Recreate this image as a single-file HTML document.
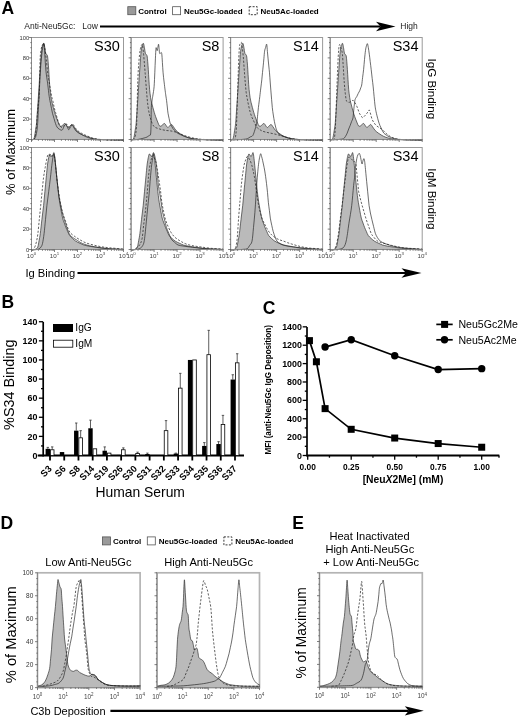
<!DOCTYPE html>
<html><head><meta charset="utf-8"><title>Figure</title>
<style>html,body{margin:0;padding:0;background:#fff;width:520px;height:718px;overflow:hidden;font-family:"Liberation Sans",sans-serif}svg{filter:grayscale(1)}</style>
</head><body>
<svg width="520" height="718" viewBox="0 0 520 718" style="display:block;font-family:'Liberation Sans', sans-serif">
<rect width="520" height="718" fill="#fff"/>
<text x="1.5" y="13.8" font-size="17.5" font-weight="bold" text-anchor="start" fill="#000" >A</text>
<rect x="127.8" y="6.7" width="8" height="8" fill="#9a9a9a" stroke="#555" stroke-width="0.8"/>
<text x="138.2" y="13.9" font-size="8" font-weight="bold" text-anchor="start" fill="#000" >Control</text>
<rect x="172.6" y="6.7" width="8" height="8" fill="#fff" stroke="#555" stroke-width="0.8"/>
<text x="184" y="13.9" font-size="8" font-weight="bold" text-anchor="start" fill="#000" >Neu5Gc-loaded</text>
<rect x="249.2" y="6.7" width="8" height="8" fill="#fff" stroke="#222" stroke-width="0.9" stroke-dasharray="2,1.4"/>
<text x="260.5" y="13.9" font-size="8" font-weight="bold" text-anchor="start" fill="#000" >Neu5Ac-loaded</text>
<text x="24.3" y="29.3" font-size="8.5" font-weight="normal" text-anchor="start" fill="#222" >Anti-Neu5Gc:</text>
<text x="82.2" y="29.3" font-size="8.5" font-weight="normal" text-anchor="start" fill="#222" >Low</text>
<line x1="100" y1="26.5" x2="380.5" y2="26.5" stroke="#000" stroke-width="2.1"/>
<path d="M395.5,26.5 L376,21.8 L380.5,26.5 L376,31.2 Z" fill="#000"/>
<text x="400.3" y="29.3" font-size="8.5" font-weight="normal" text-anchor="start" fill="#222" >High</text>
<rect x="31.5" y="37.5" width="92" height="102" fill="#fff" stroke="#9a9a9a" stroke-width="1"/>
<path d="M31.5,140 C31.75,139.95 32.58,139.95 33,139.7 C33.42,139.45 33.72,139.2 34,138.5 C34.28,137.8 34.45,136.83 34.7,135.5 C34.95,134.17 35.2,132.5 35.5,130.5 C35.8,128.5 36.17,127 36.5,123.5 C36.83,120 37.18,114 37.5,109.5 C37.82,105 38.13,100.5 38.4,96.5 C38.67,92.5 38.9,88.67 39.1,85.5 C39.3,82.33 39.4,80.5 39.6,77.5 C39.8,74.5 40.08,70.67 40.3,67.5 C40.52,64.33 40.7,61.17 40.9,58.5 C41.1,55.83 41.27,53.5 41.5,51.5 C41.73,49.5 42.03,47.67 42.3,46.5 C42.57,45.33 42.83,45.02 43.1,44.5 C43.37,43.98 43.62,42.9 43.9,43.4 C44.18,43.9 44.5,45.9 44.8,47.5 C45.1,49.1 45.42,51.87 45.7,53 C45.98,54.13 46.2,53.8 46.5,54.3 C46.8,54.8 47.23,54.8 47.5,56 C47.77,57.2 47.9,59.25 48.1,61.5 C48.3,63.75 48.5,66.5 48.7,69.5 C48.9,72.5 49.08,76.17 49.3,79.5 C49.52,82.83 49.72,86.5 50,89.5 C50.28,92.5 50.67,95.33 51,97.5 C51.33,99.67 51.62,100.83 52,102.5 C52.38,104.17 52.85,105.83 53.3,107.5 C53.75,109.17 54.25,111 54.7,112.5 C55.15,114 55.57,115.25 56,116.5 C56.43,117.75 56.88,118.92 57.3,120 C57.72,121.08 58.08,122.03 58.5,123 C58.92,123.97 59.3,125.28 59.8,125.8 C60.3,126.32 60.92,126.32 61.5,126.1 C62.08,125.88 62.72,124.93 63.3,124.5 C63.88,124.07 64.47,123.33 65,123.5 C65.53,123.67 65.97,124.83 66.5,125.5 C67.03,126.17 67.62,127.42 68.2,127.5 C68.78,127.58 69.37,126.5 70,126 C70.63,125.5 71.33,124.33 72,124.5 C72.67,124.67 73.25,126 74,127 C74.75,128 75.58,129.5 76.5,130.5 C77.42,131.5 78.42,132.2 79.5,133 C80.58,133.8 81.83,134.63 83,135.3 C84.17,135.97 85.08,136.47 86.5,137 C87.92,137.53 89.5,138.08 91.5,138.5 C93.5,138.92 95.17,139.28 98.5,139.5 C101.83,139.72 107.33,139.72 111.5,139.8 C115.67,139.88 121.5,139.97 123.5,140 L123.5,139.5 L31.5,139.5 Z" fill="#bababa" stroke="none"/>
<path d="M31.5,140 C31.75,139.95 32.58,139.95 33,139.7 C33.42,139.45 33.72,139.2 34,138.5 C34.28,137.8 34.45,136.83 34.7,135.5 C34.95,134.17 35.2,132.5 35.5,130.5 C35.8,128.5 36.17,127 36.5,123.5 C36.83,120 37.18,114 37.5,109.5 C37.82,105 38.13,100.5 38.4,96.5 C38.67,92.5 38.9,88.67 39.1,85.5 C39.3,82.33 39.4,80.5 39.6,77.5 C39.8,74.5 40.08,70.67 40.3,67.5 C40.52,64.33 40.7,61.17 40.9,58.5 C41.1,55.83 41.27,53.5 41.5,51.5 C41.73,49.5 42.03,47.67 42.3,46.5 C42.57,45.33 42.83,45.02 43.1,44.5 C43.37,43.98 43.62,42.9 43.9,43.4 C44.18,43.9 44.5,45.9 44.8,47.5 C45.1,49.1 45.42,51.87 45.7,53 C45.98,54.13 46.2,53.8 46.5,54.3 C46.8,54.8 47.23,54.8 47.5,56 C47.77,57.2 47.9,59.25 48.1,61.5 C48.3,63.75 48.5,66.5 48.7,69.5 C48.9,72.5 49.08,76.17 49.3,79.5 C49.52,82.83 49.72,86.5 50,89.5 C50.28,92.5 50.67,95.33 51,97.5 C51.33,99.67 51.62,100.83 52,102.5 C52.38,104.17 52.85,105.83 53.3,107.5 C53.75,109.17 54.25,111 54.7,112.5 C55.15,114 55.57,115.25 56,116.5 C56.43,117.75 56.88,118.92 57.3,120 C57.72,121.08 58.08,122.03 58.5,123 C58.92,123.97 59.3,125.28 59.8,125.8 C60.3,126.32 60.92,126.32 61.5,126.1 C62.08,125.88 62.72,124.93 63.3,124.5 C63.88,124.07 64.47,123.33 65,123.5 C65.53,123.67 65.97,124.83 66.5,125.5 C67.03,126.17 67.62,127.42 68.2,127.5 C68.78,127.58 69.37,126.5 70,126 C70.63,125.5 71.33,124.33 72,124.5 C72.67,124.67 73.25,126 74,127 C74.75,128 75.58,129.5 76.5,130.5 C77.42,131.5 78.42,132.2 79.5,133 C80.58,133.8 81.83,134.63 83,135.3 C84.17,135.97 85.08,136.47 86.5,137 C87.92,137.53 89.5,138.08 91.5,138.5 C93.5,138.92 95.17,139.28 98.5,139.5 C101.83,139.72 107.33,139.72 111.5,139.8 C115.67,139.88 121.5,139.97 123.5,140" fill="none" stroke="#262626" stroke-width="0.65"/>
<path d="M34,140 C34.17,139.58 34.65,139.25 35,137.5 C35.35,135.75 35.75,132.83 36.1,129.5 C36.45,126.17 36.77,121.5 37.1,117.5 C37.43,113.5 37.77,109 38.1,105.5 C38.43,102 38.83,101.17 39.1,96.5 C39.37,91.83 39.52,84 39.7,77.5 C39.88,71 39.92,62.42 40.2,57.5 C40.48,52.58 40.98,50.17 41.4,48 C41.82,45.83 42.32,45.25 42.7,44.5 C43.08,43.75 43.4,43.17 43.7,43.5 C44,43.83 44.23,45.17 44.5,46.5 C44.77,47.83 45,49.33 45.3,51.5 C45.6,53.67 45.93,56.17 46.3,59.5 C46.67,62.83 47.1,68.17 47.5,71.5 C47.9,74.83 48.27,76.83 48.7,79.5 C49.13,82.17 49.6,84.67 50.1,87.5 C50.6,90.33 51.22,94.17 51.7,96.5 C52.18,98.83 52.62,99.83 53,101.5 C53.38,103.17 53.67,105 54,106.5 C54.33,108 54.68,109.33 55,110.5 C55.32,111.67 55.52,112.17 55.9,113.5 C56.28,114.83 56.87,117 57.3,118.5 C57.73,120 58.05,121.25 58.5,122.5 C58.95,123.75 59.42,125.17 60,126 C60.58,126.83 61.33,127.58 62,127.5 C62.67,127.42 63.33,126.17 64,125.5 C64.67,124.83 65.37,123.42 66,123.5 C66.63,123.58 67.22,125.33 67.8,126 C68.38,126.67 68.97,127.58 69.5,127.5 C70.03,127.42 70.47,126.08 71,125.5 C71.53,124.92 72.12,123.83 72.7,124 C73.28,124.17 73.87,125.58 74.5,126.5 C75.13,127.42 75.67,128.58 76.5,129.5 C77.33,130.42 78.33,131.2 79.5,132 C80.67,132.8 82.17,133.63 83.5,134.3 C84.83,134.97 85.83,135.33 87.5,136 C89.17,136.67 90.83,137.68 93.5,138.3 C96.17,138.92 98.5,139.42 103.5,139.7 C108.5,139.98 120.17,139.95 123.5,140" fill="none" stroke="#1e1e1e" stroke-width="0.7" stroke-dasharray="2.2,1.6"/>
<path d="M31.5,140 C31.75,139.92 32.5,139.75 33,139.5 C33.5,139.25 34,139.17 34.5,138.5 C35,137.83 35.5,137.67 36,135.5 C36.5,133.33 37.05,130.83 37.5,125.5 C37.95,120.17 38.3,111.17 38.7,103.5 C39.1,95.83 39.5,86.5 39.9,79.5 C40.3,72.5 40.7,66.33 41.1,61.5 C41.5,56.67 41.93,53.25 42.3,50.5 C42.67,47.75 43.03,46.17 43.3,45 C43.57,43.83 43.73,43.08 43.9,43.5 C44.07,43.92 44.15,45.63 44.3,47.5 C44.45,49.37 44.52,50.72 44.8,54.7 C45.08,58.68 45.52,66.53 46,71.4 C46.48,76.27 47.17,79.72 47.7,83.9 C48.23,88.08 48.73,93.23 49.2,96.5 C49.67,99.77 50.12,101.5 50.5,103.5 C50.88,105.5 51.17,106.85 51.5,108.5 C51.83,110.15 52.08,111.73 52.5,113.4 C52.92,115.07 53.5,116.82 54,118.5 C54.5,120.18 55,122.08 55.5,123.5 C56,124.92 56.42,126.08 57,127 C57.58,127.92 58.15,128.48 59,129 C59.85,129.52 61.27,130.52 62.1,130.1 C62.93,129.68 63.37,127.47 64,126.5 C64.63,125.53 65.32,124.13 65.9,124.3 C66.48,124.47 67.02,126.6 67.5,127.5 C67.98,128.4 68.3,129.78 68.8,129.7 C69.3,129.62 69.93,127.77 70.5,127 C71.07,126.23 71.62,124.93 72.2,125.1 C72.78,125.27 73.37,127.02 74,128 C74.63,128.98 75.23,130.17 76,131 C76.77,131.83 77.68,132.42 78.6,133 C79.52,133.58 80.32,134 81.5,134.5 C82.68,135 83.72,135.28 85.7,136 C87.68,136.72 90.43,138.18 93.4,138.8 C96.37,139.42 98.48,139.5 103.5,139.7 C108.52,139.9 120.17,139.95 123.5,140" fill="none" stroke="#1e1e1e" stroke-width="0.65"/>
<line x1="31.5" y1="37.5" x2="31.5" y2="139.5" stroke="#8a8a8a" stroke-width="1"/>
<line x1="31.5" y1="139.5" x2="123.5" y2="139.5" stroke="#8a8a8a" stroke-width="1"/>
<line x1="29" y1="139.5" x2="31.5" y2="139.5" stroke="#4a4a4a" stroke-width="0.7"/>
<line x1="30.3" y1="134.4" x2="31.5" y2="134.4" stroke="#4a4a4a" stroke-width="0.7"/>
<line x1="30.3" y1="129.3" x2="31.5" y2="129.3" stroke="#4a4a4a" stroke-width="0.7"/>
<line x1="30.3" y1="124.2" x2="31.5" y2="124.2" stroke="#4a4a4a" stroke-width="0.7"/>
<line x1="29" y1="119.1" x2="31.5" y2="119.1" stroke="#4a4a4a" stroke-width="0.7"/>
<line x1="30.3" y1="114" x2="31.5" y2="114" stroke="#4a4a4a" stroke-width="0.7"/>
<line x1="30.3" y1="108.9" x2="31.5" y2="108.9" stroke="#4a4a4a" stroke-width="0.7"/>
<line x1="30.3" y1="103.8" x2="31.5" y2="103.8" stroke="#4a4a4a" stroke-width="0.7"/>
<line x1="29" y1="98.7" x2="31.5" y2="98.7" stroke="#4a4a4a" stroke-width="0.7"/>
<line x1="30.3" y1="93.6" x2="31.5" y2="93.6" stroke="#4a4a4a" stroke-width="0.7"/>
<line x1="30.3" y1="88.5" x2="31.5" y2="88.5" stroke="#4a4a4a" stroke-width="0.7"/>
<line x1="30.3" y1="83.4" x2="31.5" y2="83.4" stroke="#4a4a4a" stroke-width="0.7"/>
<line x1="29" y1="78.3" x2="31.5" y2="78.3" stroke="#4a4a4a" stroke-width="0.7"/>
<line x1="30.3" y1="73.2" x2="31.5" y2="73.2" stroke="#4a4a4a" stroke-width="0.7"/>
<line x1="30.3" y1="68.1" x2="31.5" y2="68.1" stroke="#4a4a4a" stroke-width="0.7"/>
<line x1="30.3" y1="63" x2="31.5" y2="63" stroke="#4a4a4a" stroke-width="0.7"/>
<line x1="29" y1="57.9" x2="31.5" y2="57.9" stroke="#4a4a4a" stroke-width="0.7"/>
<line x1="30.3" y1="52.8" x2="31.5" y2="52.8" stroke="#4a4a4a" stroke-width="0.7"/>
<line x1="30.3" y1="47.7" x2="31.5" y2="47.7" stroke="#4a4a4a" stroke-width="0.7"/>
<line x1="30.3" y1="42.6" x2="31.5" y2="42.6" stroke="#4a4a4a" stroke-width="0.7"/>
<line x1="29" y1="37.5" x2="31.5" y2="37.5" stroke="#4a4a4a" stroke-width="0.7"/>
<line x1="31.5" y1="139.5" x2="31.5" y2="142" stroke="#4a4a4a" stroke-width="0.7"/>
<line x1="38.42" y1="139.5" x2="38.42" y2="140.8" stroke="#4a4a4a" stroke-width="0.7"/>
<line x1="42.47" y1="139.5" x2="42.47" y2="140.8" stroke="#4a4a4a" stroke-width="0.7"/>
<line x1="45.35" y1="139.5" x2="45.35" y2="140.8" stroke="#4a4a4a" stroke-width="0.7"/>
<line x1="47.58" y1="139.5" x2="47.58" y2="140.8" stroke="#4a4a4a" stroke-width="0.7"/>
<line x1="49.4" y1="139.5" x2="49.4" y2="140.8" stroke="#4a4a4a" stroke-width="0.7"/>
<line x1="50.94" y1="139.5" x2="50.94" y2="140.8" stroke="#4a4a4a" stroke-width="0.7"/>
<line x1="52.27" y1="139.5" x2="52.27" y2="140.8" stroke="#4a4a4a" stroke-width="0.7"/>
<line x1="53.45" y1="139.5" x2="53.45" y2="140.8" stroke="#4a4a4a" stroke-width="0.7"/>
<line x1="54.5" y1="139.5" x2="54.5" y2="142" stroke="#4a4a4a" stroke-width="0.7"/>
<line x1="61.42" y1="139.5" x2="61.42" y2="140.8" stroke="#4a4a4a" stroke-width="0.7"/>
<line x1="65.47" y1="139.5" x2="65.47" y2="140.8" stroke="#4a4a4a" stroke-width="0.7"/>
<line x1="68.35" y1="139.5" x2="68.35" y2="140.8" stroke="#4a4a4a" stroke-width="0.7"/>
<line x1="70.58" y1="139.5" x2="70.58" y2="140.8" stroke="#4a4a4a" stroke-width="0.7"/>
<line x1="72.4" y1="139.5" x2="72.4" y2="140.8" stroke="#4a4a4a" stroke-width="0.7"/>
<line x1="73.94" y1="139.5" x2="73.94" y2="140.8" stroke="#4a4a4a" stroke-width="0.7"/>
<line x1="75.27" y1="139.5" x2="75.27" y2="140.8" stroke="#4a4a4a" stroke-width="0.7"/>
<line x1="76.45" y1="139.5" x2="76.45" y2="140.8" stroke="#4a4a4a" stroke-width="0.7"/>
<line x1="77.5" y1="139.5" x2="77.5" y2="142" stroke="#4a4a4a" stroke-width="0.7"/>
<line x1="84.42" y1="139.5" x2="84.42" y2="140.8" stroke="#4a4a4a" stroke-width="0.7"/>
<line x1="88.47" y1="139.5" x2="88.47" y2="140.8" stroke="#4a4a4a" stroke-width="0.7"/>
<line x1="91.35" y1="139.5" x2="91.35" y2="140.8" stroke="#4a4a4a" stroke-width="0.7"/>
<line x1="93.58" y1="139.5" x2="93.58" y2="140.8" stroke="#4a4a4a" stroke-width="0.7"/>
<line x1="95.4" y1="139.5" x2="95.4" y2="140.8" stroke="#4a4a4a" stroke-width="0.7"/>
<line x1="96.94" y1="139.5" x2="96.94" y2="140.8" stroke="#4a4a4a" stroke-width="0.7"/>
<line x1="98.27" y1="139.5" x2="98.27" y2="140.8" stroke="#4a4a4a" stroke-width="0.7"/>
<line x1="99.45" y1="139.5" x2="99.45" y2="140.8" stroke="#4a4a4a" stroke-width="0.7"/>
<line x1="100.5" y1="139.5" x2="100.5" y2="142" stroke="#4a4a4a" stroke-width="0.7"/>
<line x1="107.42" y1="139.5" x2="107.42" y2="140.8" stroke="#4a4a4a" stroke-width="0.7"/>
<line x1="111.47" y1="139.5" x2="111.47" y2="140.8" stroke="#4a4a4a" stroke-width="0.7"/>
<line x1="114.35" y1="139.5" x2="114.35" y2="140.8" stroke="#4a4a4a" stroke-width="0.7"/>
<line x1="116.58" y1="139.5" x2="116.58" y2="140.8" stroke="#4a4a4a" stroke-width="0.7"/>
<line x1="118.4" y1="139.5" x2="118.4" y2="140.8" stroke="#4a4a4a" stroke-width="0.7"/>
<line x1="119.94" y1="139.5" x2="119.94" y2="140.8" stroke="#4a4a4a" stroke-width="0.7"/>
<line x1="121.27" y1="139.5" x2="121.27" y2="140.8" stroke="#4a4a4a" stroke-width="0.7"/>
<line x1="122.45" y1="139.5" x2="122.45" y2="140.8" stroke="#4a4a4a" stroke-width="0.7"/>
<line x1="123.5" y1="139.5" x2="123.5" y2="142" stroke="#4a4a4a" stroke-width="0.7"/>
<text x="29.2" y="141.59" font-size="5.8" font-weight="normal" text-anchor="end" fill="#333" >0</text>
<text x="29.2" y="121.19" font-size="5.8" font-weight="normal" text-anchor="end" fill="#333" >20</text>
<text x="29.2" y="100.79" font-size="5.8" font-weight="normal" text-anchor="end" fill="#333" >40</text>
<text x="29.2" y="80.39" font-size="5.8" font-weight="normal" text-anchor="end" fill="#333" >60</text>
<text x="29.2" y="59.99" font-size="5.8" font-weight="normal" text-anchor="end" fill="#333" >80</text>
<text x="29.2" y="39.59" font-size="5.8" font-weight="normal" text-anchor="end" fill="#333" >100</text>
<text x="119.8" y="50.9" font-size="14.5" font-weight="normal" text-anchor="end" fill="#000" >S30</text>
<rect x="131.1" y="37.5" width="92" height="102" fill="#fff" stroke="#9a9a9a" stroke-width="1"/>
<path d="M131.1,140 C131.35,139.95 132.18,139.95 132.6,139.7 C133.02,139.45 133.32,139.2 133.6,138.5 C133.88,137.8 134.05,136.83 134.3,135.5 C134.55,134.17 134.8,132.5 135.1,130.5 C135.4,128.5 135.77,127 136.1,123.5 C136.43,120 136.78,114 137.1,109.5 C137.42,105 137.73,100.5 138,96.5 C138.27,92.5 138.5,88.67 138.7,85.5 C138.9,82.33 139,80.5 139.2,77.5 C139.4,74.5 139.68,70.67 139.9,67.5 C140.12,64.33 140.3,61.17 140.5,58.5 C140.7,55.83 140.87,53.5 141.1,51.5 C141.33,49.5 141.63,47.67 141.9,46.5 C142.17,45.33 142.43,45.02 142.7,44.5 C142.97,43.98 143.22,42.9 143.5,43.4 C143.78,43.9 144.1,45.9 144.4,47.5 C144.7,49.1 145.02,51.87 145.3,53 C145.58,54.13 145.8,53.8 146.1,54.3 C146.4,54.8 146.83,54.8 147.1,56 C147.37,57.2 147.5,59.25 147.7,61.5 C147.9,63.75 148.1,66.5 148.3,69.5 C148.5,72.5 148.68,76.17 148.9,79.5 C149.12,82.83 149.32,86.5 149.6,89.5 C149.88,92.5 150.27,95.33 150.6,97.5 C150.93,99.67 151.22,100.83 151.6,102.5 C151.98,104.17 152.45,105.83 152.9,107.5 C153.35,109.17 153.85,111 154.3,112.5 C154.75,114 155.17,115.25 155.6,116.5 C156.03,117.75 156.48,118.92 156.9,120 C157.32,121.08 157.68,122.03 158.1,123 C158.52,123.97 158.9,125.28 159.4,125.8 C159.9,126.32 160.52,126.32 161.1,126.1 C161.68,125.88 162.32,124.93 162.9,124.5 C163.48,124.07 164.07,123.33 164.6,123.5 C165.13,123.67 165.57,124.83 166.1,125.5 C166.63,126.17 167.22,127.42 167.8,127.5 C168.38,127.58 168.97,126.5 169.6,126 C170.23,125.5 170.93,124.33 171.6,124.5 C172.27,124.67 172.85,126 173.6,127 C174.35,128 175.18,129.5 176.1,130.5 C177.02,131.5 178.02,132.2 179.1,133 C180.18,133.8 181.43,134.63 182.6,135.3 C183.77,135.97 184.68,136.47 186.1,137 C187.52,137.53 189.1,138.08 191.1,138.5 C193.1,138.92 194.77,139.28 198.1,139.5 C201.43,139.72 206.93,139.72 211.1,139.8 C215.27,139.88 221.1,139.97 223.1,140 L223.1,139.5 L131.1,139.5 Z" fill="#bababa" stroke="none"/>
<path d="M131.1,140 C131.35,139.95 132.18,139.95 132.6,139.7 C133.02,139.45 133.32,139.2 133.6,138.5 C133.88,137.8 134.05,136.83 134.3,135.5 C134.55,134.17 134.8,132.5 135.1,130.5 C135.4,128.5 135.77,127 136.1,123.5 C136.43,120 136.78,114 137.1,109.5 C137.42,105 137.73,100.5 138,96.5 C138.27,92.5 138.5,88.67 138.7,85.5 C138.9,82.33 139,80.5 139.2,77.5 C139.4,74.5 139.68,70.67 139.9,67.5 C140.12,64.33 140.3,61.17 140.5,58.5 C140.7,55.83 140.87,53.5 141.1,51.5 C141.33,49.5 141.63,47.67 141.9,46.5 C142.17,45.33 142.43,45.02 142.7,44.5 C142.97,43.98 143.22,42.9 143.5,43.4 C143.78,43.9 144.1,45.9 144.4,47.5 C144.7,49.1 145.02,51.87 145.3,53 C145.58,54.13 145.8,53.8 146.1,54.3 C146.4,54.8 146.83,54.8 147.1,56 C147.37,57.2 147.5,59.25 147.7,61.5 C147.9,63.75 148.1,66.5 148.3,69.5 C148.5,72.5 148.68,76.17 148.9,79.5 C149.12,82.83 149.32,86.5 149.6,89.5 C149.88,92.5 150.27,95.33 150.6,97.5 C150.93,99.67 151.22,100.83 151.6,102.5 C151.98,104.17 152.45,105.83 152.9,107.5 C153.35,109.17 153.85,111 154.3,112.5 C154.75,114 155.17,115.25 155.6,116.5 C156.03,117.75 156.48,118.92 156.9,120 C157.32,121.08 157.68,122.03 158.1,123 C158.52,123.97 158.9,125.28 159.4,125.8 C159.9,126.32 160.52,126.32 161.1,126.1 C161.68,125.88 162.32,124.93 162.9,124.5 C163.48,124.07 164.07,123.33 164.6,123.5 C165.13,123.67 165.57,124.83 166.1,125.5 C166.63,126.17 167.22,127.42 167.8,127.5 C168.38,127.58 168.97,126.5 169.6,126 C170.23,125.5 170.93,124.33 171.6,124.5 C172.27,124.67 172.85,126 173.6,127 C174.35,128 175.18,129.5 176.1,130.5 C177.02,131.5 178.02,132.2 179.1,133 C180.18,133.8 181.43,134.63 182.6,135.3 C183.77,135.97 184.68,136.47 186.1,137 C187.52,137.53 189.1,138.08 191.1,138.5 C193.1,138.92 194.77,139.28 198.1,139.5 C201.43,139.72 206.93,139.72 211.1,139.8 C215.27,139.88 221.1,139.97 223.1,140" fill="none" stroke="#262626" stroke-width="0.65"/>
<path d="M133.1,140 C133.27,139.75 133.68,139.42 134.1,138.5 C134.52,137.58 135.17,137.05 135.6,134.5 C136.03,131.95 136.4,129.82 136.7,123.2 C137,116.58 137.17,103.08 137.4,94.8 C137.63,86.52 137.75,80.13 138.1,73.5 C138.45,66.87 139.03,59.5 139.5,55 C139.97,50.5 140.53,48.17 140.9,46.5 C141.27,44.83 141.45,45.35 141.7,45 C141.95,44.65 142.17,43.65 142.4,44.4 C142.63,45.15 142.87,47.48 143.1,49.5 C143.33,51.52 143.45,52.5 143.8,56.5 C144.15,60.5 144.73,67.58 145.2,73.5 C145.67,79.42 146.13,86.55 146.6,92 C147.07,97.45 147.4,101.95 148,106.2 C148.6,110.45 149.25,114.18 150.2,117.5 C151.15,120.82 152.17,124.2 153.7,126.1 C155.23,128 157.5,128.2 159.4,128.9 C161.3,129.6 163.15,129.95 165.1,130.3 C167.05,130.65 169.1,130.63 171.1,131 C173.1,131.37 175.1,131.83 177.1,132.5 C179.1,133.17 180.77,134.17 183.1,135 C185.43,135.83 188.1,136.78 191.1,137.5 C194.1,138.22 195.77,138.88 201.1,139.3 C206.43,139.72 219.43,139.88 223.1,140" fill="none" stroke="#1e1e1e" stroke-width="0.7" stroke-dasharray="2.2,1.6"/>
<path d="M131.1,140 C131.93,139.95 134.6,139.87 136.1,139.7 C137.6,139.53 138.77,139.28 140.1,139 C141.43,138.72 142.93,138.33 144.1,138 C145.27,137.67 146.27,137.42 147.1,137 C147.93,136.58 148.52,135.98 149.1,135.5 C149.68,135.02 150.27,136.27 150.6,134.1 C150.93,131.93 150.98,126.92 151.1,122.5 C151.22,118.08 151.13,111.27 151.3,107.6 C151.47,103.93 151.87,102.35 152.1,100.5 C152.33,98.65 152.47,98 152.7,96.5 C152.93,95 153.27,93.13 153.5,91.5 C153.73,89.87 153.93,88.7 154.1,86.7 C154.27,84.7 154.38,81.82 154.5,79.5 C154.62,77.18 154.7,75.13 154.8,72.8 C154.9,70.47 155,67.82 155.1,65.5 C155.2,63.18 155.3,61.07 155.4,58.9 C155.5,56.73 155.58,54.37 155.7,52.5 C155.82,50.63 155.93,48.2 156.1,47.7 C156.27,47.2 156.5,49.03 156.7,49.5 C156.9,49.97 157.08,51 157.3,50.5 C157.52,50 157.78,47.53 158,46.5 C158.22,45.47 158.42,43.97 158.6,44.3 C158.78,44.63 158.93,47 159.1,48.5 C159.27,50 159.35,52.55 159.6,53.3 C159.85,54.05 160.25,53 160.6,53 C160.95,53 161.4,51.72 161.7,53.3 C162,54.88 162.17,59.25 162.4,62.5 C162.63,65.75 162.82,69.55 163.1,72.8 C163.38,76.05 163.75,78.98 164.1,82 C164.45,85.02 164.9,88.57 165.2,90.9 C165.5,93.23 165.67,94.37 165.9,96 C166.13,97.63 166.37,98.87 166.6,100.7 C166.83,102.53 167.07,104.92 167.3,107 C167.53,109.08 167.7,111.28 168,113.2 C168.3,115.12 168.75,116.87 169.1,118.5 C169.45,120.13 169.7,121.75 170.1,123 C170.5,124.25 171.03,125.08 171.5,126 C171.97,126.92 172.33,127.72 172.9,128.5 C173.47,129.28 174.22,130 174.9,130.7 C175.58,131.4 176.13,132.07 177,132.7 C177.87,133.33 178.75,133.87 180.1,134.5 C181.45,135.13 182.93,135.8 185.1,136.5 C187.27,137.2 189.77,138.17 193.1,138.7 C196.43,139.23 200.1,139.48 205.1,139.7 C210.1,139.92 220.1,139.95 223.1,140" fill="none" stroke="#1e1e1e" stroke-width="0.65"/>
<line x1="131.1" y1="37.5" x2="131.1" y2="139.5" stroke="#8a8a8a" stroke-width="1"/>
<line x1="131.1" y1="139.5" x2="223.1" y2="139.5" stroke="#8a8a8a" stroke-width="1"/>
<line x1="128.6" y1="139.5" x2="131.1" y2="139.5" stroke="#4a4a4a" stroke-width="0.7"/>
<line x1="129.9" y1="134.4" x2="131.1" y2="134.4" stroke="#4a4a4a" stroke-width="0.7"/>
<line x1="129.9" y1="129.3" x2="131.1" y2="129.3" stroke="#4a4a4a" stroke-width="0.7"/>
<line x1="129.9" y1="124.2" x2="131.1" y2="124.2" stroke="#4a4a4a" stroke-width="0.7"/>
<line x1="128.6" y1="119.1" x2="131.1" y2="119.1" stroke="#4a4a4a" stroke-width="0.7"/>
<line x1="129.9" y1="114" x2="131.1" y2="114" stroke="#4a4a4a" stroke-width="0.7"/>
<line x1="129.9" y1="108.9" x2="131.1" y2="108.9" stroke="#4a4a4a" stroke-width="0.7"/>
<line x1="129.9" y1="103.8" x2="131.1" y2="103.8" stroke="#4a4a4a" stroke-width="0.7"/>
<line x1="128.6" y1="98.7" x2="131.1" y2="98.7" stroke="#4a4a4a" stroke-width="0.7"/>
<line x1="129.9" y1="93.6" x2="131.1" y2="93.6" stroke="#4a4a4a" stroke-width="0.7"/>
<line x1="129.9" y1="88.5" x2="131.1" y2="88.5" stroke="#4a4a4a" stroke-width="0.7"/>
<line x1="129.9" y1="83.4" x2="131.1" y2="83.4" stroke="#4a4a4a" stroke-width="0.7"/>
<line x1="128.6" y1="78.3" x2="131.1" y2="78.3" stroke="#4a4a4a" stroke-width="0.7"/>
<line x1="129.9" y1="73.2" x2="131.1" y2="73.2" stroke="#4a4a4a" stroke-width="0.7"/>
<line x1="129.9" y1="68.1" x2="131.1" y2="68.1" stroke="#4a4a4a" stroke-width="0.7"/>
<line x1="129.9" y1="63" x2="131.1" y2="63" stroke="#4a4a4a" stroke-width="0.7"/>
<line x1="128.6" y1="57.9" x2="131.1" y2="57.9" stroke="#4a4a4a" stroke-width="0.7"/>
<line x1="129.9" y1="52.8" x2="131.1" y2="52.8" stroke="#4a4a4a" stroke-width="0.7"/>
<line x1="129.9" y1="47.7" x2="131.1" y2="47.7" stroke="#4a4a4a" stroke-width="0.7"/>
<line x1="129.9" y1="42.6" x2="131.1" y2="42.6" stroke="#4a4a4a" stroke-width="0.7"/>
<line x1="128.6" y1="37.5" x2="131.1" y2="37.5" stroke="#4a4a4a" stroke-width="0.7"/>
<line x1="131.1" y1="139.5" x2="131.1" y2="142" stroke="#4a4a4a" stroke-width="0.7"/>
<line x1="138.02" y1="139.5" x2="138.02" y2="140.8" stroke="#4a4a4a" stroke-width="0.7"/>
<line x1="142.07" y1="139.5" x2="142.07" y2="140.8" stroke="#4a4a4a" stroke-width="0.7"/>
<line x1="144.95" y1="139.5" x2="144.95" y2="140.8" stroke="#4a4a4a" stroke-width="0.7"/>
<line x1="147.18" y1="139.5" x2="147.18" y2="140.8" stroke="#4a4a4a" stroke-width="0.7"/>
<line x1="149" y1="139.5" x2="149" y2="140.8" stroke="#4a4a4a" stroke-width="0.7"/>
<line x1="150.54" y1="139.5" x2="150.54" y2="140.8" stroke="#4a4a4a" stroke-width="0.7"/>
<line x1="151.87" y1="139.5" x2="151.87" y2="140.8" stroke="#4a4a4a" stroke-width="0.7"/>
<line x1="153.05" y1="139.5" x2="153.05" y2="140.8" stroke="#4a4a4a" stroke-width="0.7"/>
<line x1="154.1" y1="139.5" x2="154.1" y2="142" stroke="#4a4a4a" stroke-width="0.7"/>
<line x1="161.02" y1="139.5" x2="161.02" y2="140.8" stroke="#4a4a4a" stroke-width="0.7"/>
<line x1="165.07" y1="139.5" x2="165.07" y2="140.8" stroke="#4a4a4a" stroke-width="0.7"/>
<line x1="167.95" y1="139.5" x2="167.95" y2="140.8" stroke="#4a4a4a" stroke-width="0.7"/>
<line x1="170.18" y1="139.5" x2="170.18" y2="140.8" stroke="#4a4a4a" stroke-width="0.7"/>
<line x1="172" y1="139.5" x2="172" y2="140.8" stroke="#4a4a4a" stroke-width="0.7"/>
<line x1="173.54" y1="139.5" x2="173.54" y2="140.8" stroke="#4a4a4a" stroke-width="0.7"/>
<line x1="174.87" y1="139.5" x2="174.87" y2="140.8" stroke="#4a4a4a" stroke-width="0.7"/>
<line x1="176.05" y1="139.5" x2="176.05" y2="140.8" stroke="#4a4a4a" stroke-width="0.7"/>
<line x1="177.1" y1="139.5" x2="177.1" y2="142" stroke="#4a4a4a" stroke-width="0.7"/>
<line x1="184.02" y1="139.5" x2="184.02" y2="140.8" stroke="#4a4a4a" stroke-width="0.7"/>
<line x1="188.07" y1="139.5" x2="188.07" y2="140.8" stroke="#4a4a4a" stroke-width="0.7"/>
<line x1="190.95" y1="139.5" x2="190.95" y2="140.8" stroke="#4a4a4a" stroke-width="0.7"/>
<line x1="193.18" y1="139.5" x2="193.18" y2="140.8" stroke="#4a4a4a" stroke-width="0.7"/>
<line x1="195" y1="139.5" x2="195" y2="140.8" stroke="#4a4a4a" stroke-width="0.7"/>
<line x1="196.54" y1="139.5" x2="196.54" y2="140.8" stroke="#4a4a4a" stroke-width="0.7"/>
<line x1="197.87" y1="139.5" x2="197.87" y2="140.8" stroke="#4a4a4a" stroke-width="0.7"/>
<line x1="199.05" y1="139.5" x2="199.05" y2="140.8" stroke="#4a4a4a" stroke-width="0.7"/>
<line x1="200.1" y1="139.5" x2="200.1" y2="142" stroke="#4a4a4a" stroke-width="0.7"/>
<line x1="207.02" y1="139.5" x2="207.02" y2="140.8" stroke="#4a4a4a" stroke-width="0.7"/>
<line x1="211.07" y1="139.5" x2="211.07" y2="140.8" stroke="#4a4a4a" stroke-width="0.7"/>
<line x1="213.95" y1="139.5" x2="213.95" y2="140.8" stroke="#4a4a4a" stroke-width="0.7"/>
<line x1="216.18" y1="139.5" x2="216.18" y2="140.8" stroke="#4a4a4a" stroke-width="0.7"/>
<line x1="218" y1="139.5" x2="218" y2="140.8" stroke="#4a4a4a" stroke-width="0.7"/>
<line x1="219.54" y1="139.5" x2="219.54" y2="140.8" stroke="#4a4a4a" stroke-width="0.7"/>
<line x1="220.87" y1="139.5" x2="220.87" y2="140.8" stroke="#4a4a4a" stroke-width="0.7"/>
<line x1="222.05" y1="139.5" x2="222.05" y2="140.8" stroke="#4a4a4a" stroke-width="0.7"/>
<line x1="223.1" y1="139.5" x2="223.1" y2="142" stroke="#4a4a4a" stroke-width="0.7"/>
<text x="219.4" y="50.9" font-size="14.5" font-weight="normal" text-anchor="end" fill="#000" >S8</text>
<rect x="230.6" y="37.5" width="92" height="102" fill="#fff" stroke="#9a9a9a" stroke-width="1"/>
<path d="M230.6,140 C230.85,139.95 231.68,139.95 232.1,139.7 C232.52,139.45 232.82,139.2 233.1,138.5 C233.38,137.8 233.55,136.83 233.8,135.5 C234.05,134.17 234.3,132.5 234.6,130.5 C234.9,128.5 235.27,127 235.6,123.5 C235.93,120 236.28,114 236.6,109.5 C236.92,105 237.23,100.5 237.5,96.5 C237.77,92.5 238,88.67 238.2,85.5 C238.4,82.33 238.5,80.5 238.7,77.5 C238.9,74.5 239.18,70.67 239.4,67.5 C239.62,64.33 239.8,61.17 240,58.5 C240.2,55.83 240.37,53.5 240.6,51.5 C240.83,49.5 241.13,47.67 241.4,46.5 C241.67,45.33 241.93,45.02 242.2,44.5 C242.47,43.98 242.72,42.9 243,43.4 C243.28,43.9 243.6,45.9 243.9,47.5 C244.2,49.1 244.52,51.87 244.8,53 C245.08,54.13 245.3,53.8 245.6,54.3 C245.9,54.8 246.33,54.8 246.6,56 C246.87,57.2 247,59.25 247.2,61.5 C247.4,63.75 247.6,66.5 247.8,69.5 C248,72.5 248.18,76.17 248.4,79.5 C248.62,82.83 248.82,86.5 249.1,89.5 C249.38,92.5 249.77,95.33 250.1,97.5 C250.43,99.67 250.72,100.83 251.1,102.5 C251.48,104.17 251.95,105.83 252.4,107.5 C252.85,109.17 253.35,111 253.8,112.5 C254.25,114 254.67,115.25 255.1,116.5 C255.53,117.75 255.98,118.92 256.4,120 C256.82,121.08 257.18,122.03 257.6,123 C258.02,123.97 258.4,125.28 258.9,125.8 C259.4,126.32 260.02,126.32 260.6,126.1 C261.18,125.88 261.82,124.93 262.4,124.5 C262.98,124.07 263.57,123.33 264.1,123.5 C264.63,123.67 265.07,124.83 265.6,125.5 C266.13,126.17 266.72,127.42 267.3,127.5 C267.88,127.58 268.47,126.5 269.1,126 C269.73,125.5 270.43,124.33 271.1,124.5 C271.77,124.67 272.35,126 273.1,127 C273.85,128 274.68,129.5 275.6,130.5 C276.52,131.5 277.52,132.2 278.6,133 C279.68,133.8 280.93,134.63 282.1,135.3 C283.27,135.97 284.18,136.47 285.6,137 C287.02,137.53 288.6,138.08 290.6,138.5 C292.6,138.92 294.27,139.28 297.6,139.5 C300.93,139.72 306.43,139.72 310.6,139.8 C314.77,139.88 320.6,139.97 322.6,140 L322.6,139.5 L230.6,139.5 Z" fill="#bababa" stroke="none"/>
<path d="M230.6,140 C230.85,139.95 231.68,139.95 232.1,139.7 C232.52,139.45 232.82,139.2 233.1,138.5 C233.38,137.8 233.55,136.83 233.8,135.5 C234.05,134.17 234.3,132.5 234.6,130.5 C234.9,128.5 235.27,127 235.6,123.5 C235.93,120 236.28,114 236.6,109.5 C236.92,105 237.23,100.5 237.5,96.5 C237.77,92.5 238,88.67 238.2,85.5 C238.4,82.33 238.5,80.5 238.7,77.5 C238.9,74.5 239.18,70.67 239.4,67.5 C239.62,64.33 239.8,61.17 240,58.5 C240.2,55.83 240.37,53.5 240.6,51.5 C240.83,49.5 241.13,47.67 241.4,46.5 C241.67,45.33 241.93,45.02 242.2,44.5 C242.47,43.98 242.72,42.9 243,43.4 C243.28,43.9 243.6,45.9 243.9,47.5 C244.2,49.1 244.52,51.87 244.8,53 C245.08,54.13 245.3,53.8 245.6,54.3 C245.9,54.8 246.33,54.8 246.6,56 C246.87,57.2 247,59.25 247.2,61.5 C247.4,63.75 247.6,66.5 247.8,69.5 C248,72.5 248.18,76.17 248.4,79.5 C248.62,82.83 248.82,86.5 249.1,89.5 C249.38,92.5 249.77,95.33 250.1,97.5 C250.43,99.67 250.72,100.83 251.1,102.5 C251.48,104.17 251.95,105.83 252.4,107.5 C252.85,109.17 253.35,111 253.8,112.5 C254.25,114 254.67,115.25 255.1,116.5 C255.53,117.75 255.98,118.92 256.4,120 C256.82,121.08 257.18,122.03 257.6,123 C258.02,123.97 258.4,125.28 258.9,125.8 C259.4,126.32 260.02,126.32 260.6,126.1 C261.18,125.88 261.82,124.93 262.4,124.5 C262.98,124.07 263.57,123.33 264.1,123.5 C264.63,123.67 265.07,124.83 265.6,125.5 C266.13,126.17 266.72,127.42 267.3,127.5 C267.88,127.58 268.47,126.5 269.1,126 C269.73,125.5 270.43,124.33 271.1,124.5 C271.77,124.67 272.35,126 273.1,127 C273.85,128 274.68,129.5 275.6,130.5 C276.52,131.5 277.52,132.2 278.6,133 C279.68,133.8 280.93,134.63 282.1,135.3 C283.27,135.97 284.18,136.47 285.6,137 C287.02,137.53 288.6,138.08 290.6,138.5 C292.6,138.92 294.27,139.28 297.6,139.5 C300.93,139.72 306.43,139.72 310.6,139.8 C314.77,139.88 320.6,139.97 322.6,140" fill="none" stroke="#262626" stroke-width="0.65"/>
<path d="M233.6,140 C233.85,139.75 234.63,140.58 235.1,138.5 C235.57,136.42 235.98,135.13 236.4,127.5 C236.82,119.87 237.23,103.53 237.6,92.7 C237.97,81.87 238.28,70.2 238.6,62.5 C238.92,54.8 239.17,49.7 239.5,46.5 C239.83,43.3 240.27,43.93 240.6,43.3 C240.93,42.67 241.2,41.83 241.5,42.7 C241.8,43.57 242.08,45.93 242.4,48.5 C242.72,51.07 243.08,54.43 243.4,58.1 C243.72,61.77 243.98,66.33 244.3,70.5 C244.62,74.67 244.98,79.43 245.3,83.1 C245.62,86.77 245.88,89.93 246.2,92.5 C246.52,95.07 246.8,96.33 247.2,98.5 C247.6,100.67 248.12,103.27 248.6,105.5 C249.08,107.73 249.6,110.07 250.1,111.9 C250.6,113.73 251.12,115.22 251.6,116.5 C252.08,117.78 252.45,118.43 253,119.6 C253.55,120.77 254.27,122.22 254.9,123.5 C255.53,124.78 256.02,126.3 256.8,127.3 C257.58,128.3 258.63,128.85 259.6,129.5 C260.57,130.15 261.43,130.73 262.6,131.2 C263.77,131.67 265.32,131.98 266.6,132.3 C267.88,132.62 268.97,132.82 270.3,133.1 C271.63,133.38 273.22,133.68 274.6,134 C275.98,134.32 277.27,134.67 278.6,135 C279.93,135.33 281.27,135.62 282.6,136 C283.93,136.38 284.93,136.85 286.6,137.3 C288.27,137.75 289.93,138.3 292.6,138.7 C295.27,139.1 297.6,139.48 302.6,139.7 C307.6,139.92 319.27,139.95 322.6,140" fill="none" stroke="#1e1e1e" stroke-width="0.7" stroke-dasharray="2.2,1.6"/>
<path d="M230.6,140 C231.93,139.95 236.43,139.82 238.6,139.7 C240.77,139.58 242.17,139.45 243.6,139.3 C245.03,139.15 246.12,139.18 247.2,138.8 C248.28,138.42 249.17,137.55 250.1,137 C251.03,136.45 252,136.68 252.8,135.5 C253.6,134.32 254.35,131.57 254.9,129.9 C255.45,128.23 255.75,126.9 256.1,125.5 C256.45,124.1 256.73,123.33 257,121.5 C257.27,119.67 257.47,116.82 257.7,114.5 C257.93,112.18 258.17,109.68 258.4,107.6 C258.63,105.52 258.87,103.85 259.1,102 C259.33,100.15 259.52,98.83 259.8,96.5 C260.08,94.17 260.47,90.78 260.8,88 C261.13,85.22 261.52,82.38 261.8,79.8 C262.08,77.22 262.27,74.82 262.5,72.5 C262.73,70.18 262.97,68.23 263.2,65.9 C263.43,63.57 263.67,60.95 263.9,58.5 C264.13,56.05 264.32,53.03 264.6,51.2 C264.88,49.37 265.25,48.65 265.6,47.5 C265.95,46.35 266.4,43.63 266.7,44.3 C267,44.97 267.17,49.07 267.4,51.5 C267.63,53.93 267.87,56.48 268.1,58.9 C268.33,61.32 268.57,63.68 268.8,66 C269.03,68.32 269.27,70.13 269.5,72.8 C269.73,75.47 269.97,78.98 270.2,82 C270.43,85.02 270.67,87.98 270.9,90.9 C271.13,93.82 271.37,96.72 271.6,99.5 C271.83,102.28 272.02,105.02 272.3,107.6 C272.58,110.18 272.95,112.68 273.3,115 C273.65,117.32 274.05,119.67 274.4,121.5 C274.75,123.33 275.05,124.6 275.4,126 C275.75,127.4 276.1,128.85 276.5,129.9 C276.9,130.95 277.35,131.6 277.8,132.3 C278.25,133 278.57,133.53 279.2,134.1 C279.83,134.67 280.67,135.23 281.6,135.7 C282.53,136.17 283.3,136.43 284.8,136.9 C286.3,137.37 287.97,138.03 290.6,138.5 C293.23,138.97 295.27,139.45 300.6,139.7 C305.93,139.95 318.93,139.95 322.6,140" fill="none" stroke="#1e1e1e" stroke-width="0.65"/>
<line x1="230.6" y1="37.5" x2="230.6" y2="139.5" stroke="#8a8a8a" stroke-width="1"/>
<line x1="230.6" y1="139.5" x2="322.6" y2="139.5" stroke="#8a8a8a" stroke-width="1"/>
<line x1="228.1" y1="139.5" x2="230.6" y2="139.5" stroke="#4a4a4a" stroke-width="0.7"/>
<line x1="229.4" y1="134.4" x2="230.6" y2="134.4" stroke="#4a4a4a" stroke-width="0.7"/>
<line x1="229.4" y1="129.3" x2="230.6" y2="129.3" stroke="#4a4a4a" stroke-width="0.7"/>
<line x1="229.4" y1="124.2" x2="230.6" y2="124.2" stroke="#4a4a4a" stroke-width="0.7"/>
<line x1="228.1" y1="119.1" x2="230.6" y2="119.1" stroke="#4a4a4a" stroke-width="0.7"/>
<line x1="229.4" y1="114" x2="230.6" y2="114" stroke="#4a4a4a" stroke-width="0.7"/>
<line x1="229.4" y1="108.9" x2="230.6" y2="108.9" stroke="#4a4a4a" stroke-width="0.7"/>
<line x1="229.4" y1="103.8" x2="230.6" y2="103.8" stroke="#4a4a4a" stroke-width="0.7"/>
<line x1="228.1" y1="98.7" x2="230.6" y2="98.7" stroke="#4a4a4a" stroke-width="0.7"/>
<line x1="229.4" y1="93.6" x2="230.6" y2="93.6" stroke="#4a4a4a" stroke-width="0.7"/>
<line x1="229.4" y1="88.5" x2="230.6" y2="88.5" stroke="#4a4a4a" stroke-width="0.7"/>
<line x1="229.4" y1="83.4" x2="230.6" y2="83.4" stroke="#4a4a4a" stroke-width="0.7"/>
<line x1="228.1" y1="78.3" x2="230.6" y2="78.3" stroke="#4a4a4a" stroke-width="0.7"/>
<line x1="229.4" y1="73.2" x2="230.6" y2="73.2" stroke="#4a4a4a" stroke-width="0.7"/>
<line x1="229.4" y1="68.1" x2="230.6" y2="68.1" stroke="#4a4a4a" stroke-width="0.7"/>
<line x1="229.4" y1="63" x2="230.6" y2="63" stroke="#4a4a4a" stroke-width="0.7"/>
<line x1="228.1" y1="57.9" x2="230.6" y2="57.9" stroke="#4a4a4a" stroke-width="0.7"/>
<line x1="229.4" y1="52.8" x2="230.6" y2="52.8" stroke="#4a4a4a" stroke-width="0.7"/>
<line x1="229.4" y1="47.7" x2="230.6" y2="47.7" stroke="#4a4a4a" stroke-width="0.7"/>
<line x1="229.4" y1="42.6" x2="230.6" y2="42.6" stroke="#4a4a4a" stroke-width="0.7"/>
<line x1="228.1" y1="37.5" x2="230.6" y2="37.5" stroke="#4a4a4a" stroke-width="0.7"/>
<line x1="230.6" y1="139.5" x2="230.6" y2="142" stroke="#4a4a4a" stroke-width="0.7"/>
<line x1="237.52" y1="139.5" x2="237.52" y2="140.8" stroke="#4a4a4a" stroke-width="0.7"/>
<line x1="241.57" y1="139.5" x2="241.57" y2="140.8" stroke="#4a4a4a" stroke-width="0.7"/>
<line x1="244.45" y1="139.5" x2="244.45" y2="140.8" stroke="#4a4a4a" stroke-width="0.7"/>
<line x1="246.68" y1="139.5" x2="246.68" y2="140.8" stroke="#4a4a4a" stroke-width="0.7"/>
<line x1="248.5" y1="139.5" x2="248.5" y2="140.8" stroke="#4a4a4a" stroke-width="0.7"/>
<line x1="250.04" y1="139.5" x2="250.04" y2="140.8" stroke="#4a4a4a" stroke-width="0.7"/>
<line x1="251.37" y1="139.5" x2="251.37" y2="140.8" stroke="#4a4a4a" stroke-width="0.7"/>
<line x1="252.55" y1="139.5" x2="252.55" y2="140.8" stroke="#4a4a4a" stroke-width="0.7"/>
<line x1="253.6" y1="139.5" x2="253.6" y2="142" stroke="#4a4a4a" stroke-width="0.7"/>
<line x1="260.52" y1="139.5" x2="260.52" y2="140.8" stroke="#4a4a4a" stroke-width="0.7"/>
<line x1="264.57" y1="139.5" x2="264.57" y2="140.8" stroke="#4a4a4a" stroke-width="0.7"/>
<line x1="267.45" y1="139.5" x2="267.45" y2="140.8" stroke="#4a4a4a" stroke-width="0.7"/>
<line x1="269.68" y1="139.5" x2="269.68" y2="140.8" stroke="#4a4a4a" stroke-width="0.7"/>
<line x1="271.5" y1="139.5" x2="271.5" y2="140.8" stroke="#4a4a4a" stroke-width="0.7"/>
<line x1="273.04" y1="139.5" x2="273.04" y2="140.8" stroke="#4a4a4a" stroke-width="0.7"/>
<line x1="274.37" y1="139.5" x2="274.37" y2="140.8" stroke="#4a4a4a" stroke-width="0.7"/>
<line x1="275.55" y1="139.5" x2="275.55" y2="140.8" stroke="#4a4a4a" stroke-width="0.7"/>
<line x1="276.6" y1="139.5" x2="276.6" y2="142" stroke="#4a4a4a" stroke-width="0.7"/>
<line x1="283.52" y1="139.5" x2="283.52" y2="140.8" stroke="#4a4a4a" stroke-width="0.7"/>
<line x1="287.57" y1="139.5" x2="287.57" y2="140.8" stroke="#4a4a4a" stroke-width="0.7"/>
<line x1="290.45" y1="139.5" x2="290.45" y2="140.8" stroke="#4a4a4a" stroke-width="0.7"/>
<line x1="292.68" y1="139.5" x2="292.68" y2="140.8" stroke="#4a4a4a" stroke-width="0.7"/>
<line x1="294.5" y1="139.5" x2="294.5" y2="140.8" stroke="#4a4a4a" stroke-width="0.7"/>
<line x1="296.04" y1="139.5" x2="296.04" y2="140.8" stroke="#4a4a4a" stroke-width="0.7"/>
<line x1="297.37" y1="139.5" x2="297.37" y2="140.8" stroke="#4a4a4a" stroke-width="0.7"/>
<line x1="298.55" y1="139.5" x2="298.55" y2="140.8" stroke="#4a4a4a" stroke-width="0.7"/>
<line x1="299.6" y1="139.5" x2="299.6" y2="142" stroke="#4a4a4a" stroke-width="0.7"/>
<line x1="306.52" y1="139.5" x2="306.52" y2="140.8" stroke="#4a4a4a" stroke-width="0.7"/>
<line x1="310.57" y1="139.5" x2="310.57" y2="140.8" stroke="#4a4a4a" stroke-width="0.7"/>
<line x1="313.45" y1="139.5" x2="313.45" y2="140.8" stroke="#4a4a4a" stroke-width="0.7"/>
<line x1="315.68" y1="139.5" x2="315.68" y2="140.8" stroke="#4a4a4a" stroke-width="0.7"/>
<line x1="317.5" y1="139.5" x2="317.5" y2="140.8" stroke="#4a4a4a" stroke-width="0.7"/>
<line x1="319.04" y1="139.5" x2="319.04" y2="140.8" stroke="#4a4a4a" stroke-width="0.7"/>
<line x1="320.37" y1="139.5" x2="320.37" y2="140.8" stroke="#4a4a4a" stroke-width="0.7"/>
<line x1="321.55" y1="139.5" x2="321.55" y2="140.8" stroke="#4a4a4a" stroke-width="0.7"/>
<line x1="322.6" y1="139.5" x2="322.6" y2="142" stroke="#4a4a4a" stroke-width="0.7"/>
<text x="318.9" y="50.9" font-size="14.5" font-weight="normal" text-anchor="end" fill="#000" >S14</text>
<rect x="330.2" y="37.5" width="92" height="102" fill="#fff" stroke="#9a9a9a" stroke-width="1"/>
<path d="M330.2,140 C330.45,139.95 331.28,139.95 331.7,139.7 C332.12,139.45 332.42,139.2 332.7,138.5 C332.98,137.8 333.15,136.83 333.4,135.5 C333.65,134.17 333.9,132.5 334.2,130.5 C334.5,128.5 334.87,127 335.2,123.5 C335.53,120 335.88,114 336.2,109.5 C336.52,105 336.83,100.5 337.1,96.5 C337.37,92.5 337.6,88.67 337.8,85.5 C338,82.33 338.1,80.5 338.3,77.5 C338.5,74.5 338.78,70.67 339,67.5 C339.22,64.33 339.4,61.17 339.6,58.5 C339.8,55.83 339.97,53.5 340.2,51.5 C340.43,49.5 340.73,47.67 341,46.5 C341.27,45.33 341.53,45.02 341.8,44.5 C342.07,43.98 342.32,42.9 342.6,43.4 C342.88,43.9 343.2,45.9 343.5,47.5 C343.8,49.1 344.12,51.87 344.4,53 C344.68,54.13 344.9,53.8 345.2,54.3 C345.5,54.8 345.93,54.8 346.2,56 C346.47,57.2 346.6,59.25 346.8,61.5 C347,63.75 347.2,66.5 347.4,69.5 C347.6,72.5 347.78,76.17 348,79.5 C348.22,82.83 348.42,86.5 348.7,89.5 C348.98,92.5 349.37,95.33 349.7,97.5 C350.03,99.67 350.32,100.83 350.7,102.5 C351.08,104.17 351.55,105.83 352,107.5 C352.45,109.17 352.95,111 353.4,112.5 C353.85,114 354.27,115.25 354.7,116.5 C355.13,117.75 355.58,118.92 356,120 C356.42,121.08 356.78,122.03 357.2,123 C357.62,123.97 358,125.28 358.5,125.8 C359,126.32 359.62,126.32 360.2,126.1 C360.78,125.88 361.42,124.93 362,124.5 C362.58,124.07 363.17,123.33 363.7,123.5 C364.23,123.67 364.67,124.83 365.2,125.5 C365.73,126.17 366.32,127.42 366.9,127.5 C367.48,127.58 368.07,126.5 368.7,126 C369.33,125.5 370.03,124.33 370.7,124.5 C371.37,124.67 371.95,126 372.7,127 C373.45,128 374.28,129.5 375.2,130.5 C376.12,131.5 377.12,132.2 378.2,133 C379.28,133.8 380.53,134.63 381.7,135.3 C382.87,135.97 383.78,136.47 385.2,137 C386.62,137.53 388.2,138.08 390.2,138.5 C392.2,138.92 393.87,139.28 397.2,139.5 C400.53,139.72 406.03,139.72 410.2,139.8 C414.37,139.88 420.2,139.97 422.2,140 L422.2,139.5 L330.2,139.5 Z" fill="#bababa" stroke="none"/>
<path d="M330.2,140 C330.45,139.95 331.28,139.95 331.7,139.7 C332.12,139.45 332.42,139.2 332.7,138.5 C332.98,137.8 333.15,136.83 333.4,135.5 C333.65,134.17 333.9,132.5 334.2,130.5 C334.5,128.5 334.87,127 335.2,123.5 C335.53,120 335.88,114 336.2,109.5 C336.52,105 336.83,100.5 337.1,96.5 C337.37,92.5 337.6,88.67 337.8,85.5 C338,82.33 338.1,80.5 338.3,77.5 C338.5,74.5 338.78,70.67 339,67.5 C339.22,64.33 339.4,61.17 339.6,58.5 C339.8,55.83 339.97,53.5 340.2,51.5 C340.43,49.5 340.73,47.67 341,46.5 C341.27,45.33 341.53,45.02 341.8,44.5 C342.07,43.98 342.32,42.9 342.6,43.4 C342.88,43.9 343.2,45.9 343.5,47.5 C343.8,49.1 344.12,51.87 344.4,53 C344.68,54.13 344.9,53.8 345.2,54.3 C345.5,54.8 345.93,54.8 346.2,56 C346.47,57.2 346.6,59.25 346.8,61.5 C347,63.75 347.2,66.5 347.4,69.5 C347.6,72.5 347.78,76.17 348,79.5 C348.22,82.83 348.42,86.5 348.7,89.5 C348.98,92.5 349.37,95.33 349.7,97.5 C350.03,99.67 350.32,100.83 350.7,102.5 C351.08,104.17 351.55,105.83 352,107.5 C352.45,109.17 352.95,111 353.4,112.5 C353.85,114 354.27,115.25 354.7,116.5 C355.13,117.75 355.58,118.92 356,120 C356.42,121.08 356.78,122.03 357.2,123 C357.62,123.97 358,125.28 358.5,125.8 C359,126.32 359.62,126.32 360.2,126.1 C360.78,125.88 361.42,124.93 362,124.5 C362.58,124.07 363.17,123.33 363.7,123.5 C364.23,123.67 364.67,124.83 365.2,125.5 C365.73,126.17 366.32,127.42 366.9,127.5 C367.48,127.58 368.07,126.5 368.7,126 C369.33,125.5 370.03,124.33 370.7,124.5 C371.37,124.67 371.95,126 372.7,127 C373.45,128 374.28,129.5 375.2,130.5 C376.12,131.5 377.12,132.2 378.2,133 C379.28,133.8 380.53,134.63 381.7,135.3 C382.87,135.97 383.78,136.47 385.2,137 C386.62,137.53 388.2,138.08 390.2,138.5 C392.2,138.92 393.87,139.28 397.2,139.5 C400.53,139.72 406.03,139.72 410.2,139.8 C414.37,139.88 420.2,139.97 422.2,140" fill="none" stroke="#262626" stroke-width="0.65"/>
<path d="M333.2,140 C333.42,139.58 334.1,140.42 334.5,137.5 C334.9,134.58 335.23,129.97 335.6,122.5 C335.97,115.03 336.33,102.2 336.7,92.7 C337.07,83.2 337.47,72.7 337.8,65.5 C338.13,58.3 338.42,52.98 338.7,49.5 C338.98,46.02 339.2,45.1 339.5,44.6 C339.8,44.1 340.18,45.68 340.5,46.5 C340.82,47.32 341.08,48.22 341.4,49.5 C341.72,50.78 342.08,51.2 342.4,54.2 C342.72,57.2 342.98,62.68 343.3,67.5 C343.62,72.32 343.97,78.77 344.3,83.1 C344.63,87.43 344.97,90.62 345.3,93.5 C345.63,96.38 345.9,98.98 346.3,100.4 C346.7,101.82 347.22,101.68 347.7,102 C348.18,102.32 348.62,102.38 349.2,102.3 C349.78,102.22 350.57,101.82 351.2,101.5 C351.83,101.18 352.38,100.23 353,100.4 C353.62,100.57 354.27,101.53 354.9,102.5 C355.53,103.47 356.25,104.95 356.8,106.2 C357.35,107.45 357.72,108.73 358.2,110 C358.68,111.27 359.2,112.8 359.7,113.8 C360.2,114.8 360.72,115.35 361.2,116 C361.68,116.65 362.03,117.7 362.6,117.7 C363.17,117.7 363.95,116.65 364.6,116 C365.25,115.35 365.95,114.47 366.5,113.8 C367.05,113.13 367.43,112.63 367.9,112 C368.37,111.37 368.83,109.58 369.3,110 C369.77,110.42 370.22,112.9 370.7,114.5 C371.18,116.1 371.62,118.18 372.2,119.6 C372.78,121.02 373.55,122.03 374.2,123 C374.85,123.97 375.3,124.65 376.1,125.4 C376.9,126.15 378.05,126.87 379,127.5 C379.95,128.13 381.02,128.62 381.8,129.2 C382.58,129.78 383.05,130.35 383.7,131 C384.35,131.65 384.95,132.43 385.7,133.1 C386.45,133.77 387.28,134.35 388.2,135 C389.12,135.65 389.87,136.37 391.2,137 C392.53,137.63 394.03,138.35 396.2,138.8 C398.37,139.25 399.87,139.5 404.2,139.7 C408.53,139.9 419.2,139.95 422.2,140" fill="none" stroke="#1e1e1e" stroke-width="0.7" stroke-dasharray="2.2,1.6"/>
<path d="M330.2,140 C331.2,139.95 334.53,139.82 336.2,139.7 C337.87,139.58 339,139.45 340.2,139.3 C341.4,139.15 342.53,139.27 343.4,138.8 C344.27,138.33 344.77,137.45 345.4,136.5 C346.03,135.55 346.65,134.35 347.2,133.1 C347.75,131.85 348.2,130.28 348.7,129 C349.2,127.72 349.72,126.65 350.2,125.4 C350.68,124.15 351.13,122.78 351.6,121.5 C352.07,120.22 352.62,119.87 353,117.7 C353.38,115.53 353.58,111.38 353.9,108.5 C354.22,105.62 354.58,102.15 354.9,100.4 C355.22,98.65 355.48,98.65 355.8,98 C356.12,97.35 356.4,97.25 356.8,96.5 C357.2,95.75 357.72,94.45 358.2,93.5 C358.68,92.55 359.28,91.72 359.7,90.8 C360.12,89.88 360.37,88.97 360.7,88 C361.03,87.03 361.38,86.75 361.7,85 C362.02,83.25 362.28,80.07 362.6,77.5 C362.92,74.93 363.28,72.6 363.6,69.6 C363.92,66.6 364.18,62.7 364.5,59.5 C364.82,56.3 365.18,52.65 365.5,50.4 C365.82,48.15 366.08,47.12 366.4,46 C366.72,44.88 367.08,43.45 367.4,43.7 C367.72,43.95 367.98,45.75 368.3,47.5 C368.62,49.25 368.98,51.87 369.3,54.2 C369.62,56.53 369.88,58.93 370.2,61.5 C370.52,64.07 370.87,66.77 371.2,69.6 C371.53,72.43 371.87,75.62 372.2,78.5 C372.53,81.38 372.88,83.9 373.2,86.9 C373.52,89.9 373.78,93.28 374.1,96.5 C374.42,99.72 374.78,103.7 375.1,106.2 C375.42,108.7 375.68,109.9 376,111.5 C376.32,113.1 376.6,114.22 377,115.8 C377.4,117.38 377.92,119.4 378.4,121 C378.88,122.6 379.33,123.98 379.9,125.4 C380.47,126.82 381.15,128.22 381.8,129.5 C382.45,130.78 383,132.13 383.8,133.1 C384.6,134.07 385.65,134.67 386.6,135.3 C387.55,135.93 388.23,136.37 389.5,136.9 C390.77,137.43 392.08,138.03 394.2,138.5 C396.32,138.97 397.53,139.45 402.2,139.7 C406.87,139.95 418.87,139.95 422.2,140" fill="none" stroke="#1e1e1e" stroke-width="0.65"/>
<line x1="330.2" y1="37.5" x2="330.2" y2="139.5" stroke="#8a8a8a" stroke-width="1"/>
<line x1="330.2" y1="139.5" x2="422.2" y2="139.5" stroke="#8a8a8a" stroke-width="1"/>
<line x1="327.7" y1="139.5" x2="330.2" y2="139.5" stroke="#4a4a4a" stroke-width="0.7"/>
<line x1="329" y1="134.4" x2="330.2" y2="134.4" stroke="#4a4a4a" stroke-width="0.7"/>
<line x1="329" y1="129.3" x2="330.2" y2="129.3" stroke="#4a4a4a" stroke-width="0.7"/>
<line x1="329" y1="124.2" x2="330.2" y2="124.2" stroke="#4a4a4a" stroke-width="0.7"/>
<line x1="327.7" y1="119.1" x2="330.2" y2="119.1" stroke="#4a4a4a" stroke-width="0.7"/>
<line x1="329" y1="114" x2="330.2" y2="114" stroke="#4a4a4a" stroke-width="0.7"/>
<line x1="329" y1="108.9" x2="330.2" y2="108.9" stroke="#4a4a4a" stroke-width="0.7"/>
<line x1="329" y1="103.8" x2="330.2" y2="103.8" stroke="#4a4a4a" stroke-width="0.7"/>
<line x1="327.7" y1="98.7" x2="330.2" y2="98.7" stroke="#4a4a4a" stroke-width="0.7"/>
<line x1="329" y1="93.6" x2="330.2" y2="93.6" stroke="#4a4a4a" stroke-width="0.7"/>
<line x1="329" y1="88.5" x2="330.2" y2="88.5" stroke="#4a4a4a" stroke-width="0.7"/>
<line x1="329" y1="83.4" x2="330.2" y2="83.4" stroke="#4a4a4a" stroke-width="0.7"/>
<line x1="327.7" y1="78.3" x2="330.2" y2="78.3" stroke="#4a4a4a" stroke-width="0.7"/>
<line x1="329" y1="73.2" x2="330.2" y2="73.2" stroke="#4a4a4a" stroke-width="0.7"/>
<line x1="329" y1="68.1" x2="330.2" y2="68.1" stroke="#4a4a4a" stroke-width="0.7"/>
<line x1="329" y1="63" x2="330.2" y2="63" stroke="#4a4a4a" stroke-width="0.7"/>
<line x1="327.7" y1="57.9" x2="330.2" y2="57.9" stroke="#4a4a4a" stroke-width="0.7"/>
<line x1="329" y1="52.8" x2="330.2" y2="52.8" stroke="#4a4a4a" stroke-width="0.7"/>
<line x1="329" y1="47.7" x2="330.2" y2="47.7" stroke="#4a4a4a" stroke-width="0.7"/>
<line x1="329" y1="42.6" x2="330.2" y2="42.6" stroke="#4a4a4a" stroke-width="0.7"/>
<line x1="327.7" y1="37.5" x2="330.2" y2="37.5" stroke="#4a4a4a" stroke-width="0.7"/>
<line x1="330.2" y1="139.5" x2="330.2" y2="142" stroke="#4a4a4a" stroke-width="0.7"/>
<line x1="337.12" y1="139.5" x2="337.12" y2="140.8" stroke="#4a4a4a" stroke-width="0.7"/>
<line x1="341.17" y1="139.5" x2="341.17" y2="140.8" stroke="#4a4a4a" stroke-width="0.7"/>
<line x1="344.05" y1="139.5" x2="344.05" y2="140.8" stroke="#4a4a4a" stroke-width="0.7"/>
<line x1="346.28" y1="139.5" x2="346.28" y2="140.8" stroke="#4a4a4a" stroke-width="0.7"/>
<line x1="348.1" y1="139.5" x2="348.1" y2="140.8" stroke="#4a4a4a" stroke-width="0.7"/>
<line x1="349.64" y1="139.5" x2="349.64" y2="140.8" stroke="#4a4a4a" stroke-width="0.7"/>
<line x1="350.97" y1="139.5" x2="350.97" y2="140.8" stroke="#4a4a4a" stroke-width="0.7"/>
<line x1="352.15" y1="139.5" x2="352.15" y2="140.8" stroke="#4a4a4a" stroke-width="0.7"/>
<line x1="353.2" y1="139.5" x2="353.2" y2="142" stroke="#4a4a4a" stroke-width="0.7"/>
<line x1="360.12" y1="139.5" x2="360.12" y2="140.8" stroke="#4a4a4a" stroke-width="0.7"/>
<line x1="364.17" y1="139.5" x2="364.17" y2="140.8" stroke="#4a4a4a" stroke-width="0.7"/>
<line x1="367.05" y1="139.5" x2="367.05" y2="140.8" stroke="#4a4a4a" stroke-width="0.7"/>
<line x1="369.28" y1="139.5" x2="369.28" y2="140.8" stroke="#4a4a4a" stroke-width="0.7"/>
<line x1="371.1" y1="139.5" x2="371.1" y2="140.8" stroke="#4a4a4a" stroke-width="0.7"/>
<line x1="372.64" y1="139.5" x2="372.64" y2="140.8" stroke="#4a4a4a" stroke-width="0.7"/>
<line x1="373.97" y1="139.5" x2="373.97" y2="140.8" stroke="#4a4a4a" stroke-width="0.7"/>
<line x1="375.15" y1="139.5" x2="375.15" y2="140.8" stroke="#4a4a4a" stroke-width="0.7"/>
<line x1="376.2" y1="139.5" x2="376.2" y2="142" stroke="#4a4a4a" stroke-width="0.7"/>
<line x1="383.12" y1="139.5" x2="383.12" y2="140.8" stroke="#4a4a4a" stroke-width="0.7"/>
<line x1="387.17" y1="139.5" x2="387.17" y2="140.8" stroke="#4a4a4a" stroke-width="0.7"/>
<line x1="390.05" y1="139.5" x2="390.05" y2="140.8" stroke="#4a4a4a" stroke-width="0.7"/>
<line x1="392.28" y1="139.5" x2="392.28" y2="140.8" stroke="#4a4a4a" stroke-width="0.7"/>
<line x1="394.1" y1="139.5" x2="394.1" y2="140.8" stroke="#4a4a4a" stroke-width="0.7"/>
<line x1="395.64" y1="139.5" x2="395.64" y2="140.8" stroke="#4a4a4a" stroke-width="0.7"/>
<line x1="396.97" y1="139.5" x2="396.97" y2="140.8" stroke="#4a4a4a" stroke-width="0.7"/>
<line x1="398.15" y1="139.5" x2="398.15" y2="140.8" stroke="#4a4a4a" stroke-width="0.7"/>
<line x1="399.2" y1="139.5" x2="399.2" y2="142" stroke="#4a4a4a" stroke-width="0.7"/>
<line x1="406.12" y1="139.5" x2="406.12" y2="140.8" stroke="#4a4a4a" stroke-width="0.7"/>
<line x1="410.17" y1="139.5" x2="410.17" y2="140.8" stroke="#4a4a4a" stroke-width="0.7"/>
<line x1="413.05" y1="139.5" x2="413.05" y2="140.8" stroke="#4a4a4a" stroke-width="0.7"/>
<line x1="415.28" y1="139.5" x2="415.28" y2="140.8" stroke="#4a4a4a" stroke-width="0.7"/>
<line x1="417.1" y1="139.5" x2="417.1" y2="140.8" stroke="#4a4a4a" stroke-width="0.7"/>
<line x1="418.64" y1="139.5" x2="418.64" y2="140.8" stroke="#4a4a4a" stroke-width="0.7"/>
<line x1="419.97" y1="139.5" x2="419.97" y2="140.8" stroke="#4a4a4a" stroke-width="0.7"/>
<line x1="421.15" y1="139.5" x2="421.15" y2="140.8" stroke="#4a4a4a" stroke-width="0.7"/>
<line x1="422.2" y1="139.5" x2="422.2" y2="142" stroke="#4a4a4a" stroke-width="0.7"/>
<text x="418.5" y="50.9" font-size="14.5" font-weight="normal" text-anchor="end" fill="#000" >S34</text>
<rect x="31.5" y="147.5" width="92" height="102" fill="#fff" stroke="#9a9a9a" stroke-width="1"/>
<path d="M31.5,250 C31.92,249.95 33.25,249.87 34,249.7 C34.75,249.53 35.37,249.45 36,249 C36.63,248.55 37.28,248.42 37.8,247 C38.32,245.58 38.68,242.75 39.1,240.5 C39.52,238.25 39.83,237 40.3,233.5 C40.77,230 41.35,224.17 41.9,219.5 C42.45,214.83 43.1,210.17 43.6,205.5 C44.1,200.83 44.47,196.1 44.9,191.5 C45.33,186.9 45.87,181.4 46.2,177.9 C46.53,174.4 46.67,172.83 46.9,170.5 C47.13,168.17 47.3,166.07 47.6,163.9 C47.9,161.73 48.35,159.15 48.7,157.5 C49.05,155.85 49.35,154.42 49.7,154 C50.05,153.58 50.42,154.58 50.8,155 C51.18,155.42 51.63,156.58 52,156.5 C52.37,156.42 52.67,155.13 53,154.5 C53.33,153.87 53.68,152.03 54,152.7 C54.32,153.37 54.58,155.93 54.9,158.5 C55.22,161.07 55.58,164.93 55.9,168.1 C56.22,171.27 56.48,174.3 56.8,177.5 C57.12,180.7 57.48,184.3 57.8,187.3 C58.12,190.3 58.38,192.93 58.7,195.5 C59.02,198.07 59.3,200.2 59.7,202.7 C60.1,205.2 60.62,207.93 61.1,210.5 C61.58,213.07 62.07,216.02 62.6,218.1 C63.13,220.18 63.73,221.4 64.3,223 C64.87,224.6 65.43,226.28 66,227.7 C66.57,229.12 67.12,230.22 67.7,231.5 C68.28,232.78 68.7,234.23 69.5,235.4 C70.3,236.57 71.45,237.53 72.5,238.5 C73.55,239.47 74.55,240.4 75.8,241.2 C77.05,242 78.67,242.67 80,243.3 C81.33,243.93 82.38,244.53 83.8,245 C85.22,245.47 86.9,245.78 88.5,246.1 C90.1,246.42 91.57,246.62 93.4,246.9 C95.23,247.18 97.15,247.5 99.5,247.8 C101.85,248.1 103.5,248.42 107.5,248.7 C111.5,248.98 120.83,249.37 123.5,249.5 L123.5,249.5 L31.5,249.5 Z" fill="#bababa" stroke="none"/>
<path d="M31.5,250 C31.92,249.95 33.25,249.87 34,249.7 C34.75,249.53 35.37,249.45 36,249 C36.63,248.55 37.28,248.42 37.8,247 C38.32,245.58 38.68,242.75 39.1,240.5 C39.52,238.25 39.83,237 40.3,233.5 C40.77,230 41.35,224.17 41.9,219.5 C42.45,214.83 43.1,210.17 43.6,205.5 C44.1,200.83 44.47,196.1 44.9,191.5 C45.33,186.9 45.87,181.4 46.2,177.9 C46.53,174.4 46.67,172.83 46.9,170.5 C47.13,168.17 47.3,166.07 47.6,163.9 C47.9,161.73 48.35,159.15 48.7,157.5 C49.05,155.85 49.35,154.42 49.7,154 C50.05,153.58 50.42,154.58 50.8,155 C51.18,155.42 51.63,156.58 52,156.5 C52.37,156.42 52.67,155.13 53,154.5 C53.33,153.87 53.68,152.03 54,152.7 C54.32,153.37 54.58,155.93 54.9,158.5 C55.22,161.07 55.58,164.93 55.9,168.1 C56.22,171.27 56.48,174.3 56.8,177.5 C57.12,180.7 57.48,184.3 57.8,187.3 C58.12,190.3 58.38,192.93 58.7,195.5 C59.02,198.07 59.3,200.2 59.7,202.7 C60.1,205.2 60.62,207.93 61.1,210.5 C61.58,213.07 62.07,216.02 62.6,218.1 C63.13,220.18 63.73,221.4 64.3,223 C64.87,224.6 65.43,226.28 66,227.7 C66.57,229.12 67.12,230.22 67.7,231.5 C68.28,232.78 68.7,234.23 69.5,235.4 C70.3,236.57 71.45,237.53 72.5,238.5 C73.55,239.47 74.55,240.4 75.8,241.2 C77.05,242 78.67,242.67 80,243.3 C81.33,243.93 82.38,244.53 83.8,245 C85.22,245.47 86.9,245.78 88.5,246.1 C90.1,246.42 91.57,246.62 93.4,246.9 C95.23,247.18 97.15,247.5 99.5,247.8 C101.85,248.1 103.5,248.42 107.5,248.7 C111.5,248.98 120.83,249.37 123.5,249.5" fill="none" stroke="#262626" stroke-width="0.65"/>
<path d="M32,250 C32.25,249.88 33,249.88 33.5,249.3 C34,248.72 34.5,247.8 35,246.5 C35.5,245.2 36.02,243.67 36.5,241.5 C36.98,239.33 37.43,237.17 37.9,233.5 C38.37,229.83 38.83,224.17 39.3,219.5 C39.77,214.83 40.23,210.17 40.7,205.5 C41.17,200.83 41.63,196.1 42.1,191.5 C42.57,186.9 42.98,181.9 43.5,177.9 C44.02,173.9 44.63,170.75 45.2,167.5 C45.77,164.25 46.4,160.57 46.9,158.4 C47.4,156.23 47.68,154.9 48.2,154.5 C48.72,154.1 49.37,155.67 50,156 C50.63,156.33 51.33,156.67 52,156.5 C52.67,156.33 53.47,154 54,155 C54.53,156 54.73,158.72 55.2,162.5 C55.67,166.28 56.28,173.2 56.8,177.7 C57.32,182.2 57.78,185.7 58.3,189.5 C58.82,193.3 59.37,197.33 59.9,200.5 C60.43,203.67 60.9,206 61.5,208.5 C62.1,211 62.75,213.17 63.5,215.5 C64.25,217.83 65.18,220.15 66,222.5 C66.82,224.85 67.57,227.77 68.4,229.6 C69.23,231.43 70.03,232.43 71,233.5 C71.97,234.57 72.88,235.05 74.2,236 C75.52,236.95 77.02,238.08 78.9,239.2 C80.78,240.32 83.08,241.73 85.5,242.7 C87.92,243.67 90.8,244.33 93.4,245 C96,245.67 98.42,246.23 101.1,246.7 C103.78,247.17 105.77,247.42 109.5,247.8 C113.23,248.18 121.17,248.8 123.5,249" fill="none" stroke="#1e1e1e" stroke-width="0.7" stroke-dasharray="2.2,1.6"/>
<path d="M31.5,250 C32.17,249.95 34.25,249.87 35.5,249.7 C36.75,249.53 38.08,249.45 39,249 C39.92,248.55 40.42,247.92 41,247 C41.58,246.08 41.98,245.75 42.5,243.5 C43.02,241.25 43.6,237.5 44.1,233.5 C44.6,229.5 45.03,224.17 45.5,219.5 C45.97,214.83 46.37,210.17 46.9,205.5 C47.43,200.83 48.12,196.1 48.7,191.5 C49.28,186.9 49.88,182.23 50.4,177.9 C50.92,173.57 51.38,168.9 51.8,165.5 C52.22,162.1 52.53,159.47 52.9,157.5 C53.27,155.53 53.65,153.37 54,153.7 C54.35,154.03 54.67,156.87 55,159.5 C55.33,162.13 55.7,166.43 56,169.5 C56.3,172.57 56.47,174.73 56.8,177.9 C57.13,181.07 57.63,185.4 58,188.5 C58.37,191.6 58.52,193.63 59,196.5 C59.48,199.37 60.32,202.87 60.9,205.7 C61.48,208.53 61.92,211.17 62.5,213.5 C63.08,215.83 63.7,217.45 64.4,219.7 C65.1,221.95 65.9,224.68 66.7,227 C67.5,229.32 68.4,232.02 69.2,233.6 C70,235.18 70.67,235.68 71.5,236.5 C72.33,237.32 73.2,237.83 74.2,238.5 C75.2,239.17 76.45,239.83 77.5,240.5 C78.55,241.17 79.33,241.87 80.5,242.5 C81.67,243.13 83,243.77 84.5,244.3 C86,244.83 87.83,245.3 89.5,245.7 C91.17,246.1 92.5,246.35 94.5,246.7 C96.5,247.05 99,247.47 101.5,247.8 C104,248.13 105.83,248.42 109.5,248.7 C113.17,248.98 121.17,249.37 123.5,249.5" fill="none" stroke="#1e1e1e" stroke-width="0.65"/>
<line x1="31.5" y1="147.5" x2="31.5" y2="249.5" stroke="#8a8a8a" stroke-width="1"/>
<line x1="31.5" y1="249.5" x2="123.5" y2="249.5" stroke="#8a8a8a" stroke-width="1"/>
<line x1="29" y1="249.5" x2="31.5" y2="249.5" stroke="#4a4a4a" stroke-width="0.7"/>
<line x1="30.3" y1="244.4" x2="31.5" y2="244.4" stroke="#4a4a4a" stroke-width="0.7"/>
<line x1="30.3" y1="239.3" x2="31.5" y2="239.3" stroke="#4a4a4a" stroke-width="0.7"/>
<line x1="30.3" y1="234.2" x2="31.5" y2="234.2" stroke="#4a4a4a" stroke-width="0.7"/>
<line x1="29" y1="229.1" x2="31.5" y2="229.1" stroke="#4a4a4a" stroke-width="0.7"/>
<line x1="30.3" y1="224" x2="31.5" y2="224" stroke="#4a4a4a" stroke-width="0.7"/>
<line x1="30.3" y1="218.9" x2="31.5" y2="218.9" stroke="#4a4a4a" stroke-width="0.7"/>
<line x1="30.3" y1="213.8" x2="31.5" y2="213.8" stroke="#4a4a4a" stroke-width="0.7"/>
<line x1="29" y1="208.7" x2="31.5" y2="208.7" stroke="#4a4a4a" stroke-width="0.7"/>
<line x1="30.3" y1="203.6" x2="31.5" y2="203.6" stroke="#4a4a4a" stroke-width="0.7"/>
<line x1="30.3" y1="198.5" x2="31.5" y2="198.5" stroke="#4a4a4a" stroke-width="0.7"/>
<line x1="30.3" y1="193.4" x2="31.5" y2="193.4" stroke="#4a4a4a" stroke-width="0.7"/>
<line x1="29" y1="188.3" x2="31.5" y2="188.3" stroke="#4a4a4a" stroke-width="0.7"/>
<line x1="30.3" y1="183.2" x2="31.5" y2="183.2" stroke="#4a4a4a" stroke-width="0.7"/>
<line x1="30.3" y1="178.1" x2="31.5" y2="178.1" stroke="#4a4a4a" stroke-width="0.7"/>
<line x1="30.3" y1="173" x2="31.5" y2="173" stroke="#4a4a4a" stroke-width="0.7"/>
<line x1="29" y1="167.9" x2="31.5" y2="167.9" stroke="#4a4a4a" stroke-width="0.7"/>
<line x1="30.3" y1="162.8" x2="31.5" y2="162.8" stroke="#4a4a4a" stroke-width="0.7"/>
<line x1="30.3" y1="157.7" x2="31.5" y2="157.7" stroke="#4a4a4a" stroke-width="0.7"/>
<line x1="30.3" y1="152.6" x2="31.5" y2="152.6" stroke="#4a4a4a" stroke-width="0.7"/>
<line x1="29" y1="147.5" x2="31.5" y2="147.5" stroke="#4a4a4a" stroke-width="0.7"/>
<line x1="31.5" y1="249.5" x2="31.5" y2="252" stroke="#4a4a4a" stroke-width="0.7"/>
<line x1="38.42" y1="249.5" x2="38.42" y2="250.8" stroke="#4a4a4a" stroke-width="0.7"/>
<line x1="42.47" y1="249.5" x2="42.47" y2="250.8" stroke="#4a4a4a" stroke-width="0.7"/>
<line x1="45.35" y1="249.5" x2="45.35" y2="250.8" stroke="#4a4a4a" stroke-width="0.7"/>
<line x1="47.58" y1="249.5" x2="47.58" y2="250.8" stroke="#4a4a4a" stroke-width="0.7"/>
<line x1="49.4" y1="249.5" x2="49.4" y2="250.8" stroke="#4a4a4a" stroke-width="0.7"/>
<line x1="50.94" y1="249.5" x2="50.94" y2="250.8" stroke="#4a4a4a" stroke-width="0.7"/>
<line x1="52.27" y1="249.5" x2="52.27" y2="250.8" stroke="#4a4a4a" stroke-width="0.7"/>
<line x1="53.45" y1="249.5" x2="53.45" y2="250.8" stroke="#4a4a4a" stroke-width="0.7"/>
<line x1="54.5" y1="249.5" x2="54.5" y2="252" stroke="#4a4a4a" stroke-width="0.7"/>
<line x1="61.42" y1="249.5" x2="61.42" y2="250.8" stroke="#4a4a4a" stroke-width="0.7"/>
<line x1="65.47" y1="249.5" x2="65.47" y2="250.8" stroke="#4a4a4a" stroke-width="0.7"/>
<line x1="68.35" y1="249.5" x2="68.35" y2="250.8" stroke="#4a4a4a" stroke-width="0.7"/>
<line x1="70.58" y1="249.5" x2="70.58" y2="250.8" stroke="#4a4a4a" stroke-width="0.7"/>
<line x1="72.4" y1="249.5" x2="72.4" y2="250.8" stroke="#4a4a4a" stroke-width="0.7"/>
<line x1="73.94" y1="249.5" x2="73.94" y2="250.8" stroke="#4a4a4a" stroke-width="0.7"/>
<line x1="75.27" y1="249.5" x2="75.27" y2="250.8" stroke="#4a4a4a" stroke-width="0.7"/>
<line x1="76.45" y1="249.5" x2="76.45" y2="250.8" stroke="#4a4a4a" stroke-width="0.7"/>
<line x1="77.5" y1="249.5" x2="77.5" y2="252" stroke="#4a4a4a" stroke-width="0.7"/>
<line x1="84.42" y1="249.5" x2="84.42" y2="250.8" stroke="#4a4a4a" stroke-width="0.7"/>
<line x1="88.47" y1="249.5" x2="88.47" y2="250.8" stroke="#4a4a4a" stroke-width="0.7"/>
<line x1="91.35" y1="249.5" x2="91.35" y2="250.8" stroke="#4a4a4a" stroke-width="0.7"/>
<line x1="93.58" y1="249.5" x2="93.58" y2="250.8" stroke="#4a4a4a" stroke-width="0.7"/>
<line x1="95.4" y1="249.5" x2="95.4" y2="250.8" stroke="#4a4a4a" stroke-width="0.7"/>
<line x1="96.94" y1="249.5" x2="96.94" y2="250.8" stroke="#4a4a4a" stroke-width="0.7"/>
<line x1="98.27" y1="249.5" x2="98.27" y2="250.8" stroke="#4a4a4a" stroke-width="0.7"/>
<line x1="99.45" y1="249.5" x2="99.45" y2="250.8" stroke="#4a4a4a" stroke-width="0.7"/>
<line x1="100.5" y1="249.5" x2="100.5" y2="252" stroke="#4a4a4a" stroke-width="0.7"/>
<line x1="107.42" y1="249.5" x2="107.42" y2="250.8" stroke="#4a4a4a" stroke-width="0.7"/>
<line x1="111.47" y1="249.5" x2="111.47" y2="250.8" stroke="#4a4a4a" stroke-width="0.7"/>
<line x1="114.35" y1="249.5" x2="114.35" y2="250.8" stroke="#4a4a4a" stroke-width="0.7"/>
<line x1="116.58" y1="249.5" x2="116.58" y2="250.8" stroke="#4a4a4a" stroke-width="0.7"/>
<line x1="118.4" y1="249.5" x2="118.4" y2="250.8" stroke="#4a4a4a" stroke-width="0.7"/>
<line x1="119.94" y1="249.5" x2="119.94" y2="250.8" stroke="#4a4a4a" stroke-width="0.7"/>
<line x1="121.27" y1="249.5" x2="121.27" y2="250.8" stroke="#4a4a4a" stroke-width="0.7"/>
<line x1="122.45" y1="249.5" x2="122.45" y2="250.8" stroke="#4a4a4a" stroke-width="0.7"/>
<line x1="123.5" y1="249.5" x2="123.5" y2="252" stroke="#4a4a4a" stroke-width="0.7"/>
<text x="29.2" y="251.59" font-size="5.8" font-weight="normal" text-anchor="end" fill="#333" >0</text>
<text x="29.2" y="231.19" font-size="5.8" font-weight="normal" text-anchor="end" fill="#333" >20</text>
<text x="29.2" y="210.79" font-size="5.8" font-weight="normal" text-anchor="end" fill="#333" >40</text>
<text x="29.2" y="190.39" font-size="5.8" font-weight="normal" text-anchor="end" fill="#333" >60</text>
<text x="29.2" y="169.99" font-size="5.8" font-weight="normal" text-anchor="end" fill="#333" >80</text>
<text x="29.2" y="149.59" font-size="5.8" font-weight="normal" text-anchor="end" fill="#333" >100</text>
<text x="31.5" y="258" font-size="6.2" text-anchor="middle" fill="#444">10<tspan font-size="4.34" dy="-2.6">0</tspan></text>
<text x="54.5" y="258" font-size="6.2" text-anchor="middle" fill="#444">10<tspan font-size="4.34" dy="-2.6">1</tspan></text>
<text x="77.5" y="258" font-size="6.2" text-anchor="middle" fill="#444">10<tspan font-size="4.34" dy="-2.6">2</tspan></text>
<text x="100.5" y="258" font-size="6.2" text-anchor="middle" fill="#444">10<tspan font-size="4.34" dy="-2.6">3</tspan></text>
<text x="123.5" y="258" font-size="6.2" text-anchor="middle" fill="#444">10<tspan font-size="4.34" dy="-2.6">4</tspan></text>
<text x="119.8" y="160.9" font-size="14.5" font-weight="normal" text-anchor="end" fill="#000" >S30</text>
<rect x="131.1" y="147.5" width="92" height="102" fill="#fff" stroke="#9a9a9a" stroke-width="1"/>
<path d="M131.1,250 C131.52,249.95 132.85,249.87 133.6,249.7 C134.35,249.53 134.97,249.45 135.6,249 C136.23,248.55 136.88,248.42 137.4,247 C137.92,245.58 138.28,242.75 138.7,240.5 C139.12,238.25 139.43,237 139.9,233.5 C140.37,230 140.95,224.17 141.5,219.5 C142.05,214.83 142.7,210.17 143.2,205.5 C143.7,200.83 144.07,196.1 144.5,191.5 C144.93,186.9 145.47,181.4 145.8,177.9 C146.13,174.4 146.27,172.83 146.5,170.5 C146.73,168.17 146.9,166.07 147.2,163.9 C147.5,161.73 147.95,159.15 148.3,157.5 C148.65,155.85 148.95,154.42 149.3,154 C149.65,153.58 150.02,154.58 150.4,155 C150.78,155.42 151.23,156.58 151.6,156.5 C151.97,156.42 152.27,155.13 152.6,154.5 C152.93,153.87 153.28,152.03 153.6,152.7 C153.92,153.37 154.18,155.93 154.5,158.5 C154.82,161.07 155.18,164.93 155.5,168.1 C155.82,171.27 156.08,174.3 156.4,177.5 C156.72,180.7 157.08,184.3 157.4,187.3 C157.72,190.3 157.98,192.93 158.3,195.5 C158.62,198.07 158.9,200.2 159.3,202.7 C159.7,205.2 160.22,207.93 160.7,210.5 C161.18,213.07 161.67,216.02 162.2,218.1 C162.73,220.18 163.33,221.4 163.9,223 C164.47,224.6 165.03,226.28 165.6,227.7 C166.17,229.12 166.72,230.22 167.3,231.5 C167.88,232.78 168.3,234.23 169.1,235.4 C169.9,236.57 171.05,237.53 172.1,238.5 C173.15,239.47 174.15,240.4 175.4,241.2 C176.65,242 178.27,242.67 179.6,243.3 C180.93,243.93 181.98,244.53 183.4,245 C184.82,245.47 186.5,245.78 188.1,246.1 C189.7,246.42 191.17,246.62 193,246.9 C194.83,247.18 196.75,247.5 199.1,247.8 C201.45,248.1 203.1,248.42 207.1,248.7 C211.1,248.98 220.43,249.37 223.1,249.5 L223.1,249.5 L131.1,249.5 Z" fill="#bababa" stroke="none"/>
<path d="M131.1,250 C131.52,249.95 132.85,249.87 133.6,249.7 C134.35,249.53 134.97,249.45 135.6,249 C136.23,248.55 136.88,248.42 137.4,247 C137.92,245.58 138.28,242.75 138.7,240.5 C139.12,238.25 139.43,237 139.9,233.5 C140.37,230 140.95,224.17 141.5,219.5 C142.05,214.83 142.7,210.17 143.2,205.5 C143.7,200.83 144.07,196.1 144.5,191.5 C144.93,186.9 145.47,181.4 145.8,177.9 C146.13,174.4 146.27,172.83 146.5,170.5 C146.73,168.17 146.9,166.07 147.2,163.9 C147.5,161.73 147.95,159.15 148.3,157.5 C148.65,155.85 148.95,154.42 149.3,154 C149.65,153.58 150.02,154.58 150.4,155 C150.78,155.42 151.23,156.58 151.6,156.5 C151.97,156.42 152.27,155.13 152.6,154.5 C152.93,153.87 153.28,152.03 153.6,152.7 C153.92,153.37 154.18,155.93 154.5,158.5 C154.82,161.07 155.18,164.93 155.5,168.1 C155.82,171.27 156.08,174.3 156.4,177.5 C156.72,180.7 157.08,184.3 157.4,187.3 C157.72,190.3 157.98,192.93 158.3,195.5 C158.62,198.07 158.9,200.2 159.3,202.7 C159.7,205.2 160.22,207.93 160.7,210.5 C161.18,213.07 161.67,216.02 162.2,218.1 C162.73,220.18 163.33,221.4 163.9,223 C164.47,224.6 165.03,226.28 165.6,227.7 C166.17,229.12 166.72,230.22 167.3,231.5 C167.88,232.78 168.3,234.23 169.1,235.4 C169.9,236.57 171.05,237.53 172.1,238.5 C173.15,239.47 174.15,240.4 175.4,241.2 C176.65,242 178.27,242.67 179.6,243.3 C180.93,243.93 181.98,244.53 183.4,245 C184.82,245.47 186.5,245.78 188.1,246.1 C189.7,246.42 191.17,246.62 193,246.9 C194.83,247.18 196.75,247.5 199.1,247.8 C201.45,248.1 203.1,248.42 207.1,248.7 C211.1,248.98 220.43,249.37 223.1,249.5" fill="none" stroke="#262626" stroke-width="0.65"/>
<path d="M132.1,250 C132.6,249.83 133.85,249.83 135.1,249 C136.35,248.17 138.43,246.75 139.6,245 C140.77,243.25 141.43,241.75 142.1,238.5 C142.77,235.25 143.02,230.33 143.6,225.5 C144.18,220.67 145,214.9 145.6,209.5 C146.2,204.1 146.7,198.77 147.2,193.1 C147.7,187.43 148.12,180.32 148.6,175.5 C149.08,170.68 149.62,167.03 150.1,164.2 C150.58,161.37 151.02,159.95 151.5,158.5 C151.98,157.05 152.57,155.67 153,155.5 C153.43,155.33 153.62,156.42 154.1,157.5 C154.58,158.58 155.4,160.17 155.9,162 C156.4,163.83 156.62,165.67 157.1,168.5 C157.58,171.33 158.22,175.17 158.8,179 C159.38,182.83 160.1,187.67 160.6,191.5 C161.1,195.33 161.3,198.67 161.8,202 C162.3,205.33 162.97,208.5 163.6,211.5 C164.23,214.5 164.85,217.5 165.6,220 C166.35,222.5 167.18,224.42 168.1,226.5 C169.02,228.58 170.1,230.83 171.1,232.5 C172.1,234.17 173.1,235.42 174.1,236.5 C175.1,237.58 175.93,238.17 177.1,239 C178.27,239.83 179.6,240.67 181.1,241.5 C182.6,242.33 184.1,243.28 186.1,244 C188.1,244.72 190.6,245.3 193.1,245.8 C195.6,246.3 198.1,246.58 201.1,247 C204.1,247.42 207.43,247.97 211.1,248.3 C214.77,248.63 221.1,248.88 223.1,249" fill="none" stroke="#1e1e1e" stroke-width="0.7" stroke-dasharray="2.2,1.6"/>
<path d="M131.1,250 C131.77,249.95 133.77,249.9 135.1,249.7 C136.43,249.5 137.93,249.33 139.1,248.8 C140.27,248.27 141.23,247.88 142.1,246.5 C142.97,245.12 143.6,244.6 144.3,240.5 C145,236.4 145.73,227.4 146.3,221.9 C146.87,216.4 147.22,212.3 147.7,207.5 C148.18,202.7 148.8,197.43 149.2,193.1 C149.6,188.77 149.78,185.35 150.1,181.5 C150.42,177.65 150.73,173.5 151.1,170 C151.47,166.5 151.93,162.92 152.3,160.5 C152.67,158.08 153.02,156.63 153.3,155.5 C153.58,154.37 153.73,153.53 154,153.7 C154.27,153.87 154.58,155.2 154.9,156.5 C155.22,157.8 155.57,159.33 155.9,161.5 C156.23,163.67 156.57,166.33 156.9,169.5 C157.23,172.67 157.58,177.33 157.9,180.5 C158.22,183.67 158.5,186.4 158.8,188.5 C159.1,190.6 159.32,190.77 159.7,193.1 C160.08,195.43 160.62,199.3 161.1,202.5 C161.58,205.7 162.02,209.38 162.6,212.3 C163.18,215.22 163.95,217.43 164.6,220 C165.25,222.57 165.78,225.45 166.5,227.7 C167.22,229.95 168.1,231.58 168.9,233.5 C169.7,235.42 170.35,237.73 171.3,239.2 C172.25,240.67 173.48,241.33 174.6,242.3 C175.72,243.27 176.58,244.38 178,245 C179.42,245.62 181.25,245.68 183.1,246 C184.95,246.32 186.93,246.62 189.1,246.9 C191.27,247.18 193.27,247.4 196.1,247.7 C198.93,248 201.6,248.4 206.1,248.7 C210.6,249 220.27,249.37 223.1,249.5" fill="none" stroke="#1e1e1e" stroke-width="0.65"/>
<line x1="131.1" y1="147.5" x2="131.1" y2="249.5" stroke="#8a8a8a" stroke-width="1"/>
<line x1="131.1" y1="249.5" x2="223.1" y2="249.5" stroke="#8a8a8a" stroke-width="1"/>
<line x1="128.6" y1="249.5" x2="131.1" y2="249.5" stroke="#4a4a4a" stroke-width="0.7"/>
<line x1="129.9" y1="244.4" x2="131.1" y2="244.4" stroke="#4a4a4a" stroke-width="0.7"/>
<line x1="129.9" y1="239.3" x2="131.1" y2="239.3" stroke="#4a4a4a" stroke-width="0.7"/>
<line x1="129.9" y1="234.2" x2="131.1" y2="234.2" stroke="#4a4a4a" stroke-width="0.7"/>
<line x1="128.6" y1="229.1" x2="131.1" y2="229.1" stroke="#4a4a4a" stroke-width="0.7"/>
<line x1="129.9" y1="224" x2="131.1" y2="224" stroke="#4a4a4a" stroke-width="0.7"/>
<line x1="129.9" y1="218.9" x2="131.1" y2="218.9" stroke="#4a4a4a" stroke-width="0.7"/>
<line x1="129.9" y1="213.8" x2="131.1" y2="213.8" stroke="#4a4a4a" stroke-width="0.7"/>
<line x1="128.6" y1="208.7" x2="131.1" y2="208.7" stroke="#4a4a4a" stroke-width="0.7"/>
<line x1="129.9" y1="203.6" x2="131.1" y2="203.6" stroke="#4a4a4a" stroke-width="0.7"/>
<line x1="129.9" y1="198.5" x2="131.1" y2="198.5" stroke="#4a4a4a" stroke-width="0.7"/>
<line x1="129.9" y1="193.4" x2="131.1" y2="193.4" stroke="#4a4a4a" stroke-width="0.7"/>
<line x1="128.6" y1="188.3" x2="131.1" y2="188.3" stroke="#4a4a4a" stroke-width="0.7"/>
<line x1="129.9" y1="183.2" x2="131.1" y2="183.2" stroke="#4a4a4a" stroke-width="0.7"/>
<line x1="129.9" y1="178.1" x2="131.1" y2="178.1" stroke="#4a4a4a" stroke-width="0.7"/>
<line x1="129.9" y1="173" x2="131.1" y2="173" stroke="#4a4a4a" stroke-width="0.7"/>
<line x1="128.6" y1="167.9" x2="131.1" y2="167.9" stroke="#4a4a4a" stroke-width="0.7"/>
<line x1="129.9" y1="162.8" x2="131.1" y2="162.8" stroke="#4a4a4a" stroke-width="0.7"/>
<line x1="129.9" y1="157.7" x2="131.1" y2="157.7" stroke="#4a4a4a" stroke-width="0.7"/>
<line x1="129.9" y1="152.6" x2="131.1" y2="152.6" stroke="#4a4a4a" stroke-width="0.7"/>
<line x1="128.6" y1="147.5" x2="131.1" y2="147.5" stroke="#4a4a4a" stroke-width="0.7"/>
<line x1="131.1" y1="249.5" x2="131.1" y2="252" stroke="#4a4a4a" stroke-width="0.7"/>
<line x1="138.02" y1="249.5" x2="138.02" y2="250.8" stroke="#4a4a4a" stroke-width="0.7"/>
<line x1="142.07" y1="249.5" x2="142.07" y2="250.8" stroke="#4a4a4a" stroke-width="0.7"/>
<line x1="144.95" y1="249.5" x2="144.95" y2="250.8" stroke="#4a4a4a" stroke-width="0.7"/>
<line x1="147.18" y1="249.5" x2="147.18" y2="250.8" stroke="#4a4a4a" stroke-width="0.7"/>
<line x1="149" y1="249.5" x2="149" y2="250.8" stroke="#4a4a4a" stroke-width="0.7"/>
<line x1="150.54" y1="249.5" x2="150.54" y2="250.8" stroke="#4a4a4a" stroke-width="0.7"/>
<line x1="151.87" y1="249.5" x2="151.87" y2="250.8" stroke="#4a4a4a" stroke-width="0.7"/>
<line x1="153.05" y1="249.5" x2="153.05" y2="250.8" stroke="#4a4a4a" stroke-width="0.7"/>
<line x1="154.1" y1="249.5" x2="154.1" y2="252" stroke="#4a4a4a" stroke-width="0.7"/>
<line x1="161.02" y1="249.5" x2="161.02" y2="250.8" stroke="#4a4a4a" stroke-width="0.7"/>
<line x1="165.07" y1="249.5" x2="165.07" y2="250.8" stroke="#4a4a4a" stroke-width="0.7"/>
<line x1="167.95" y1="249.5" x2="167.95" y2="250.8" stroke="#4a4a4a" stroke-width="0.7"/>
<line x1="170.18" y1="249.5" x2="170.18" y2="250.8" stroke="#4a4a4a" stroke-width="0.7"/>
<line x1="172" y1="249.5" x2="172" y2="250.8" stroke="#4a4a4a" stroke-width="0.7"/>
<line x1="173.54" y1="249.5" x2="173.54" y2="250.8" stroke="#4a4a4a" stroke-width="0.7"/>
<line x1="174.87" y1="249.5" x2="174.87" y2="250.8" stroke="#4a4a4a" stroke-width="0.7"/>
<line x1="176.05" y1="249.5" x2="176.05" y2="250.8" stroke="#4a4a4a" stroke-width="0.7"/>
<line x1="177.1" y1="249.5" x2="177.1" y2="252" stroke="#4a4a4a" stroke-width="0.7"/>
<line x1="184.02" y1="249.5" x2="184.02" y2="250.8" stroke="#4a4a4a" stroke-width="0.7"/>
<line x1="188.07" y1="249.5" x2="188.07" y2="250.8" stroke="#4a4a4a" stroke-width="0.7"/>
<line x1="190.95" y1="249.5" x2="190.95" y2="250.8" stroke="#4a4a4a" stroke-width="0.7"/>
<line x1="193.18" y1="249.5" x2="193.18" y2="250.8" stroke="#4a4a4a" stroke-width="0.7"/>
<line x1="195" y1="249.5" x2="195" y2="250.8" stroke="#4a4a4a" stroke-width="0.7"/>
<line x1="196.54" y1="249.5" x2="196.54" y2="250.8" stroke="#4a4a4a" stroke-width="0.7"/>
<line x1="197.87" y1="249.5" x2="197.87" y2="250.8" stroke="#4a4a4a" stroke-width="0.7"/>
<line x1="199.05" y1="249.5" x2="199.05" y2="250.8" stroke="#4a4a4a" stroke-width="0.7"/>
<line x1="200.1" y1="249.5" x2="200.1" y2="252" stroke="#4a4a4a" stroke-width="0.7"/>
<line x1="207.02" y1="249.5" x2="207.02" y2="250.8" stroke="#4a4a4a" stroke-width="0.7"/>
<line x1="211.07" y1="249.5" x2="211.07" y2="250.8" stroke="#4a4a4a" stroke-width="0.7"/>
<line x1="213.95" y1="249.5" x2="213.95" y2="250.8" stroke="#4a4a4a" stroke-width="0.7"/>
<line x1="216.18" y1="249.5" x2="216.18" y2="250.8" stroke="#4a4a4a" stroke-width="0.7"/>
<line x1="218" y1="249.5" x2="218" y2="250.8" stroke="#4a4a4a" stroke-width="0.7"/>
<line x1="219.54" y1="249.5" x2="219.54" y2="250.8" stroke="#4a4a4a" stroke-width="0.7"/>
<line x1="220.87" y1="249.5" x2="220.87" y2="250.8" stroke="#4a4a4a" stroke-width="0.7"/>
<line x1="222.05" y1="249.5" x2="222.05" y2="250.8" stroke="#4a4a4a" stroke-width="0.7"/>
<line x1="223.1" y1="249.5" x2="223.1" y2="252" stroke="#4a4a4a" stroke-width="0.7"/>
<text x="131.1" y="258" font-size="6.2" text-anchor="middle" fill="#444">10<tspan font-size="4.34" dy="-2.6">0</tspan></text>
<text x="154.1" y="258" font-size="6.2" text-anchor="middle" fill="#444">10<tspan font-size="4.34" dy="-2.6">1</tspan></text>
<text x="177.1" y="258" font-size="6.2" text-anchor="middle" fill="#444">10<tspan font-size="4.34" dy="-2.6">2</tspan></text>
<text x="200.1" y="258" font-size="6.2" text-anchor="middle" fill="#444">10<tspan font-size="4.34" dy="-2.6">3</tspan></text>
<text x="223.1" y="258" font-size="6.2" text-anchor="middle" fill="#444">10<tspan font-size="4.34" dy="-2.6">4</tspan></text>
<text x="219.4" y="160.9" font-size="14.5" font-weight="normal" text-anchor="end" fill="#000" >S8</text>
<rect x="230.6" y="147.5" width="92" height="102" fill="#fff" stroke="#9a9a9a" stroke-width="1"/>
<path d="M230.6,250 C231.02,249.95 232.35,249.87 233.1,249.7 C233.85,249.53 234.47,249.45 235.1,249 C235.73,248.55 236.38,248.42 236.9,247 C237.42,245.58 237.78,242.75 238.2,240.5 C238.62,238.25 238.93,237 239.4,233.5 C239.87,230 240.45,224.17 241,219.5 C241.55,214.83 242.2,210.17 242.7,205.5 C243.2,200.83 243.57,196.1 244,191.5 C244.43,186.9 244.97,181.4 245.3,177.9 C245.63,174.4 245.77,172.83 246,170.5 C246.23,168.17 246.4,166.07 246.7,163.9 C247,161.73 247.45,159.15 247.8,157.5 C248.15,155.85 248.45,154.42 248.8,154 C249.15,153.58 249.52,154.58 249.9,155 C250.28,155.42 250.73,156.58 251.1,156.5 C251.47,156.42 251.77,155.13 252.1,154.5 C252.43,153.87 252.78,152.03 253.1,152.7 C253.42,153.37 253.68,155.93 254,158.5 C254.32,161.07 254.68,164.93 255,168.1 C255.32,171.27 255.58,174.3 255.9,177.5 C256.22,180.7 256.58,184.3 256.9,187.3 C257.22,190.3 257.48,192.93 257.8,195.5 C258.12,198.07 258.4,200.2 258.8,202.7 C259.2,205.2 259.72,207.93 260.2,210.5 C260.68,213.07 261.17,216.02 261.7,218.1 C262.23,220.18 262.83,221.4 263.4,223 C263.97,224.6 264.53,226.28 265.1,227.7 C265.67,229.12 266.22,230.22 266.8,231.5 C267.38,232.78 267.8,234.23 268.6,235.4 C269.4,236.57 270.55,237.53 271.6,238.5 C272.65,239.47 273.65,240.4 274.9,241.2 C276.15,242 277.77,242.67 279.1,243.3 C280.43,243.93 281.48,244.53 282.9,245 C284.32,245.47 286,245.78 287.6,246.1 C289.2,246.42 290.67,246.62 292.5,246.9 C294.33,247.18 296.25,247.5 298.6,247.8 C300.95,248.1 302.6,248.42 306.6,248.7 C310.6,248.98 319.93,249.37 322.6,249.5 L322.6,249.5 L230.6,249.5 Z" fill="#bababa" stroke="none"/>
<path d="M230.6,250 C231.02,249.95 232.35,249.87 233.1,249.7 C233.85,249.53 234.47,249.45 235.1,249 C235.73,248.55 236.38,248.42 236.9,247 C237.42,245.58 237.78,242.75 238.2,240.5 C238.62,238.25 238.93,237 239.4,233.5 C239.87,230 240.45,224.17 241,219.5 C241.55,214.83 242.2,210.17 242.7,205.5 C243.2,200.83 243.57,196.1 244,191.5 C244.43,186.9 244.97,181.4 245.3,177.9 C245.63,174.4 245.77,172.83 246,170.5 C246.23,168.17 246.4,166.07 246.7,163.9 C247,161.73 247.45,159.15 247.8,157.5 C248.15,155.85 248.45,154.42 248.8,154 C249.15,153.58 249.52,154.58 249.9,155 C250.28,155.42 250.73,156.58 251.1,156.5 C251.47,156.42 251.77,155.13 252.1,154.5 C252.43,153.87 252.78,152.03 253.1,152.7 C253.42,153.37 253.68,155.93 254,158.5 C254.32,161.07 254.68,164.93 255,168.1 C255.32,171.27 255.58,174.3 255.9,177.5 C256.22,180.7 256.58,184.3 256.9,187.3 C257.22,190.3 257.48,192.93 257.8,195.5 C258.12,198.07 258.4,200.2 258.8,202.7 C259.2,205.2 259.72,207.93 260.2,210.5 C260.68,213.07 261.17,216.02 261.7,218.1 C262.23,220.18 262.83,221.4 263.4,223 C263.97,224.6 264.53,226.28 265.1,227.7 C265.67,229.12 266.22,230.22 266.8,231.5 C267.38,232.78 267.8,234.23 268.6,235.4 C269.4,236.57 270.55,237.53 271.6,238.5 C272.65,239.47 273.65,240.4 274.9,241.2 C276.15,242 277.77,242.67 279.1,243.3 C280.43,243.93 281.48,244.53 282.9,245 C284.32,245.47 286,245.78 287.6,246.1 C289.2,246.42 290.67,246.62 292.5,246.9 C294.33,247.18 296.25,247.5 298.6,247.8 C300.95,248.1 302.6,248.42 306.6,248.7 C310.6,248.98 319.93,249.37 322.6,249.5" fill="none" stroke="#262626" stroke-width="0.65"/>
<path d="M232.6,250 C233.02,249.83 234.35,250.75 235.1,249 C235.85,247.25 236.52,244.65 237.1,239.5 C237.68,234.35 238.1,224.77 238.6,218.1 C239.1,211.43 239.62,205.27 240.1,199.5 C240.58,193.73 241.03,188 241.5,183.5 C241.97,179 242.43,175.72 242.9,172.5 C243.37,169.28 243.82,166.37 244.3,164.2 C244.78,162.03 245.32,160.78 245.8,159.5 C246.28,158.22 246.73,156.75 247.2,156.5 C247.67,156.25 248.12,157.35 248.6,158 C249.08,158.65 249.6,159.32 250.1,160.4 C250.6,161.48 251.12,162.9 251.6,164.5 C252.08,166.1 252.52,167.83 253,170 C253.48,172.17 254.02,174.62 254.5,177.5 C254.98,180.38 255.42,183.97 255.9,187.3 C256.38,190.63 256.92,194.3 257.4,197.5 C257.88,200.7 258.27,203.83 258.8,206.5 C259.33,209.17 259.97,211.25 260.6,213.5 C261.23,215.75 261.93,218.25 262.6,220 C263.27,221.75 263.95,222.72 264.6,224 C265.25,225.28 265.75,226.37 266.5,227.7 C267.25,229.03 268.15,230.72 269.1,232 C270.05,233.28 271.2,234.48 272.2,235.4 C273.2,236.32 274.13,236.87 275.1,237.5 C276.07,238.13 277.03,238.73 278,239.2 C278.97,239.67 279.93,239.97 280.9,240.3 C281.87,240.63 282.68,240.8 283.8,241.2 C284.92,241.6 286.3,242.23 287.6,242.7 C288.9,243.17 290.1,243.53 291.6,244 C293.1,244.47 294.93,245.03 296.6,245.5 C298.27,245.97 299.6,246.38 301.6,246.8 C303.6,247.22 305.1,247.63 308.6,248 C312.1,248.37 320.27,248.83 322.6,249" fill="none" stroke="#1e1e1e" stroke-width="0.7" stroke-dasharray="2.2,1.6"/>
<path d="M230.6,250 C231.93,249.95 236.43,249.82 238.6,249.7 C240.77,249.58 242.17,249.45 243.6,249.3 C245.03,249.15 246.2,249.43 247.2,248.8 C248.2,248.17 248.8,246.77 249.6,245.5 C250.4,244.23 251.35,244.2 252,241.2 C252.65,238.2 253.02,232.32 253.5,227.5 C253.98,222.68 254.5,217.3 254.9,212.3 C255.3,207.3 255.58,202.3 255.9,197.5 C256.22,192.7 256.48,187.83 256.8,183.5 C257.12,179.17 257.47,175.03 257.8,171.5 C258.13,167.97 258.47,164.8 258.8,162.3 C259.13,159.8 259.48,157.93 259.8,156.5 C260.12,155.07 260.4,153.7 260.7,153.7 C261,153.7 261.28,155.38 261.6,156.5 C261.92,157.62 262.27,158.98 262.6,160.4 C262.93,161.82 263.27,163.4 263.6,165 C263.93,166.6 264.27,168.08 264.6,170 C264.93,171.92 265.28,174.25 265.6,176.5 C265.92,178.75 266.18,180.83 266.5,183.5 C266.82,186.17 267.18,189.3 267.5,192.5 C267.82,195.7 268.08,199.7 268.4,202.7 C268.72,205.7 269.08,207.93 269.4,210.5 C269.72,213.07 269.9,215.6 270.3,218.1 C270.7,220.6 271.32,223.27 271.8,225.5 C272.28,227.73 272.65,229.58 273.2,231.5 C273.75,233.42 274.47,235.38 275.1,237 C275.73,238.62 276.17,240.12 277,241.2 C277.83,242.28 278.97,242.87 280.1,243.5 C281.23,244.13 282.38,244.58 283.8,245 C285.22,245.42 286.97,245.7 288.6,246 C290.23,246.3 291.6,246.5 293.6,246.8 C295.6,247.1 297.77,247.48 300.6,247.8 C303.43,248.12 306.93,248.42 310.6,248.7 C314.27,248.98 320.6,249.37 322.6,249.5" fill="none" stroke="#1e1e1e" stroke-width="0.65"/>
<line x1="230.6" y1="147.5" x2="230.6" y2="249.5" stroke="#8a8a8a" stroke-width="1"/>
<line x1="230.6" y1="249.5" x2="322.6" y2="249.5" stroke="#8a8a8a" stroke-width="1"/>
<line x1="228.1" y1="249.5" x2="230.6" y2="249.5" stroke="#4a4a4a" stroke-width="0.7"/>
<line x1="229.4" y1="244.4" x2="230.6" y2="244.4" stroke="#4a4a4a" stroke-width="0.7"/>
<line x1="229.4" y1="239.3" x2="230.6" y2="239.3" stroke="#4a4a4a" stroke-width="0.7"/>
<line x1="229.4" y1="234.2" x2="230.6" y2="234.2" stroke="#4a4a4a" stroke-width="0.7"/>
<line x1="228.1" y1="229.1" x2="230.6" y2="229.1" stroke="#4a4a4a" stroke-width="0.7"/>
<line x1="229.4" y1="224" x2="230.6" y2="224" stroke="#4a4a4a" stroke-width="0.7"/>
<line x1="229.4" y1="218.9" x2="230.6" y2="218.9" stroke="#4a4a4a" stroke-width="0.7"/>
<line x1="229.4" y1="213.8" x2="230.6" y2="213.8" stroke="#4a4a4a" stroke-width="0.7"/>
<line x1="228.1" y1="208.7" x2="230.6" y2="208.7" stroke="#4a4a4a" stroke-width="0.7"/>
<line x1="229.4" y1="203.6" x2="230.6" y2="203.6" stroke="#4a4a4a" stroke-width="0.7"/>
<line x1="229.4" y1="198.5" x2="230.6" y2="198.5" stroke="#4a4a4a" stroke-width="0.7"/>
<line x1="229.4" y1="193.4" x2="230.6" y2="193.4" stroke="#4a4a4a" stroke-width="0.7"/>
<line x1="228.1" y1="188.3" x2="230.6" y2="188.3" stroke="#4a4a4a" stroke-width="0.7"/>
<line x1="229.4" y1="183.2" x2="230.6" y2="183.2" stroke="#4a4a4a" stroke-width="0.7"/>
<line x1="229.4" y1="178.1" x2="230.6" y2="178.1" stroke="#4a4a4a" stroke-width="0.7"/>
<line x1="229.4" y1="173" x2="230.6" y2="173" stroke="#4a4a4a" stroke-width="0.7"/>
<line x1="228.1" y1="167.9" x2="230.6" y2="167.9" stroke="#4a4a4a" stroke-width="0.7"/>
<line x1="229.4" y1="162.8" x2="230.6" y2="162.8" stroke="#4a4a4a" stroke-width="0.7"/>
<line x1="229.4" y1="157.7" x2="230.6" y2="157.7" stroke="#4a4a4a" stroke-width="0.7"/>
<line x1="229.4" y1="152.6" x2="230.6" y2="152.6" stroke="#4a4a4a" stroke-width="0.7"/>
<line x1="228.1" y1="147.5" x2="230.6" y2="147.5" stroke="#4a4a4a" stroke-width="0.7"/>
<line x1="230.6" y1="249.5" x2="230.6" y2="252" stroke="#4a4a4a" stroke-width="0.7"/>
<line x1="237.52" y1="249.5" x2="237.52" y2="250.8" stroke="#4a4a4a" stroke-width="0.7"/>
<line x1="241.57" y1="249.5" x2="241.57" y2="250.8" stroke="#4a4a4a" stroke-width="0.7"/>
<line x1="244.45" y1="249.5" x2="244.45" y2="250.8" stroke="#4a4a4a" stroke-width="0.7"/>
<line x1="246.68" y1="249.5" x2="246.68" y2="250.8" stroke="#4a4a4a" stroke-width="0.7"/>
<line x1="248.5" y1="249.5" x2="248.5" y2="250.8" stroke="#4a4a4a" stroke-width="0.7"/>
<line x1="250.04" y1="249.5" x2="250.04" y2="250.8" stroke="#4a4a4a" stroke-width="0.7"/>
<line x1="251.37" y1="249.5" x2="251.37" y2="250.8" stroke="#4a4a4a" stroke-width="0.7"/>
<line x1="252.55" y1="249.5" x2="252.55" y2="250.8" stroke="#4a4a4a" stroke-width="0.7"/>
<line x1="253.6" y1="249.5" x2="253.6" y2="252" stroke="#4a4a4a" stroke-width="0.7"/>
<line x1="260.52" y1="249.5" x2="260.52" y2="250.8" stroke="#4a4a4a" stroke-width="0.7"/>
<line x1="264.57" y1="249.5" x2="264.57" y2="250.8" stroke="#4a4a4a" stroke-width="0.7"/>
<line x1="267.45" y1="249.5" x2="267.45" y2="250.8" stroke="#4a4a4a" stroke-width="0.7"/>
<line x1="269.68" y1="249.5" x2="269.68" y2="250.8" stroke="#4a4a4a" stroke-width="0.7"/>
<line x1="271.5" y1="249.5" x2="271.5" y2="250.8" stroke="#4a4a4a" stroke-width="0.7"/>
<line x1="273.04" y1="249.5" x2="273.04" y2="250.8" stroke="#4a4a4a" stroke-width="0.7"/>
<line x1="274.37" y1="249.5" x2="274.37" y2="250.8" stroke="#4a4a4a" stroke-width="0.7"/>
<line x1="275.55" y1="249.5" x2="275.55" y2="250.8" stroke="#4a4a4a" stroke-width="0.7"/>
<line x1="276.6" y1="249.5" x2="276.6" y2="252" stroke="#4a4a4a" stroke-width="0.7"/>
<line x1="283.52" y1="249.5" x2="283.52" y2="250.8" stroke="#4a4a4a" stroke-width="0.7"/>
<line x1="287.57" y1="249.5" x2="287.57" y2="250.8" stroke="#4a4a4a" stroke-width="0.7"/>
<line x1="290.45" y1="249.5" x2="290.45" y2="250.8" stroke="#4a4a4a" stroke-width="0.7"/>
<line x1="292.68" y1="249.5" x2="292.68" y2="250.8" stroke="#4a4a4a" stroke-width="0.7"/>
<line x1="294.5" y1="249.5" x2="294.5" y2="250.8" stroke="#4a4a4a" stroke-width="0.7"/>
<line x1="296.04" y1="249.5" x2="296.04" y2="250.8" stroke="#4a4a4a" stroke-width="0.7"/>
<line x1="297.37" y1="249.5" x2="297.37" y2="250.8" stroke="#4a4a4a" stroke-width="0.7"/>
<line x1="298.55" y1="249.5" x2="298.55" y2="250.8" stroke="#4a4a4a" stroke-width="0.7"/>
<line x1="299.6" y1="249.5" x2="299.6" y2="252" stroke="#4a4a4a" stroke-width="0.7"/>
<line x1="306.52" y1="249.5" x2="306.52" y2="250.8" stroke="#4a4a4a" stroke-width="0.7"/>
<line x1="310.57" y1="249.5" x2="310.57" y2="250.8" stroke="#4a4a4a" stroke-width="0.7"/>
<line x1="313.45" y1="249.5" x2="313.45" y2="250.8" stroke="#4a4a4a" stroke-width="0.7"/>
<line x1="315.68" y1="249.5" x2="315.68" y2="250.8" stroke="#4a4a4a" stroke-width="0.7"/>
<line x1="317.5" y1="249.5" x2="317.5" y2="250.8" stroke="#4a4a4a" stroke-width="0.7"/>
<line x1="319.04" y1="249.5" x2="319.04" y2="250.8" stroke="#4a4a4a" stroke-width="0.7"/>
<line x1="320.37" y1="249.5" x2="320.37" y2="250.8" stroke="#4a4a4a" stroke-width="0.7"/>
<line x1="321.55" y1="249.5" x2="321.55" y2="250.8" stroke="#4a4a4a" stroke-width="0.7"/>
<line x1="322.6" y1="249.5" x2="322.6" y2="252" stroke="#4a4a4a" stroke-width="0.7"/>
<text x="230.6" y="258" font-size="6.2" text-anchor="middle" fill="#444">10<tspan font-size="4.34" dy="-2.6">0</tspan></text>
<text x="253.6" y="258" font-size="6.2" text-anchor="middle" fill="#444">10<tspan font-size="4.34" dy="-2.6">1</tspan></text>
<text x="276.6" y="258" font-size="6.2" text-anchor="middle" fill="#444">10<tspan font-size="4.34" dy="-2.6">2</tspan></text>
<text x="299.6" y="258" font-size="6.2" text-anchor="middle" fill="#444">10<tspan font-size="4.34" dy="-2.6">3</tspan></text>
<text x="322.6" y="258" font-size="6.2" text-anchor="middle" fill="#444">10<tspan font-size="4.34" dy="-2.6">4</tspan></text>
<text x="318.9" y="160.9" font-size="14.5" font-weight="normal" text-anchor="end" fill="#000" >S14</text>
<rect x="330.2" y="147.5" width="92" height="102" fill="#fff" stroke="#9a9a9a" stroke-width="1"/>
<path d="M330.2,250 C330.62,249.95 331.95,249.87 332.7,249.7 C333.45,249.53 334.07,249.45 334.7,249 C335.33,248.55 335.98,248.42 336.5,247 C337.02,245.58 337.38,242.75 337.8,240.5 C338.22,238.25 338.53,237 339,233.5 C339.47,230 340.05,224.17 340.6,219.5 C341.15,214.83 341.8,210.17 342.3,205.5 C342.8,200.83 343.17,196.1 343.6,191.5 C344.03,186.9 344.57,181.4 344.9,177.9 C345.23,174.4 345.37,172.83 345.6,170.5 C345.83,168.17 346,166.07 346.3,163.9 C346.6,161.73 347.05,159.15 347.4,157.5 C347.75,155.85 348.05,154.42 348.4,154 C348.75,153.58 349.12,154.58 349.5,155 C349.88,155.42 350.33,156.58 350.7,156.5 C351.07,156.42 351.37,155.13 351.7,154.5 C352.03,153.87 352.38,152.03 352.7,152.7 C353.02,153.37 353.28,155.93 353.6,158.5 C353.92,161.07 354.28,164.93 354.6,168.1 C354.92,171.27 355.18,174.3 355.5,177.5 C355.82,180.7 356.18,184.3 356.5,187.3 C356.82,190.3 357.08,192.93 357.4,195.5 C357.72,198.07 358,200.2 358.4,202.7 C358.8,205.2 359.32,207.93 359.8,210.5 C360.28,213.07 360.77,216.02 361.3,218.1 C361.83,220.18 362.43,221.4 363,223 C363.57,224.6 364.13,226.28 364.7,227.7 C365.27,229.12 365.82,230.22 366.4,231.5 C366.98,232.78 367.4,234.23 368.2,235.4 C369,236.57 370.15,237.53 371.2,238.5 C372.25,239.47 373.25,240.4 374.5,241.2 C375.75,242 377.37,242.67 378.7,243.3 C380.03,243.93 381.08,244.53 382.5,245 C383.92,245.47 385.6,245.78 387.2,246.1 C388.8,246.42 390.27,246.62 392.1,246.9 C393.93,247.18 395.85,247.5 398.2,247.8 C400.55,248.1 402.2,248.42 406.2,248.7 C410.2,248.98 419.53,249.37 422.2,249.5 L422.2,249.5 L330.2,249.5 Z" fill="#bababa" stroke="none"/>
<path d="M330.2,250 C330.62,249.95 331.95,249.87 332.7,249.7 C333.45,249.53 334.07,249.45 334.7,249 C335.33,248.55 335.98,248.42 336.5,247 C337.02,245.58 337.38,242.75 337.8,240.5 C338.22,238.25 338.53,237 339,233.5 C339.47,230 340.05,224.17 340.6,219.5 C341.15,214.83 341.8,210.17 342.3,205.5 C342.8,200.83 343.17,196.1 343.6,191.5 C344.03,186.9 344.57,181.4 344.9,177.9 C345.23,174.4 345.37,172.83 345.6,170.5 C345.83,168.17 346,166.07 346.3,163.9 C346.6,161.73 347.05,159.15 347.4,157.5 C347.75,155.85 348.05,154.42 348.4,154 C348.75,153.58 349.12,154.58 349.5,155 C349.88,155.42 350.33,156.58 350.7,156.5 C351.07,156.42 351.37,155.13 351.7,154.5 C352.03,153.87 352.38,152.03 352.7,152.7 C353.02,153.37 353.28,155.93 353.6,158.5 C353.92,161.07 354.28,164.93 354.6,168.1 C354.92,171.27 355.18,174.3 355.5,177.5 C355.82,180.7 356.18,184.3 356.5,187.3 C356.82,190.3 357.08,192.93 357.4,195.5 C357.72,198.07 358,200.2 358.4,202.7 C358.8,205.2 359.32,207.93 359.8,210.5 C360.28,213.07 360.77,216.02 361.3,218.1 C361.83,220.18 362.43,221.4 363,223 C363.57,224.6 364.13,226.28 364.7,227.7 C365.27,229.12 365.82,230.22 366.4,231.5 C366.98,232.78 367.4,234.23 368.2,235.4 C369,236.57 370.15,237.53 371.2,238.5 C372.25,239.47 373.25,240.4 374.5,241.2 C375.75,242 377.37,242.67 378.7,243.3 C380.03,243.93 381.08,244.53 382.5,245 C383.92,245.47 385.6,245.78 387.2,246.1 C388.8,246.42 390.27,246.62 392.1,246.9 C393.93,247.18 395.85,247.5 398.2,247.8 C400.55,248.1 402.2,248.42 406.2,248.7 C410.2,248.98 419.53,249.37 422.2,249.5" fill="none" stroke="#262626" stroke-width="0.65"/>
<path d="M332.2,250 C332.62,249.83 333.95,250.08 334.7,249 C335.45,247.92 336.07,246.08 336.7,243.5 C337.33,240.92 337.92,237.5 338.5,233.5 C339.08,229.5 339.62,224.13 340.2,219.5 C340.78,214.87 341.42,210.37 342,205.7 C342.58,201.03 343.13,196.13 343.7,191.5 C344.27,186.87 344.9,181.9 345.4,177.9 C345.9,173.9 346.3,170.4 346.7,167.5 C347.1,164.6 347.43,162.25 347.8,160.5 C348.17,158.75 348.5,157.42 348.9,157 C349.3,156.58 349.73,157.58 350.2,158 C350.67,158.42 351.2,159.08 351.7,159.5 C352.2,159.92 352.72,160.08 353.2,160.5 C353.68,160.92 354.15,161.43 354.6,162 C355.05,162.57 355.57,162.48 355.9,163.9 C356.23,165.32 356.37,168.17 356.6,170.5 C356.83,172.83 357.07,175.48 357.3,177.9 C357.53,180.32 357.77,182.68 358,185 C358.23,187.32 358.3,189.47 358.7,191.8 C359.1,194.13 359.82,196.68 360.4,199 C360.98,201.32 361.57,203.45 362.2,205.7 C362.83,207.95 363.52,210.18 364.2,212.5 C364.88,214.82 365.55,217.27 366.3,219.6 C367.05,221.93 367.88,224.18 368.7,226.5 C369.52,228.82 370.37,231.75 371.2,233.5 C372.03,235.25 372.77,235.83 373.7,237 C374.63,238.17 375.72,239.62 376.8,240.5 C377.88,241.38 378.8,241.77 380.2,242.3 C381.6,242.83 383.37,243.2 385.2,243.7 C387.03,244.2 389.2,244.8 391.2,245.3 C393.2,245.8 394.87,246.25 397.2,246.7 C399.53,247.15 401.03,247.62 405.2,248 C409.37,248.38 419.37,248.83 422.2,249" fill="none" stroke="#1e1e1e" stroke-width="0.7" stroke-dasharray="2.2,1.6"/>
<path d="M330.2,250 C331.2,249.95 334.53,249.85 336.2,249.7 C337.87,249.55 339.03,249.42 340.2,249.1 C341.37,248.78 342.37,248.57 343.2,247.8 C344.03,247.03 344.65,245.88 345.2,244.5 C345.75,243.12 346.12,241.33 346.5,239.5 C346.88,237.67 347.1,236.17 347.5,233.5 C347.9,230.83 348.42,226.67 348.9,223.5 C349.38,220.33 349.93,217.47 350.4,214.5 C350.87,211.53 351.32,208.87 351.7,205.7 C352.08,202.53 352.38,198.87 352.7,195.5 C353.02,192.13 353.3,188.43 353.6,185.5 C353.9,182.57 354.23,180.4 354.5,177.9 C354.77,175.4 354.97,172.83 355.2,170.5 C355.43,168.17 355.63,165.9 355.9,163.9 C356.17,161.9 356.48,159.98 356.8,158.5 C357.12,157.02 357.48,155.78 357.8,155 C358.12,154.22 358.43,154.05 358.7,153.8 C358.97,153.55 359.15,153.22 359.4,153.5 C359.65,153.78 359.93,154.5 360.2,155.5 C360.47,156.5 360.75,158.25 361,159.5 C361.25,160.75 361.5,162.27 361.7,163 C361.9,163.73 362,164.23 362.2,163.9 C362.4,163.57 362.67,161.82 362.9,161 C363.13,160.18 363.38,159.33 363.6,159 C363.82,158.67 364,158.42 364.2,159 C364.4,159.58 364.58,160.75 364.8,162.5 C365.02,164.25 365.25,166.93 365.5,169.5 C365.75,172.07 366.05,175.32 366.3,177.9 C366.55,180.48 366.77,182.68 367,185 C367.23,187.32 367.47,189.47 367.7,191.8 C367.93,194.13 368.17,196.68 368.4,199 C368.63,201.32 368.77,203.37 369.1,205.7 C369.43,208.03 369.93,210.68 370.4,213 C370.87,215.32 371.37,217.35 371.9,219.6 C372.43,221.85 373.02,224.18 373.6,226.5 C374.18,228.82 374.77,231.67 375.4,233.5 C376.03,235.33 376.7,236.33 377.4,237.5 C378.1,238.67 378.8,239.7 379.6,240.5 C380.4,241.3 381.18,241.75 382.2,242.3 C383.22,242.85 384.7,243.4 385.7,243.8 C386.7,244.2 387.2,244.37 388.2,244.7 C389.2,245.03 390.2,245.42 391.7,245.8 C393.2,246.18 394.95,246.62 397.2,247 C399.45,247.38 401.03,247.68 405.2,248.1 C409.37,248.52 419.37,249.27 422.2,249.5" fill="none" stroke="#1e1e1e" stroke-width="0.65"/>
<line x1="330.2" y1="147.5" x2="330.2" y2="249.5" stroke="#8a8a8a" stroke-width="1"/>
<line x1="330.2" y1="249.5" x2="422.2" y2="249.5" stroke="#8a8a8a" stroke-width="1"/>
<line x1="327.7" y1="249.5" x2="330.2" y2="249.5" stroke="#4a4a4a" stroke-width="0.7"/>
<line x1="329" y1="244.4" x2="330.2" y2="244.4" stroke="#4a4a4a" stroke-width="0.7"/>
<line x1="329" y1="239.3" x2="330.2" y2="239.3" stroke="#4a4a4a" stroke-width="0.7"/>
<line x1="329" y1="234.2" x2="330.2" y2="234.2" stroke="#4a4a4a" stroke-width="0.7"/>
<line x1="327.7" y1="229.1" x2="330.2" y2="229.1" stroke="#4a4a4a" stroke-width="0.7"/>
<line x1="329" y1="224" x2="330.2" y2="224" stroke="#4a4a4a" stroke-width="0.7"/>
<line x1="329" y1="218.9" x2="330.2" y2="218.9" stroke="#4a4a4a" stroke-width="0.7"/>
<line x1="329" y1="213.8" x2="330.2" y2="213.8" stroke="#4a4a4a" stroke-width="0.7"/>
<line x1="327.7" y1="208.7" x2="330.2" y2="208.7" stroke="#4a4a4a" stroke-width="0.7"/>
<line x1="329" y1="203.6" x2="330.2" y2="203.6" stroke="#4a4a4a" stroke-width="0.7"/>
<line x1="329" y1="198.5" x2="330.2" y2="198.5" stroke="#4a4a4a" stroke-width="0.7"/>
<line x1="329" y1="193.4" x2="330.2" y2="193.4" stroke="#4a4a4a" stroke-width="0.7"/>
<line x1="327.7" y1="188.3" x2="330.2" y2="188.3" stroke="#4a4a4a" stroke-width="0.7"/>
<line x1="329" y1="183.2" x2="330.2" y2="183.2" stroke="#4a4a4a" stroke-width="0.7"/>
<line x1="329" y1="178.1" x2="330.2" y2="178.1" stroke="#4a4a4a" stroke-width="0.7"/>
<line x1="329" y1="173" x2="330.2" y2="173" stroke="#4a4a4a" stroke-width="0.7"/>
<line x1="327.7" y1="167.9" x2="330.2" y2="167.9" stroke="#4a4a4a" stroke-width="0.7"/>
<line x1="329" y1="162.8" x2="330.2" y2="162.8" stroke="#4a4a4a" stroke-width="0.7"/>
<line x1="329" y1="157.7" x2="330.2" y2="157.7" stroke="#4a4a4a" stroke-width="0.7"/>
<line x1="329" y1="152.6" x2="330.2" y2="152.6" stroke="#4a4a4a" stroke-width="0.7"/>
<line x1="327.7" y1="147.5" x2="330.2" y2="147.5" stroke="#4a4a4a" stroke-width="0.7"/>
<line x1="330.2" y1="249.5" x2="330.2" y2="252" stroke="#4a4a4a" stroke-width="0.7"/>
<line x1="337.12" y1="249.5" x2="337.12" y2="250.8" stroke="#4a4a4a" stroke-width="0.7"/>
<line x1="341.17" y1="249.5" x2="341.17" y2="250.8" stroke="#4a4a4a" stroke-width="0.7"/>
<line x1="344.05" y1="249.5" x2="344.05" y2="250.8" stroke="#4a4a4a" stroke-width="0.7"/>
<line x1="346.28" y1="249.5" x2="346.28" y2="250.8" stroke="#4a4a4a" stroke-width="0.7"/>
<line x1="348.1" y1="249.5" x2="348.1" y2="250.8" stroke="#4a4a4a" stroke-width="0.7"/>
<line x1="349.64" y1="249.5" x2="349.64" y2="250.8" stroke="#4a4a4a" stroke-width="0.7"/>
<line x1="350.97" y1="249.5" x2="350.97" y2="250.8" stroke="#4a4a4a" stroke-width="0.7"/>
<line x1="352.15" y1="249.5" x2="352.15" y2="250.8" stroke="#4a4a4a" stroke-width="0.7"/>
<line x1="353.2" y1="249.5" x2="353.2" y2="252" stroke="#4a4a4a" stroke-width="0.7"/>
<line x1="360.12" y1="249.5" x2="360.12" y2="250.8" stroke="#4a4a4a" stroke-width="0.7"/>
<line x1="364.17" y1="249.5" x2="364.17" y2="250.8" stroke="#4a4a4a" stroke-width="0.7"/>
<line x1="367.05" y1="249.5" x2="367.05" y2="250.8" stroke="#4a4a4a" stroke-width="0.7"/>
<line x1="369.28" y1="249.5" x2="369.28" y2="250.8" stroke="#4a4a4a" stroke-width="0.7"/>
<line x1="371.1" y1="249.5" x2="371.1" y2="250.8" stroke="#4a4a4a" stroke-width="0.7"/>
<line x1="372.64" y1="249.5" x2="372.64" y2="250.8" stroke="#4a4a4a" stroke-width="0.7"/>
<line x1="373.97" y1="249.5" x2="373.97" y2="250.8" stroke="#4a4a4a" stroke-width="0.7"/>
<line x1="375.15" y1="249.5" x2="375.15" y2="250.8" stroke="#4a4a4a" stroke-width="0.7"/>
<line x1="376.2" y1="249.5" x2="376.2" y2="252" stroke="#4a4a4a" stroke-width="0.7"/>
<line x1="383.12" y1="249.5" x2="383.12" y2="250.8" stroke="#4a4a4a" stroke-width="0.7"/>
<line x1="387.17" y1="249.5" x2="387.17" y2="250.8" stroke="#4a4a4a" stroke-width="0.7"/>
<line x1="390.05" y1="249.5" x2="390.05" y2="250.8" stroke="#4a4a4a" stroke-width="0.7"/>
<line x1="392.28" y1="249.5" x2="392.28" y2="250.8" stroke="#4a4a4a" stroke-width="0.7"/>
<line x1="394.1" y1="249.5" x2="394.1" y2="250.8" stroke="#4a4a4a" stroke-width="0.7"/>
<line x1="395.64" y1="249.5" x2="395.64" y2="250.8" stroke="#4a4a4a" stroke-width="0.7"/>
<line x1="396.97" y1="249.5" x2="396.97" y2="250.8" stroke="#4a4a4a" stroke-width="0.7"/>
<line x1="398.15" y1="249.5" x2="398.15" y2="250.8" stroke="#4a4a4a" stroke-width="0.7"/>
<line x1="399.2" y1="249.5" x2="399.2" y2="252" stroke="#4a4a4a" stroke-width="0.7"/>
<line x1="406.12" y1="249.5" x2="406.12" y2="250.8" stroke="#4a4a4a" stroke-width="0.7"/>
<line x1="410.17" y1="249.5" x2="410.17" y2="250.8" stroke="#4a4a4a" stroke-width="0.7"/>
<line x1="413.05" y1="249.5" x2="413.05" y2="250.8" stroke="#4a4a4a" stroke-width="0.7"/>
<line x1="415.28" y1="249.5" x2="415.28" y2="250.8" stroke="#4a4a4a" stroke-width="0.7"/>
<line x1="417.1" y1="249.5" x2="417.1" y2="250.8" stroke="#4a4a4a" stroke-width="0.7"/>
<line x1="418.64" y1="249.5" x2="418.64" y2="250.8" stroke="#4a4a4a" stroke-width="0.7"/>
<line x1="419.97" y1="249.5" x2="419.97" y2="250.8" stroke="#4a4a4a" stroke-width="0.7"/>
<line x1="421.15" y1="249.5" x2="421.15" y2="250.8" stroke="#4a4a4a" stroke-width="0.7"/>
<line x1="422.2" y1="249.5" x2="422.2" y2="252" stroke="#4a4a4a" stroke-width="0.7"/>
<text x="330.2" y="258" font-size="6.2" text-anchor="middle" fill="#444">10<tspan font-size="4.34" dy="-2.6">0</tspan></text>
<text x="353.2" y="258" font-size="6.2" text-anchor="middle" fill="#444">10<tspan font-size="4.34" dy="-2.6">1</tspan></text>
<text x="376.2" y="258" font-size="6.2" text-anchor="middle" fill="#444">10<tspan font-size="4.34" dy="-2.6">2</tspan></text>
<text x="399.2" y="258" font-size="6.2" text-anchor="middle" fill="#444">10<tspan font-size="4.34" dy="-2.6">3</tspan></text>
<text x="422.2" y="258" font-size="6.2" text-anchor="middle" fill="#444">10<tspan font-size="4.34" dy="-2.6">4</tspan></text>
<text x="418.5" y="160.9" font-size="14.5" font-weight="normal" text-anchor="end" fill="#000" >S34</text>
<text x="0" y="0" font-size="13" font-weight="normal" text-anchor="middle" fill="#000" transform="translate(15.3,151.9) rotate(-90)">% of Maximum</text>
<text x="0" y="0" font-size="11.6" font-weight="normal" text-anchor="middle" fill="#000" transform="translate(428.2,88.8) rotate(90)">IgG Binding</text>
<text x="0" y="0" font-size="11.6" font-weight="normal" text-anchor="middle" fill="#000" transform="translate(428.2,198.8) rotate(90)">IgM Binding</text>
<text x="25.4" y="276.8" font-size="11.2" font-weight="normal" text-anchor="start" fill="#000" >Ig Binding</text>
<line x1="77.5" y1="273" x2="406" y2="273" stroke="#000" stroke-width="2.1"/>
<path d="M421.5,273 L401.5,268.3 L406,273 L401.5,277.7 Z" fill="#000"/>
<text x="1.5" y="307.6" font-size="17.5" font-weight="bold" text-anchor="start" fill="#000" >B</text>
<text x="0" y="0" font-size="14.4" font-weight="normal" text-anchor="middle" fill="#000" transform="translate(13.5,384.7) rotate(-90)">%S34 Binding</text>
<line x1="43.2" y1="322" x2="43.2" y2="456.5" stroke="#000" stroke-width="1.7"/>
<line x1="38.9" y1="455.5" x2="43.2" y2="455.5" stroke="#000" stroke-width="1.3"/>
<text x="37.4" y="458.65" font-size="8.9" font-weight="bold" text-anchor="end" fill="#000" >0</text>
<line x1="41" y1="445.94" x2="43.2" y2="445.94" stroke="#000" stroke-width="1.3"/>
<line x1="38.9" y1="436.39" x2="43.2" y2="436.39" stroke="#000" stroke-width="1.3"/>
<text x="37.4" y="439.54" font-size="8.9" font-weight="bold" text-anchor="end" fill="#000" >20</text>
<line x1="41" y1="426.83" x2="43.2" y2="426.83" stroke="#000" stroke-width="1.3"/>
<line x1="38.9" y1="417.28" x2="43.2" y2="417.28" stroke="#000" stroke-width="1.3"/>
<text x="37.4" y="420.43" font-size="8.9" font-weight="bold" text-anchor="end" fill="#000" >40</text>
<line x1="41" y1="407.73" x2="43.2" y2="407.73" stroke="#000" stroke-width="1.3"/>
<line x1="38.9" y1="398.17" x2="43.2" y2="398.17" stroke="#000" stroke-width="1.3"/>
<text x="37.4" y="401.32" font-size="8.9" font-weight="bold" text-anchor="end" fill="#000" >60</text>
<line x1="41" y1="388.62" x2="43.2" y2="388.62" stroke="#000" stroke-width="1.3"/>
<line x1="38.9" y1="379.06" x2="43.2" y2="379.06" stroke="#000" stroke-width="1.3"/>
<text x="37.4" y="382.21" font-size="8.9" font-weight="bold" text-anchor="end" fill="#000" >80</text>
<line x1="41" y1="369.5" x2="43.2" y2="369.5" stroke="#000" stroke-width="1.3"/>
<line x1="38.9" y1="359.95" x2="43.2" y2="359.95" stroke="#000" stroke-width="1.3"/>
<text x="37.4" y="363.1" font-size="8.9" font-weight="bold" text-anchor="end" fill="#000" >100</text>
<line x1="41" y1="350.39" x2="43.2" y2="350.39" stroke="#000" stroke-width="1.3"/>
<line x1="38.9" y1="340.84" x2="43.2" y2="340.84" stroke="#000" stroke-width="1.3"/>
<text x="37.4" y="343.99" font-size="8.9" font-weight="bold" text-anchor="end" fill="#000" >120</text>
<line x1="41" y1="331.28" x2="43.2" y2="331.28" stroke="#000" stroke-width="1.3"/>
<line x1="38.9" y1="321.73" x2="43.2" y2="321.73" stroke="#000" stroke-width="1.3"/>
<text x="37.4" y="324.88" font-size="8.9" font-weight="bold" text-anchor="end" fill="#000" >140</text>
<line x1="37.7" y1="455.5" x2="244" y2="455.5" stroke="#000" stroke-width="1.9"/>
<line x1="47.8" y1="448.81" x2="47.8" y2="447.38" stroke="#333" stroke-width="0.8"/>
<line x1="46.6" y1="447.38" x2="49" y2="447.38" stroke="#333" stroke-width="0.8"/>
<line x1="52.2" y1="449.77" x2="52.2" y2="446.9" stroke="#333" stroke-width="0.8"/>
<line x1="51" y1="446.9" x2="53.4" y2="446.9" stroke="#333" stroke-width="0.8"/>
<rect x="45.6" y="448.81" width="4.4" height="6.69" fill="#000"/>
<rect x="50.4" y="449.77" width="3.6" height="5.73" fill="#fff" stroke="#000" stroke-width="0.8"/>
<line x1="50" y1="455.5" x2="50" y2="460.5" stroke="#000" stroke-width="1.8"/>
<text x="0" y="0" font-size="9.3" font-weight="bold" text-anchor="end" fill="#000" transform="translate(52.3,469.4) rotate(-45)">S3</text>
<rect x="59.83" y="452.06" width="4.4" height="3.44" fill="#000"/>
<line x1="64.23" y1="455.5" x2="64.23" y2="460.5" stroke="#000" stroke-width="1.8"/>
<text x="0" y="0" font-size="9.3" font-weight="bold" text-anchor="end" fill="#000" transform="translate(66.53,469.4) rotate(-45)">S6</text>
<line x1="76.26" y1="430.66" x2="76.26" y2="423.01" stroke="#333" stroke-width="0.8"/>
<line x1="75.06" y1="423.01" x2="77.46" y2="423.01" stroke="#333" stroke-width="0.8"/>
<line x1="80.66" y1="437.82" x2="80.66" y2="430.66" stroke="#333" stroke-width="0.8"/>
<line x1="79.46" y1="430.66" x2="81.86" y2="430.66" stroke="#333" stroke-width="0.8"/>
<rect x="74.06" y="430.66" width="4.4" height="24.84" fill="#000"/>
<rect x="78.86" y="437.82" width="3.6" height="17.68" fill="#fff" stroke="#000" stroke-width="0.8"/>
<line x1="78.46" y1="455.5" x2="78.46" y2="460.5" stroke="#000" stroke-width="1.8"/>
<text x="0" y="0" font-size="9.3" font-weight="bold" text-anchor="end" fill="#000" transform="translate(80.76,469.4) rotate(-45)">S8</text>
<line x1="90.49" y1="428.27" x2="90.49" y2="420.15" stroke="#333" stroke-width="0.8"/>
<line x1="89.29" y1="420.15" x2="91.69" y2="420.15" stroke="#333" stroke-width="0.8"/>
<rect x="88.29" y="428.27" width="4.4" height="27.23" fill="#000"/>
<rect x="93.09" y="448.81" width="3.6" height="6.69" fill="#fff" stroke="#000" stroke-width="0.8"/>
<line x1="92.69" y1="455.5" x2="92.69" y2="460.5" stroke="#000" stroke-width="1.8"/>
<text x="0" y="0" font-size="9.3" font-weight="bold" text-anchor="end" fill="#000" transform="translate(94.99,469.4) rotate(-45)">S14</text>
<line x1="104.72" y1="450.72" x2="104.72" y2="446.9" stroke="#333" stroke-width="0.8"/>
<line x1="103.52" y1="446.9" x2="105.92" y2="446.9" stroke="#333" stroke-width="0.8"/>
<rect x="102.52" y="450.72" width="4.4" height="4.78" fill="#000"/>
<rect x="107.32" y="453.11" width="3.6" height="2.39" fill="#fff" stroke="#000" stroke-width="0.8"/>
<line x1="106.92" y1="455.5" x2="106.92" y2="460.5" stroke="#000" stroke-width="1.8"/>
<text x="0" y="0" font-size="9.3" font-weight="bold" text-anchor="end" fill="#000" transform="translate(109.22,469.4) rotate(-45)">S19</text>
<line x1="123.35" y1="449.77" x2="123.35" y2="447.86" stroke="#333" stroke-width="0.8"/>
<line x1="122.15" y1="447.86" x2="124.55" y2="447.86" stroke="#333" stroke-width="0.8"/>
<rect x="116.75" y="454.93" width="4.4" height="0.57" fill="#000"/>
<rect x="121.55" y="449.77" width="3.6" height="5.73" fill="#fff" stroke="#000" stroke-width="0.8"/>
<line x1="121.15" y1="455.5" x2="121.15" y2="460.5" stroke="#000" stroke-width="1.8"/>
<text x="0" y="0" font-size="9.3" font-weight="bold" text-anchor="end" fill="#000" transform="translate(123.45,469.4) rotate(-45)">S26</text>
<line x1="137.58" y1="453.59" x2="137.58" y2="452.16" stroke="#333" stroke-width="0.8"/>
<line x1="136.38" y1="452.16" x2="138.78" y2="452.16" stroke="#333" stroke-width="0.8"/>
<rect x="130.98" y="455.02" width="4.4" height="0.48" fill="#000"/>
<rect x="135.78" y="453.59" width="3.6" height="1.91" fill="#fff" stroke="#000" stroke-width="0.8"/>
<line x1="135.38" y1="455.5" x2="135.38" y2="460.5" stroke="#000" stroke-width="1.8"/>
<text x="0" y="0" font-size="9.3" font-weight="bold" text-anchor="end" fill="#000" transform="translate(137.68,469.4) rotate(-45)">S30</text>
<line x1="147.41" y1="454.07" x2="147.41" y2="453.11" stroke="#333" stroke-width="0.8"/>
<line x1="146.21" y1="453.11" x2="148.61" y2="453.11" stroke="#333" stroke-width="0.8"/>
<rect x="145.21" y="454.07" width="4.4" height="1.43" fill="#000"/>
<line x1="149.61" y1="455.5" x2="149.61" y2="460.5" stroke="#000" stroke-width="1.8"/>
<text x="0" y="0" font-size="9.3" font-weight="bold" text-anchor="end" fill="#000" transform="translate(151.91,469.4) rotate(-45)">S31</text>
<line x1="166.04" y1="430.66" x2="166.04" y2="420.62" stroke="#333" stroke-width="0.8"/>
<line x1="164.84" y1="420.62" x2="167.24" y2="420.62" stroke="#333" stroke-width="0.8"/>
<rect x="164.24" y="430.66" width="3.6" height="24.84" fill="#fff" stroke="#000" stroke-width="0.8"/>
<line x1="163.84" y1="455.5" x2="163.84" y2="460.5" stroke="#000" stroke-width="1.8"/>
<text x="0" y="0" font-size="9.3" font-weight="bold" text-anchor="end" fill="#000" transform="translate(166.14,469.4) rotate(-45)">S32</text>
<line x1="175.87" y1="453.59" x2="175.87" y2="453.11" stroke="#333" stroke-width="0.8"/>
<line x1="174.67" y1="453.11" x2="177.07" y2="453.11" stroke="#333" stroke-width="0.8"/>
<line x1="180.27" y1="388.14" x2="180.27" y2="373.33" stroke="#333" stroke-width="0.8"/>
<line x1="179.07" y1="373.33" x2="181.47" y2="373.33" stroke="#333" stroke-width="0.8"/>
<rect x="173.67" y="453.59" width="4.4" height="1.91" fill="#000"/>
<rect x="178.47" y="388.14" width="3.6" height="67.36" fill="#fff" stroke="#000" stroke-width="0.8"/>
<line x1="178.07" y1="455.5" x2="178.07" y2="460.5" stroke="#000" stroke-width="1.8"/>
<text x="0" y="0" font-size="9.3" font-weight="bold" text-anchor="end" fill="#000" transform="translate(180.37,469.4) rotate(-45)">S33</text>
<rect x="187.9" y="359.95" width="4.4" height="95.55" fill="#000"/>
<rect x="192.7" y="359.95" width="3.6" height="95.55" fill="#fff" stroke="#000" stroke-width="0.8"/>
<line x1="192.3" y1="455.5" x2="192.3" y2="460.5" stroke="#000" stroke-width="1.8"/>
<text x="0" y="0" font-size="9.3" font-weight="bold" text-anchor="end" fill="#000" transform="translate(194.6,469.4) rotate(-45)">S34</text>
<line x1="204.33" y1="445.94" x2="204.33" y2="442.6" stroke="#333" stroke-width="0.8"/>
<line x1="203.13" y1="442.6" x2="205.53" y2="442.6" stroke="#333" stroke-width="0.8"/>
<line x1="208.73" y1="354.69" x2="208.73" y2="330.33" stroke="#333" stroke-width="0.8"/>
<line x1="207.53" y1="330.33" x2="209.93" y2="330.33" stroke="#333" stroke-width="0.8"/>
<rect x="202.13" y="445.94" width="4.4" height="9.55" fill="#000"/>
<rect x="206.93" y="354.69" width="3.6" height="100.81" fill="#fff" stroke="#000" stroke-width="0.8"/>
<line x1="206.53" y1="455.5" x2="206.53" y2="460.5" stroke="#000" stroke-width="1.8"/>
<text x="0" y="0" font-size="9.3" font-weight="bold" text-anchor="end" fill="#000" transform="translate(208.83,469.4) rotate(-45)">S35</text>
<line x1="218.56" y1="444.03" x2="218.56" y2="441.65" stroke="#333" stroke-width="0.8"/>
<line x1="217.36" y1="441.65" x2="219.76" y2="441.65" stroke="#333" stroke-width="0.8"/>
<line x1="222.96" y1="424.45" x2="222.96" y2="415.37" stroke="#333" stroke-width="0.8"/>
<line x1="221.76" y1="415.37" x2="224.16" y2="415.37" stroke="#333" stroke-width="0.8"/>
<rect x="216.36" y="444.03" width="4.4" height="11.47" fill="#000"/>
<rect x="221.16" y="424.45" width="3.6" height="31.05" fill="#fff" stroke="#000" stroke-width="0.8"/>
<line x1="220.76" y1="455.5" x2="220.76" y2="460.5" stroke="#000" stroke-width="1.8"/>
<text x="0" y="0" font-size="9.3" font-weight="bold" text-anchor="end" fill="#000" transform="translate(223.06,469.4) rotate(-45)">S36</text>
<line x1="232.79" y1="379.54" x2="232.79" y2="374.76" stroke="#333" stroke-width="0.8"/>
<line x1="231.59" y1="374.76" x2="233.99" y2="374.76" stroke="#333" stroke-width="0.8"/>
<line x1="237.19" y1="362.82" x2="237.19" y2="353.74" stroke="#333" stroke-width="0.8"/>
<line x1="235.99" y1="353.74" x2="238.39" y2="353.74" stroke="#333" stroke-width="0.8"/>
<rect x="230.59" y="379.54" width="4.4" height="75.96" fill="#000"/>
<rect x="235.39" y="362.82" width="3.6" height="92.68" fill="#fff" stroke="#000" stroke-width="0.8"/>
<line x1="234.99" y1="455.5" x2="234.99" y2="460.5" stroke="#000" stroke-width="1.8"/>
<text x="0" y="0" font-size="9.3" font-weight="bold" text-anchor="end" fill="#000" transform="translate(237.29,469.4) rotate(-45)">S37</text>
<rect x="53" y="324" width="20" height="8" fill="#000"/>
<text x="75.3" y="331.2" font-size="10.2" font-weight="normal" text-anchor="start" fill="#000" >IgG</text>
<rect x="53.4" y="340.2" width="19.4" height="7" fill="#fff" stroke="#000" stroke-width="0.8"/>
<text x="75.3" y="347.4" font-size="10.2" font-weight="normal" text-anchor="start" fill="#000" >IgM</text>
<text x="95.4" y="496.5" font-size="13.9" font-weight="normal" text-anchor="start" fill="#000" >Human Serum</text>
<text x="262.8" y="313.8" font-size="17.5" font-weight="bold" text-anchor="start" fill="#000" >C</text>
<line x1="307" y1="327" x2="307" y2="456.5" stroke="#000" stroke-width="1.7"/>
<line x1="302.7" y1="455.5" x2="307" y2="455.5" stroke="#000" stroke-width="1.3"/>
<text x="301.9" y="458.6" font-size="8.9" font-weight="bold" text-anchor="end" fill="#000" >0</text>
<line x1="304.8" y1="446.31" x2="307" y2="446.31" stroke="#000" stroke-width="1.3"/>
<line x1="302.7" y1="437.12" x2="307" y2="437.12" stroke="#000" stroke-width="1.3"/>
<text x="301.9" y="440.22" font-size="8.9" font-weight="bold" text-anchor="end" fill="#000" >200</text>
<line x1="304.8" y1="427.93" x2="307" y2="427.93" stroke="#000" stroke-width="1.3"/>
<line x1="302.7" y1="418.74" x2="307" y2="418.74" stroke="#000" stroke-width="1.3"/>
<text x="301.9" y="421.84" font-size="8.9" font-weight="bold" text-anchor="end" fill="#000" >400</text>
<line x1="304.8" y1="409.55" x2="307" y2="409.55" stroke="#000" stroke-width="1.3"/>
<line x1="302.7" y1="400.36" x2="307" y2="400.36" stroke="#000" stroke-width="1.3"/>
<text x="301.9" y="403.46" font-size="8.9" font-weight="bold" text-anchor="end" fill="#000" >600</text>
<line x1="304.8" y1="391.17" x2="307" y2="391.17" stroke="#000" stroke-width="1.3"/>
<line x1="302.7" y1="381.98" x2="307" y2="381.98" stroke="#000" stroke-width="1.3"/>
<text x="301.9" y="385.08" font-size="8.9" font-weight="bold" text-anchor="end" fill="#000" >800</text>
<line x1="304.8" y1="372.79" x2="307" y2="372.79" stroke="#000" stroke-width="1.3"/>
<line x1="302.7" y1="363.6" x2="307" y2="363.6" stroke="#000" stroke-width="1.3"/>
<text x="301.9" y="366.7" font-size="8.9" font-weight="bold" text-anchor="end" fill="#000" >1000</text>
<line x1="304.8" y1="354.41" x2="307" y2="354.41" stroke="#000" stroke-width="1.3"/>
<line x1="302.7" y1="345.22" x2="307" y2="345.22" stroke="#000" stroke-width="1.3"/>
<text x="301.9" y="348.32" font-size="8.9" font-weight="bold" text-anchor="end" fill="#000" >1200</text>
<line x1="304.8" y1="336.03" x2="307" y2="336.03" stroke="#000" stroke-width="1.3"/>
<line x1="302.7" y1="326.84" x2="307" y2="326.84" stroke="#000" stroke-width="1.3"/>
<text x="301.9" y="329.94" font-size="8.9" font-weight="bold" text-anchor="end" fill="#000" >1400</text>
<line x1="306.7" y1="455.5" x2="499.3" y2="455.5" stroke="#000" stroke-width="1.9"/>
<line x1="307.7" y1="455.5" x2="307.7" y2="459.8" stroke="#000" stroke-width="1.3"/>
<text x="307.7" y="470" font-size="8.4" font-weight="bold" text-anchor="middle" fill="#000" >0.00</text>
<line x1="329.45" y1="455.5" x2="329.45" y2="457.7" stroke="#000" stroke-width="1.3"/>
<line x1="351.2" y1="455.5" x2="351.2" y2="459.8" stroke="#000" stroke-width="1.3"/>
<text x="351.2" y="470" font-size="8.4" font-weight="bold" text-anchor="middle" fill="#000" >0.25</text>
<line x1="372.95" y1="455.5" x2="372.95" y2="457.7" stroke="#000" stroke-width="1.3"/>
<line x1="394.7" y1="455.5" x2="394.7" y2="459.8" stroke="#000" stroke-width="1.3"/>
<text x="394.7" y="470" font-size="8.4" font-weight="bold" text-anchor="middle" fill="#000" >0.50</text>
<line x1="416.45" y1="455.5" x2="416.45" y2="457.7" stroke="#000" stroke-width="1.3"/>
<line x1="438.2" y1="455.5" x2="438.2" y2="459.8" stroke="#000" stroke-width="1.3"/>
<text x="438.2" y="470" font-size="8.4" font-weight="bold" text-anchor="middle" fill="#000" >0.75</text>
<line x1="459.95" y1="455.5" x2="459.95" y2="457.7" stroke="#000" stroke-width="1.3"/>
<line x1="481.7" y1="455.5" x2="481.7" y2="459.8" stroke="#000" stroke-width="1.3"/>
<text x="481.7" y="470" font-size="8.4" font-weight="bold" text-anchor="middle" fill="#000" >1.00</text>
<line x1="499" y1="455.5" x2="499" y2="457.7" stroke="#000" stroke-width="1.3"/>
<text x="403" y="483" font-size="10.3" font-weight="bold" text-anchor="middle">[Neu<tspan font-style="italic">X</tspan>2Me] (mM)</text>
<text x="0" y="0" font-size="8.15" font-weight="bold" text-anchor="middle" fill="#000" transform="translate(271.4,389.8) rotate(-90)">MFI (anti-Neu5Gc IgG Deposition)</text>
<polyline points="309.44,340.62 316.4,361.76 325.1,408.63 351.2,429.31 394.7,438.04 438.2,443.55 481.7,447.23" fill="none" stroke="#000" stroke-width="1.7"/>
<polyline points="325.1,347.06 351.2,339.71 394.7,355.79 438.2,369.57 481.7,368.65" fill="none" stroke="#000" stroke-width="1.7"/>
<rect x="305.94" y="337.12" width="7" height="7" fill="#000"/>
<rect x="312.9" y="358.26" width="7" height="7" fill="#000"/>
<rect x="321.6" y="405.13" width="7" height="7" fill="#000"/>
<rect x="347.7" y="425.81" width="7" height="7" fill="#000"/>
<rect x="391.2" y="434.54" width="7" height="7" fill="#000"/>
<rect x="434.7" y="440.05" width="7" height="7" fill="#000"/>
<rect x="478.2" y="443.73" width="7" height="7" fill="#000"/>
<circle cx="325.1" cy="347.06" r="3.7" fill="#000"/>
<circle cx="351.2" cy="339.71" r="3.7" fill="#000"/>
<circle cx="394.7" cy="355.79" r="3.7" fill="#000"/>
<circle cx="438.2" cy="369.57" r="3.7" fill="#000"/>
<circle cx="481.7" cy="368.65" r="3.7" fill="#000"/>
<line x1="436.3" y1="324.4" x2="452.7" y2="324.4" stroke="#000" stroke-width="1.7"/>
<rect x="441.1" y="320.9" width="7" height="7" fill="#000"/>
<text x="458.4" y="328.3" font-size="10.6" font-weight="normal" text-anchor="start" fill="#000" >Neu5Gc2Me</text>
<line x1="436.3" y1="339.8" x2="452.7" y2="339.8" stroke="#000" stroke-width="1.7"/>
<circle cx="444.5" cy="339.8" r="3.7" fill="#000"/>
<text x="458.4" y="343.7" font-size="10.6" font-weight="normal" text-anchor="start" fill="#000" >Neu5Ac2Me</text>
<text x="0.5" y="529.3" font-size="17.5" font-weight="bold" text-anchor="start" fill="#000" >D</text>
<rect x="102.5" y="536.9" width="8" height="8" fill="#9a9a9a" stroke="#555" stroke-width="0.8"/>
<text x="112.9" y="544.1" font-size="8" font-weight="bold" text-anchor="start" fill="#000" >Control</text>
<rect x="147.3" y="536.9" width="8" height="8" fill="#fff" stroke="#555" stroke-width="0.8"/>
<text x="158.7" y="544.1" font-size="8" font-weight="bold" text-anchor="start" fill="#000" >Neu5Gc-loaded</text>
<rect x="223.9" y="536.9" width="8" height="8" fill="#fff" stroke="#222" stroke-width="0.9" stroke-dasharray="2,1.4"/>
<text x="235.2" y="544.1" font-size="8" font-weight="bold" text-anchor="start" fill="#000" >Neu5Ac-loaded</text>
<text x="88.4" y="566.3" font-size="11.1" font-weight="normal" text-anchor="middle" fill="#000" >Low Anti-Neu5Gc</text>
<text x="208.6" y="566.3" font-size="11.1" font-weight="normal" text-anchor="middle" fill="#000" >High Anti-Neu5Gc</text>
<rect x="37.5" y="572.8" width="102.6" height="114.8" fill="#fff" stroke="#b4b4b4" stroke-width="1.7"/>
<path d="M37.5,686.3 C37.83,686.18 38.77,685.85 39.5,685.6 C40.23,685.35 41.15,685.27 41.9,684.8 C42.65,684.33 43.35,683.6 44,682.8 C44.65,682 45.17,681.33 45.8,680 C46.43,678.67 47.17,676.72 47.8,674.8 C48.43,672.88 49.13,671.17 49.6,668.5 C50.07,665.83 50.28,662.02 50.6,658.8 C50.92,655.58 51.25,652.5 51.5,649.2 C51.75,645.9 51.83,642.4 52.1,639 C52.37,635.6 52.73,632.5 53.1,628.8 C53.47,625.1 53.92,620.5 54.3,616.8 C54.68,613.1 55.05,610.27 55.4,606.6 C55.75,602.93 56.05,598.65 56.4,594.8 C56.75,590.95 57.23,586.05 57.5,583.5 C57.77,580.95 57.77,579.62 58,579.5 C58.23,579.38 58.57,581.58 58.9,582.8 C59.23,584.02 59.62,585.72 60,586.8 C60.38,587.88 60.9,587.47 61.2,589.3 C61.5,591.13 61.58,594.92 61.8,597.8 C62.02,600.68 62.22,602.43 62.5,606.6 C62.78,610.77 63.25,618.9 63.5,622.8 C63.75,626.7 63.82,627.3 64,630 C64.18,632.7 64.27,635.8 64.6,639 C64.93,642.2 65.6,646.07 66,649.2 C66.4,652.33 66.68,655.23 67,657.8 C67.32,660.37 67.43,662.67 67.9,664.6 C68.37,666.53 69.2,668.37 69.8,669.4 C70.4,670.43 70.85,670.48 71.5,670.8 C72.15,671.12 73.03,671.38 73.7,671.3 C74.37,671.22 74.87,670.45 75.5,670.3 C76.13,670.15 76.83,670.07 77.5,670.4 C78.17,670.73 78.87,671.82 79.5,672.3 C80.13,672.78 80.35,672.82 81.3,673.3 C82.25,673.78 83.92,674.72 85.2,675.2 C86.48,675.68 88.12,676.18 89,676.2 C89.88,676.22 90.02,675.63 90.5,675.3 C90.98,674.97 91.18,674.22 91.9,674.2 C92.62,674.18 94.07,674.77 94.8,675.2 C95.53,675.63 95.82,676.17 96.3,676.8 C96.78,677.43 96.83,678.15 97.7,679 C98.57,679.85 99.9,680.93 101.5,681.9 C103.1,682.87 104.73,684.15 107.3,684.8 C109.87,685.45 113.2,685.58 116.9,685.8 C120.6,686.02 125.57,686.1 129.5,686.1 C133.43,686.1 138.67,685.85 140.5,685.8 L140.1,687.6 L37.5,687.6 Z" fill="#bababa" stroke="none"/>
<path d="M37.5,686.3 C37.83,686.18 38.77,685.85 39.5,685.6 C40.23,685.35 41.15,685.27 41.9,684.8 C42.65,684.33 43.35,683.6 44,682.8 C44.65,682 45.17,681.33 45.8,680 C46.43,678.67 47.17,676.72 47.8,674.8 C48.43,672.88 49.13,671.17 49.6,668.5 C50.07,665.83 50.28,662.02 50.6,658.8 C50.92,655.58 51.25,652.5 51.5,649.2 C51.75,645.9 51.83,642.4 52.1,639 C52.37,635.6 52.73,632.5 53.1,628.8 C53.47,625.1 53.92,620.5 54.3,616.8 C54.68,613.1 55.05,610.27 55.4,606.6 C55.75,602.93 56.05,598.65 56.4,594.8 C56.75,590.95 57.23,586.05 57.5,583.5 C57.77,580.95 57.77,579.62 58,579.5 C58.23,579.38 58.57,581.58 58.9,582.8 C59.23,584.02 59.62,585.72 60,586.8 C60.38,587.88 60.9,587.47 61.2,589.3 C61.5,591.13 61.58,594.92 61.8,597.8 C62.02,600.68 62.22,602.43 62.5,606.6 C62.78,610.77 63.25,618.9 63.5,622.8 C63.75,626.7 63.82,627.3 64,630 C64.18,632.7 64.27,635.8 64.6,639 C64.93,642.2 65.6,646.07 66,649.2 C66.4,652.33 66.68,655.23 67,657.8 C67.32,660.37 67.43,662.67 67.9,664.6 C68.37,666.53 69.2,668.37 69.8,669.4 C70.4,670.43 70.85,670.48 71.5,670.8 C72.15,671.12 73.03,671.38 73.7,671.3 C74.37,671.22 74.87,670.45 75.5,670.3 C76.13,670.15 76.83,670.07 77.5,670.4 C78.17,670.73 78.87,671.82 79.5,672.3 C80.13,672.78 80.35,672.82 81.3,673.3 C82.25,673.78 83.92,674.72 85.2,675.2 C86.48,675.68 88.12,676.18 89,676.2 C89.88,676.22 90.02,675.63 90.5,675.3 C90.98,674.97 91.18,674.22 91.9,674.2 C92.62,674.18 94.07,674.77 94.8,675.2 C95.53,675.63 95.82,676.17 96.3,676.8 C96.78,677.43 96.83,678.15 97.7,679 C98.57,679.85 99.9,680.93 101.5,681.9 C103.1,682.87 104.73,684.15 107.3,684.8 C109.87,685.45 113.2,685.58 116.9,685.8 C120.6,686.02 125.57,686.1 129.5,686.1 C133.43,686.1 138.67,685.85 140.5,685.8" fill="none" stroke="#262626" stroke-width="0.65"/>
<path d="M42.5,686.3 C43.37,686.05 46.03,685.3 47.7,684.8 C49.37,684.3 50.9,683.93 52.5,683.3 C54.1,682.67 55.97,682.08 57.3,681 C58.63,679.92 59.53,678.42 60.5,676.8 C61.47,675.18 62.43,673.3 63.1,671.3 C63.77,669.3 64.02,667.2 64.5,664.8 C64.98,662.4 65.5,659.9 66,656.9 C66.5,653.9 67.03,650 67.5,646.8 C67.97,643.6 68.42,640.5 68.8,637.7 C69.18,634.9 69.47,632.48 69.8,630 C70.13,627.52 70.47,625 70.8,622.8 C71.13,620.6 71.47,618.8 71.8,616.8 C72.13,614.8 72.47,612.5 72.8,610.8 C73.13,609.1 73.43,608.93 73.8,606.6 C74.17,604.27 74.6,600.07 75,596.8 C75.4,593.53 75.7,589.42 76.2,587 C76.7,584.58 77.43,583.45 78,582.3 C78.57,581.15 79.22,580.18 79.6,580.1 C79.98,580.02 80.07,580.85 80.3,581.8 C80.53,582.75 80.77,583.63 81,585.8 C81.23,587.97 81.45,591.33 81.7,594.8 C81.95,598.27 82.23,602.77 82.5,606.6 C82.77,610.43 83.02,613.9 83.3,617.8 C83.58,621.7 83.95,626.47 84.2,630 C84.45,633.53 84.47,635.8 84.8,639 C85.13,642.2 85.8,645.9 86.2,649.2 C86.6,652.5 86.88,655.58 87.2,658.8 C87.52,662.02 87.72,666.08 88.1,668.5 C88.48,670.92 89.02,672.02 89.5,673.3 C89.98,674.58 90.33,675.62 91,676.2 C91.67,676.78 92.67,676.45 93.5,676.8 C94.33,677.15 95.17,677.72 96,678.3 C96.83,678.88 97.58,679.63 98.5,680.3 C99.42,680.97 100.17,681.55 101.5,682.3 C102.83,683.05 104.17,684.22 106.5,684.8 C108.83,685.38 109.83,685.58 115.5,685.8 C121.17,686.02 136.33,686.05 140.5,686.1" fill="none" stroke="#1e1e1e" stroke-width="0.7" stroke-dasharray="2.2,1.6"/>
<path d="M37.5,686.3 C38.33,686.3 40.48,686.38 42.5,686.3 C44.52,686.22 47.6,686.08 49.6,685.8 C51.6,685.52 52.9,685.08 54.5,684.6 C56.1,684.12 57.77,683.98 59.2,682.9 C60.63,681.82 62.22,679.78 63.1,678.1 C63.98,676.42 64.02,674.73 64.5,672.8 C64.98,670.87 65.5,668.83 66,666.5 C66.5,664.17 67.03,661.35 67.5,658.8 C67.97,656.25 68.33,653.78 68.8,651.2 C69.27,648.62 69.82,645.7 70.3,643.3 C70.78,640.9 71.3,639.02 71.7,636.8 C72.1,634.58 72.32,632.5 72.7,630 C73.08,627.5 73.6,624.42 74,621.8 C74.4,619.18 74.73,616.83 75.1,614.3 C75.47,611.77 75.87,609.18 76.2,606.6 C76.53,604.02 76.8,601.18 77.1,598.8 C77.4,596.42 77.72,594.22 78,592.3 C78.28,590.38 78.53,588.77 78.8,587.3 C79.07,585.83 79.27,584.8 79.6,583.5 C79.93,582.2 80.5,579.45 80.8,579.5 C81.1,579.55 81.22,582.17 81.4,583.8 C81.58,585.43 81.72,586.97 81.9,589.3 C82.08,591.63 82.3,594.92 82.5,597.8 C82.7,600.68 82.88,603.43 83.1,606.6 C83.32,609.77 83.57,613.77 83.8,616.8 C84.03,619.83 84.27,622.6 84.5,624.8 C84.73,627 84.95,627.63 85.2,630 C85.45,632.37 85.68,635.8 86,639 C86.32,642.2 86.77,645.9 87.1,649.2 C87.43,652.5 87.68,655.58 88,658.8 C88.32,662.02 88.67,666.25 89,668.5 C89.33,670.75 89.67,671.35 90,672.3 C90.33,673.25 90.5,673.78 91,674.2 C91.5,674.62 92.37,674.63 93,674.8 C93.63,674.97 94.25,674.87 94.8,675.2 C95.35,675.53 95.82,676.17 96.3,676.8 C96.78,677.43 96.83,678.15 97.7,679 C98.57,679.85 99.9,680.93 101.5,681.9 C103.1,682.87 104.73,684.15 107.3,684.8 C109.87,685.45 111.37,685.58 116.9,685.8 C122.43,686.02 136.57,686.05 140.5,686.1" fill="none" stroke="#1e1e1e" stroke-width="0.65"/>
<line x1="37.5" y1="572.8" x2="37.5" y2="687.6" stroke="#8a8a8a" stroke-width="1"/>
<line x1="37.5" y1="687.6" x2="140.1" y2="687.6" stroke="#8a8a8a" stroke-width="1"/>
<line x1="35" y1="687.6" x2="37.5" y2="687.6" stroke="#4a4a4a" stroke-width="0.7"/>
<line x1="36.3" y1="681.86" x2="37.5" y2="681.86" stroke="#4a4a4a" stroke-width="0.7"/>
<line x1="36.3" y1="676.12" x2="37.5" y2="676.12" stroke="#4a4a4a" stroke-width="0.7"/>
<line x1="36.3" y1="670.38" x2="37.5" y2="670.38" stroke="#4a4a4a" stroke-width="0.7"/>
<line x1="35" y1="664.64" x2="37.5" y2="664.64" stroke="#4a4a4a" stroke-width="0.7"/>
<line x1="36.3" y1="658.9" x2="37.5" y2="658.9" stroke="#4a4a4a" stroke-width="0.7"/>
<line x1="36.3" y1="653.16" x2="37.5" y2="653.16" stroke="#4a4a4a" stroke-width="0.7"/>
<line x1="36.3" y1="647.42" x2="37.5" y2="647.42" stroke="#4a4a4a" stroke-width="0.7"/>
<line x1="35" y1="641.68" x2="37.5" y2="641.68" stroke="#4a4a4a" stroke-width="0.7"/>
<line x1="36.3" y1="635.94" x2="37.5" y2="635.94" stroke="#4a4a4a" stroke-width="0.7"/>
<line x1="36.3" y1="630.2" x2="37.5" y2="630.2" stroke="#4a4a4a" stroke-width="0.7"/>
<line x1="36.3" y1="624.46" x2="37.5" y2="624.46" stroke="#4a4a4a" stroke-width="0.7"/>
<line x1="35" y1="618.72" x2="37.5" y2="618.72" stroke="#4a4a4a" stroke-width="0.7"/>
<line x1="36.3" y1="612.98" x2="37.5" y2="612.98" stroke="#4a4a4a" stroke-width="0.7"/>
<line x1="36.3" y1="607.24" x2="37.5" y2="607.24" stroke="#4a4a4a" stroke-width="0.7"/>
<line x1="36.3" y1="601.5" x2="37.5" y2="601.5" stroke="#4a4a4a" stroke-width="0.7"/>
<line x1="35" y1="595.76" x2="37.5" y2="595.76" stroke="#4a4a4a" stroke-width="0.7"/>
<line x1="36.3" y1="590.02" x2="37.5" y2="590.02" stroke="#4a4a4a" stroke-width="0.7"/>
<line x1="36.3" y1="584.28" x2="37.5" y2="584.28" stroke="#4a4a4a" stroke-width="0.7"/>
<line x1="36.3" y1="578.54" x2="37.5" y2="578.54" stroke="#4a4a4a" stroke-width="0.7"/>
<line x1="35" y1="572.8" x2="37.5" y2="572.8" stroke="#4a4a4a" stroke-width="0.7"/>
<line x1="37.5" y1="687.6" x2="37.5" y2="690.1" stroke="#4a4a4a" stroke-width="0.7"/>
<line x1="45.22" y1="687.6" x2="45.22" y2="688.9" stroke="#4a4a4a" stroke-width="0.7"/>
<line x1="49.74" y1="687.6" x2="49.74" y2="688.9" stroke="#4a4a4a" stroke-width="0.7"/>
<line x1="52.94" y1="687.6" x2="52.94" y2="688.9" stroke="#4a4a4a" stroke-width="0.7"/>
<line x1="55.43" y1="687.6" x2="55.43" y2="688.9" stroke="#4a4a4a" stroke-width="0.7"/>
<line x1="57.46" y1="687.6" x2="57.46" y2="688.9" stroke="#4a4a4a" stroke-width="0.7"/>
<line x1="59.18" y1="687.6" x2="59.18" y2="688.9" stroke="#4a4a4a" stroke-width="0.7"/>
<line x1="60.66" y1="687.6" x2="60.66" y2="688.9" stroke="#4a4a4a" stroke-width="0.7"/>
<line x1="61.98" y1="687.6" x2="61.98" y2="688.9" stroke="#4a4a4a" stroke-width="0.7"/>
<line x1="63.15" y1="687.6" x2="63.15" y2="690.1" stroke="#4a4a4a" stroke-width="0.7"/>
<line x1="70.87" y1="687.6" x2="70.87" y2="688.9" stroke="#4a4a4a" stroke-width="0.7"/>
<line x1="75.39" y1="687.6" x2="75.39" y2="688.9" stroke="#4a4a4a" stroke-width="0.7"/>
<line x1="78.59" y1="687.6" x2="78.59" y2="688.9" stroke="#4a4a4a" stroke-width="0.7"/>
<line x1="81.08" y1="687.6" x2="81.08" y2="688.9" stroke="#4a4a4a" stroke-width="0.7"/>
<line x1="83.11" y1="687.6" x2="83.11" y2="688.9" stroke="#4a4a4a" stroke-width="0.7"/>
<line x1="84.83" y1="687.6" x2="84.83" y2="688.9" stroke="#4a4a4a" stroke-width="0.7"/>
<line x1="86.31" y1="687.6" x2="86.31" y2="688.9" stroke="#4a4a4a" stroke-width="0.7"/>
<line x1="87.63" y1="687.6" x2="87.63" y2="688.9" stroke="#4a4a4a" stroke-width="0.7"/>
<line x1="88.8" y1="687.6" x2="88.8" y2="690.1" stroke="#4a4a4a" stroke-width="0.7"/>
<line x1="96.52" y1="687.6" x2="96.52" y2="688.9" stroke="#4a4a4a" stroke-width="0.7"/>
<line x1="101.04" y1="687.6" x2="101.04" y2="688.9" stroke="#4a4a4a" stroke-width="0.7"/>
<line x1="104.24" y1="687.6" x2="104.24" y2="688.9" stroke="#4a4a4a" stroke-width="0.7"/>
<line x1="106.73" y1="687.6" x2="106.73" y2="688.9" stroke="#4a4a4a" stroke-width="0.7"/>
<line x1="108.76" y1="687.6" x2="108.76" y2="688.9" stroke="#4a4a4a" stroke-width="0.7"/>
<line x1="110.48" y1="687.6" x2="110.48" y2="688.9" stroke="#4a4a4a" stroke-width="0.7"/>
<line x1="111.96" y1="687.6" x2="111.96" y2="688.9" stroke="#4a4a4a" stroke-width="0.7"/>
<line x1="113.28" y1="687.6" x2="113.28" y2="688.9" stroke="#4a4a4a" stroke-width="0.7"/>
<line x1="114.45" y1="687.6" x2="114.45" y2="690.1" stroke="#4a4a4a" stroke-width="0.7"/>
<line x1="122.17" y1="687.6" x2="122.17" y2="688.9" stroke="#4a4a4a" stroke-width="0.7"/>
<line x1="126.69" y1="687.6" x2="126.69" y2="688.9" stroke="#4a4a4a" stroke-width="0.7"/>
<line x1="129.89" y1="687.6" x2="129.89" y2="688.9" stroke="#4a4a4a" stroke-width="0.7"/>
<line x1="132.38" y1="687.6" x2="132.38" y2="688.9" stroke="#4a4a4a" stroke-width="0.7"/>
<line x1="134.41" y1="687.6" x2="134.41" y2="688.9" stroke="#4a4a4a" stroke-width="0.7"/>
<line x1="136.13" y1="687.6" x2="136.13" y2="688.9" stroke="#4a4a4a" stroke-width="0.7"/>
<line x1="137.61" y1="687.6" x2="137.61" y2="688.9" stroke="#4a4a4a" stroke-width="0.7"/>
<line x1="138.93" y1="687.6" x2="138.93" y2="688.9" stroke="#4a4a4a" stroke-width="0.7"/>
<line x1="140.1" y1="687.6" x2="140.1" y2="690.1" stroke="#4a4a4a" stroke-width="0.7"/>
<text x="33.3" y="689.94" font-size="6.5" font-weight="normal" text-anchor="end" fill="#333" >0</text>
<text x="33.3" y="666.98" font-size="6.5" font-weight="normal" text-anchor="end" fill="#333" >20</text>
<text x="33.3" y="644.02" font-size="6.5" font-weight="normal" text-anchor="end" fill="#333" >40</text>
<text x="33.3" y="621.06" font-size="6.5" font-weight="normal" text-anchor="end" fill="#333" >60</text>
<text x="33.3" y="598.1" font-size="6.5" font-weight="normal" text-anchor="end" fill="#333" >80</text>
<text x="33.3" y="575.14" font-size="6.5" font-weight="normal" text-anchor="end" fill="#333" >100</text>
<text x="37.5" y="698.6" font-size="6.4" text-anchor="middle" fill="#444">10<tspan font-size="4.48" dy="-2.6">0</tspan></text>
<text x="63.15" y="698.6" font-size="6.4" text-anchor="middle" fill="#444">10<tspan font-size="4.48" dy="-2.6">1</tspan></text>
<text x="88.8" y="698.6" font-size="6.4" text-anchor="middle" fill="#444">10<tspan font-size="4.48" dy="-2.6">2</tspan></text>
<text x="114.45" y="698.6" font-size="6.4" text-anchor="middle" fill="#444">10<tspan font-size="4.48" dy="-2.6">3</tspan></text>
<text x="140.1" y="698.6" font-size="6.4" text-anchor="middle" fill="#444">10<tspan font-size="4.48" dy="-2.6">4</tspan></text>
<rect x="157" y="572.8" width="102.5" height="114.8" fill="#fff" stroke="#b4b4b4" stroke-width="1.7"/>
<path d="M157,686.3 C157.67,686.13 159.67,685.55 161,685.3 C162.33,685.05 163.72,685.18 165,684.8 C166.28,684.42 167.7,683.67 168.7,683 C169.7,682.33 170.25,681.72 171,680.8 C171.75,679.88 172.53,679 173.2,677.5 C173.87,676 174.53,673.62 175,671.8 C175.47,669.98 175.73,668.93 176,666.6 C176.27,664.27 176.43,660.85 176.6,657.8 C176.77,654.75 176.85,651.38 177,648.3 C177.15,645.22 177.23,642.38 177.5,639.3 C177.77,636.22 178.23,632.3 178.6,629.8 C178.97,627.3 179.27,625.87 179.7,624.3 C180.13,622.73 180.78,622.32 181.2,620.4 C181.62,618.48 181.9,615.1 182.2,612.8 C182.5,610.5 182.78,609.1 183,606.6 C183.22,604.1 183.37,600.68 183.5,597.8 C183.63,594.92 183.65,592.3 183.8,589.3 C183.95,586.3 184.2,580.05 184.4,579.8 C184.6,579.55 184.8,584.77 185,587.8 C185.2,590.83 185.37,594.28 185.6,598 C185.83,601.72 186.12,607.55 186.4,610.1 C186.68,612.65 187,612.43 187.3,613.3 C187.6,614.17 187.98,613.72 188.2,615.3 C188.42,616.88 188.47,620.5 188.6,622.8 C188.73,625.1 188.82,627.43 189,629.1 C189.18,630.77 189.4,631.07 189.7,632.8 C190,634.53 190.35,638.13 190.8,639.5 C191.25,640.87 191.95,639.95 192.4,641 C192.85,642.05 193.18,644.28 193.5,645.8 C193.82,647.32 193.93,649.6 194.3,650.1 C194.67,650.6 195.25,649.1 195.7,648.8 C196.15,648.5 196.62,647.63 197,648.3 C197.38,648.97 197.7,651.28 198,652.8 C198.3,654.32 198.38,656.37 198.8,657.4 C199.22,658.43 199.88,658.53 200.5,659 C201.12,659.47 201.87,659.55 202.5,660.2 C203.13,660.85 203.55,661.38 204.3,662.9 C205.05,664.42 206.13,667.82 207,669.3 C207.87,670.78 208.58,671.03 209.5,671.8 C210.42,672.57 211.58,673.15 212.5,673.9 C213.42,674.65 214.08,675.55 215,676.3 C215.92,677.05 216.58,677.43 218,678.4 C219.42,679.37 222,681.23 223.5,682.1 C225,682.97 225.78,683.15 227,683.6 C228.22,684.05 228.3,684.4 230.8,684.8 C233.3,685.2 237.13,685.75 242,686 C246.87,686.25 257,686.25 260,686.3 L259.5,687.6 L157,687.6 Z" fill="#bababa" stroke="none"/>
<path d="M157,686.3 C157.67,686.13 159.67,685.55 161,685.3 C162.33,685.05 163.72,685.18 165,684.8 C166.28,684.42 167.7,683.67 168.7,683 C169.7,682.33 170.25,681.72 171,680.8 C171.75,679.88 172.53,679 173.2,677.5 C173.87,676 174.53,673.62 175,671.8 C175.47,669.98 175.73,668.93 176,666.6 C176.27,664.27 176.43,660.85 176.6,657.8 C176.77,654.75 176.85,651.38 177,648.3 C177.15,645.22 177.23,642.38 177.5,639.3 C177.77,636.22 178.23,632.3 178.6,629.8 C178.97,627.3 179.27,625.87 179.7,624.3 C180.13,622.73 180.78,622.32 181.2,620.4 C181.62,618.48 181.9,615.1 182.2,612.8 C182.5,610.5 182.78,609.1 183,606.6 C183.22,604.1 183.37,600.68 183.5,597.8 C183.63,594.92 183.65,592.3 183.8,589.3 C183.95,586.3 184.2,580.05 184.4,579.8 C184.6,579.55 184.8,584.77 185,587.8 C185.2,590.83 185.37,594.28 185.6,598 C185.83,601.72 186.12,607.55 186.4,610.1 C186.68,612.65 187,612.43 187.3,613.3 C187.6,614.17 187.98,613.72 188.2,615.3 C188.42,616.88 188.47,620.5 188.6,622.8 C188.73,625.1 188.82,627.43 189,629.1 C189.18,630.77 189.4,631.07 189.7,632.8 C190,634.53 190.35,638.13 190.8,639.5 C191.25,640.87 191.95,639.95 192.4,641 C192.85,642.05 193.18,644.28 193.5,645.8 C193.82,647.32 193.93,649.6 194.3,650.1 C194.67,650.6 195.25,649.1 195.7,648.8 C196.15,648.5 196.62,647.63 197,648.3 C197.38,648.97 197.7,651.28 198,652.8 C198.3,654.32 198.38,656.37 198.8,657.4 C199.22,658.43 199.88,658.53 200.5,659 C201.12,659.47 201.87,659.55 202.5,660.2 C203.13,660.85 203.55,661.38 204.3,662.9 C205.05,664.42 206.13,667.82 207,669.3 C207.87,670.78 208.58,671.03 209.5,671.8 C210.42,672.57 211.58,673.15 212.5,673.9 C213.42,674.65 214.08,675.55 215,676.3 C215.92,677.05 216.58,677.43 218,678.4 C219.42,679.37 222,681.23 223.5,682.1 C225,682.97 225.78,683.15 227,683.6 C228.22,684.05 228.3,684.4 230.8,684.8 C233.3,685.2 237.13,685.75 242,686 C246.87,686.25 257,686.25 260,686.3" fill="none" stroke="#262626" stroke-width="0.65"/>
<path d="M167,686.3 C167.67,686.25 169.82,686.25 171,686 C172.18,685.75 172.93,685.33 174.1,684.8 C175.27,684.27 176.47,683.7 178,682.8 C179.53,681.9 181.97,680.98 183.3,679.4 C184.63,677.82 185.08,675.43 186,673.3 C186.92,671.17 187.97,668.77 188.8,666.6 C189.63,664.43 190.25,662.43 191,660.3 C191.75,658.17 192.67,655.72 193.3,653.8 C193.93,651.88 194.33,650.33 194.8,648.8 C195.27,647.27 195.77,646.1 196.1,644.6 C196.43,643.1 196.57,641.77 196.8,639.8 C197.03,637.83 197.27,635.47 197.5,632.8 C197.73,630.13 197.93,626.72 198.2,623.8 C198.47,620.88 198.78,618.3 199.1,615.3 C199.42,612.3 199.77,608.68 200.1,605.8 C200.43,602.92 200.72,601 201.1,598 C201.48,595 201.97,590.68 202.4,587.8 C202.83,584.92 203.18,581.12 203.7,580.7 C204.22,580.28 204.92,583.87 205.5,585.3 C206.08,586.73 206.62,587.22 207.2,589.3 C207.78,591.38 208.42,594.92 209,597.8 C209.58,600.68 210.27,603.27 210.7,606.6 C211.13,609.93 211.32,613.93 211.6,617.8 C211.88,621.67 212.12,626.3 212.4,629.8 C212.68,633.3 212.97,635.72 213.3,638.8 C213.63,641.88 214.07,645.47 214.4,648.3 C214.73,651.13 215,653.37 215.3,655.8 C215.6,658.23 215.9,660.73 216.2,662.9 C216.5,665.07 216.8,666.97 217.1,668.8 C217.4,670.63 217.55,672.13 218,673.9 C218.45,675.67 218.97,677.92 219.8,679.4 C220.63,680.88 221.77,681.9 223,682.8 C224.23,683.7 224.87,684.27 227.2,684.8 C229.53,685.33 231.53,685.75 237,686 C242.47,686.25 256.17,686.25 260,686.3" fill="none" stroke="#1e1e1e" stroke-width="0.7" stroke-dasharray="2.2,1.6"/>
<path d="M157,686.3 C159.5,686.27 167.62,686.18 172,686.1 C176.38,686.02 179.97,685.98 183.3,685.8 C186.63,685.62 188.95,685.32 192,685 C195.05,684.68 198.93,684.27 201.6,683.9 C204.27,683.53 205.87,683.25 208,682.8 C210.13,682.35 212.9,681.73 214.4,681.2 C215.9,680.67 216.1,680.22 217,679.6 C217.9,678.98 218.88,678.72 219.8,677.5 C220.72,676.28 221.58,674.12 222.5,672.3 C223.42,670.48 224.52,668.6 225.3,666.6 C226.08,664.6 226.58,662.43 227.2,660.3 C227.82,658.17 228.47,655.97 229,653.8 C229.53,651.63 229.95,649.43 230.4,647.3 C230.85,645.17 231.27,643.42 231.7,641 C232.13,638.58 232.62,635.5 233,632.8 C233.38,630.1 233.62,627.63 234,624.8 C234.38,621.97 234.87,618.83 235.3,615.8 C235.73,612.77 236.25,609.77 236.6,606.6 C236.95,603.43 237.15,599.93 237.4,596.8 C237.65,593.67 237.85,590.63 238.1,587.8 C238.35,584.97 238.63,579.97 238.9,579.8 C239.17,579.63 239.42,584.3 239.7,586.8 C239.98,589.3 240.25,591.5 240.6,594.8 C240.95,598.1 241.47,603.27 241.8,606.6 C242.13,609.93 242.32,611.92 242.6,614.8 C242.88,617.68 243.22,621.23 243.5,623.9 C243.78,626.57 244,628.2 244.3,630.8 C244.6,633.4 244.97,637 245.3,639.5 C245.63,642 245.97,643.73 246.3,645.8 C246.63,647.87 246.92,649.65 247.3,651.9 C247.68,654.15 248.15,656.85 248.6,659.3 C249.05,661.75 249.53,664.43 250,666.6 C250.47,668.77 250.93,670.48 251.4,672.3 C251.87,674.12 252.28,676.08 252.8,677.5 C253.32,678.92 253.9,679.88 254.5,680.8 C255.1,681.72 255.63,682.33 256.4,683 C257.17,683.67 258.5,684.45 259.1,684.8 C259.7,685.15 259.85,685.05 260,685.1" fill="none" stroke="#1e1e1e" stroke-width="0.65"/>
<line x1="157" y1="572.8" x2="157" y2="687.6" stroke="#8a8a8a" stroke-width="1"/>
<line x1="157" y1="687.6" x2="259.5" y2="687.6" stroke="#8a8a8a" stroke-width="1"/>
<line x1="154.5" y1="687.6" x2="157" y2="687.6" stroke="#4a4a4a" stroke-width="0.7"/>
<line x1="155.8" y1="681.86" x2="157" y2="681.86" stroke="#4a4a4a" stroke-width="0.7"/>
<line x1="155.8" y1="676.12" x2="157" y2="676.12" stroke="#4a4a4a" stroke-width="0.7"/>
<line x1="155.8" y1="670.38" x2="157" y2="670.38" stroke="#4a4a4a" stroke-width="0.7"/>
<line x1="154.5" y1="664.64" x2="157" y2="664.64" stroke="#4a4a4a" stroke-width="0.7"/>
<line x1="155.8" y1="658.9" x2="157" y2="658.9" stroke="#4a4a4a" stroke-width="0.7"/>
<line x1="155.8" y1="653.16" x2="157" y2="653.16" stroke="#4a4a4a" stroke-width="0.7"/>
<line x1="155.8" y1="647.42" x2="157" y2="647.42" stroke="#4a4a4a" stroke-width="0.7"/>
<line x1="154.5" y1="641.68" x2="157" y2="641.68" stroke="#4a4a4a" stroke-width="0.7"/>
<line x1="155.8" y1="635.94" x2="157" y2="635.94" stroke="#4a4a4a" stroke-width="0.7"/>
<line x1="155.8" y1="630.2" x2="157" y2="630.2" stroke="#4a4a4a" stroke-width="0.7"/>
<line x1="155.8" y1="624.46" x2="157" y2="624.46" stroke="#4a4a4a" stroke-width="0.7"/>
<line x1="154.5" y1="618.72" x2="157" y2="618.72" stroke="#4a4a4a" stroke-width="0.7"/>
<line x1="155.8" y1="612.98" x2="157" y2="612.98" stroke="#4a4a4a" stroke-width="0.7"/>
<line x1="155.8" y1="607.24" x2="157" y2="607.24" stroke="#4a4a4a" stroke-width="0.7"/>
<line x1="155.8" y1="601.5" x2="157" y2="601.5" stroke="#4a4a4a" stroke-width="0.7"/>
<line x1="154.5" y1="595.76" x2="157" y2="595.76" stroke="#4a4a4a" stroke-width="0.7"/>
<line x1="155.8" y1="590.02" x2="157" y2="590.02" stroke="#4a4a4a" stroke-width="0.7"/>
<line x1="155.8" y1="584.28" x2="157" y2="584.28" stroke="#4a4a4a" stroke-width="0.7"/>
<line x1="155.8" y1="578.54" x2="157" y2="578.54" stroke="#4a4a4a" stroke-width="0.7"/>
<line x1="154.5" y1="572.8" x2="157" y2="572.8" stroke="#4a4a4a" stroke-width="0.7"/>
<line x1="157" y1="687.6" x2="157" y2="690.1" stroke="#4a4a4a" stroke-width="0.7"/>
<line x1="164.71" y1="687.6" x2="164.71" y2="688.9" stroke="#4a4a4a" stroke-width="0.7"/>
<line x1="169.23" y1="687.6" x2="169.23" y2="688.9" stroke="#4a4a4a" stroke-width="0.7"/>
<line x1="172.43" y1="687.6" x2="172.43" y2="688.9" stroke="#4a4a4a" stroke-width="0.7"/>
<line x1="174.91" y1="687.6" x2="174.91" y2="688.9" stroke="#4a4a4a" stroke-width="0.7"/>
<line x1="176.94" y1="687.6" x2="176.94" y2="688.9" stroke="#4a4a4a" stroke-width="0.7"/>
<line x1="178.66" y1="687.6" x2="178.66" y2="688.9" stroke="#4a4a4a" stroke-width="0.7"/>
<line x1="180.14" y1="687.6" x2="180.14" y2="688.9" stroke="#4a4a4a" stroke-width="0.7"/>
<line x1="181.45" y1="687.6" x2="181.45" y2="688.9" stroke="#4a4a4a" stroke-width="0.7"/>
<line x1="182.62" y1="687.6" x2="182.62" y2="690.1" stroke="#4a4a4a" stroke-width="0.7"/>
<line x1="190.34" y1="687.6" x2="190.34" y2="688.9" stroke="#4a4a4a" stroke-width="0.7"/>
<line x1="194.85" y1="687.6" x2="194.85" y2="688.9" stroke="#4a4a4a" stroke-width="0.7"/>
<line x1="198.05" y1="687.6" x2="198.05" y2="688.9" stroke="#4a4a4a" stroke-width="0.7"/>
<line x1="200.54" y1="687.6" x2="200.54" y2="688.9" stroke="#4a4a4a" stroke-width="0.7"/>
<line x1="202.57" y1="687.6" x2="202.57" y2="688.9" stroke="#4a4a4a" stroke-width="0.7"/>
<line x1="204.28" y1="687.6" x2="204.28" y2="688.9" stroke="#4a4a4a" stroke-width="0.7"/>
<line x1="205.77" y1="687.6" x2="205.77" y2="688.9" stroke="#4a4a4a" stroke-width="0.7"/>
<line x1="207.08" y1="687.6" x2="207.08" y2="688.9" stroke="#4a4a4a" stroke-width="0.7"/>
<line x1="208.25" y1="687.6" x2="208.25" y2="690.1" stroke="#4a4a4a" stroke-width="0.7"/>
<line x1="215.96" y1="687.6" x2="215.96" y2="688.9" stroke="#4a4a4a" stroke-width="0.7"/>
<line x1="220.48" y1="687.6" x2="220.48" y2="688.9" stroke="#4a4a4a" stroke-width="0.7"/>
<line x1="223.68" y1="687.6" x2="223.68" y2="688.9" stroke="#4a4a4a" stroke-width="0.7"/>
<line x1="226.16" y1="687.6" x2="226.16" y2="688.9" stroke="#4a4a4a" stroke-width="0.7"/>
<line x1="228.19" y1="687.6" x2="228.19" y2="688.9" stroke="#4a4a4a" stroke-width="0.7"/>
<line x1="229.91" y1="687.6" x2="229.91" y2="688.9" stroke="#4a4a4a" stroke-width="0.7"/>
<line x1="231.39" y1="687.6" x2="231.39" y2="688.9" stroke="#4a4a4a" stroke-width="0.7"/>
<line x1="232.7" y1="687.6" x2="232.7" y2="688.9" stroke="#4a4a4a" stroke-width="0.7"/>
<line x1="233.88" y1="687.6" x2="233.88" y2="690.1" stroke="#4a4a4a" stroke-width="0.7"/>
<line x1="241.59" y1="687.6" x2="241.59" y2="688.9" stroke="#4a4a4a" stroke-width="0.7"/>
<line x1="246.1" y1="687.6" x2="246.1" y2="688.9" stroke="#4a4a4a" stroke-width="0.7"/>
<line x1="249.3" y1="687.6" x2="249.3" y2="688.9" stroke="#4a4a4a" stroke-width="0.7"/>
<line x1="251.79" y1="687.6" x2="251.79" y2="688.9" stroke="#4a4a4a" stroke-width="0.7"/>
<line x1="253.82" y1="687.6" x2="253.82" y2="688.9" stroke="#4a4a4a" stroke-width="0.7"/>
<line x1="255.53" y1="687.6" x2="255.53" y2="688.9" stroke="#4a4a4a" stroke-width="0.7"/>
<line x1="257.02" y1="687.6" x2="257.02" y2="688.9" stroke="#4a4a4a" stroke-width="0.7"/>
<line x1="258.33" y1="687.6" x2="258.33" y2="688.9" stroke="#4a4a4a" stroke-width="0.7"/>
<line x1="259.5" y1="687.6" x2="259.5" y2="690.1" stroke="#4a4a4a" stroke-width="0.7"/>
<text x="157" y="698.6" font-size="6.4" text-anchor="middle" fill="#444">10<tspan font-size="4.48" dy="-2.6">0</tspan></text>
<text x="182.62" y="698.6" font-size="6.4" text-anchor="middle" fill="#444">10<tspan font-size="4.48" dy="-2.6">1</tspan></text>
<text x="208.25" y="698.6" font-size="6.4" text-anchor="middle" fill="#444">10<tspan font-size="4.48" dy="-2.6">2</tspan></text>
<text x="233.88" y="698.6" font-size="6.4" text-anchor="middle" fill="#444">10<tspan font-size="4.48" dy="-2.6">3</tspan></text>
<text x="259.5" y="698.6" font-size="6.4" text-anchor="middle" fill="#444">10<tspan font-size="4.48" dy="-2.6">4</tspan></text>
<text x="0" y="0" font-size="14.7" font-weight="normal" text-anchor="middle" fill="#000" transform="translate(16.3,634.7) rotate(-90)">% of Maximum</text>
<text x="30.4" y="714.5" font-size="11" font-weight="normal" text-anchor="start" fill="#000" >C3b Deposition</text>
<line x1="110.4" y1="710.8" x2="408.8" y2="710.8" stroke="#000" stroke-width="2.2"/>
<path d="M423.8,710.8 L404.8,706.2 L408.8,710.8 L404.8,715.4 Z" fill="#000"/>
<text x="292.2" y="528.6" font-size="17.5" font-weight="bold" text-anchor="start" fill="#000" >E</text>
<text x="369.5" y="540.2" font-size="11.1" font-weight="normal" text-anchor="middle" fill="#000" >Heat Inactivated</text>
<text x="369.8" y="553.3" font-size="11.1" font-weight="normal" text-anchor="middle" fill="#000" >High Anti-Neu5Gc</text>
<text x="371.2" y="566.4" font-size="11.1" font-weight="normal" text-anchor="middle" fill="#000" >+ Low Anti-Neu5Gc</text>
<rect x="319.5" y="572.8" width="102.8" height="114.5" fill="#fff" stroke="#b4b4b4" stroke-width="1.7"/>
<path d="M319.5,686.3 C320.17,686.18 322.17,685.93 323.5,685.6 C324.83,685.27 326.17,684.85 327.5,684.3 C328.83,683.75 330.25,683.28 331.5,682.3 C332.75,681.32 334.13,679.9 335,678.4 C335.87,676.9 336.2,675.57 336.7,673.3 C337.2,671.03 337.57,667.68 338,664.8 C338.43,661.92 338.92,658.83 339.3,656 C339.68,653.17 340,650.4 340.3,647.8 C340.6,645.2 340.87,642.27 341.1,640.4 C341.33,638.53 341.47,638.37 341.7,636.6 C341.93,634.83 342.23,632.05 342.5,629.8 C342.77,627.55 342.98,625.33 343.3,623.1 C343.62,620.87 344.1,618.95 344.4,616.4 C344.7,613.85 344.87,610.72 345.1,607.8 C345.33,604.88 345.57,602.23 345.8,598.9 C346.03,595.57 346.28,590.93 346.5,587.8 C346.72,584.67 346.88,579.93 347.1,580.1 C347.32,580.27 347.57,585.67 347.8,588.8 C348.03,591.93 348.28,596.07 348.5,598.9 C348.72,601.73 348.88,603.55 349.1,605.8 C349.32,608.05 349.55,610.82 349.8,612.4 C350.05,613.98 350.33,614.63 350.6,615.3 C350.87,615.97 351.17,615.15 351.4,616.4 C351.63,617.65 351.82,620.78 352,622.8 C352.18,624.82 352.33,626.67 352.5,628.5 C352.67,630.33 352.88,631.82 353,633.8 C353.12,635.78 352.95,638.57 353.2,640.4 C353.45,642.23 354.07,643.37 354.5,644.8 C354.93,646.23 355.3,648.25 355.8,649 C356.3,649.75 356.93,649 357.5,649.3 C358.07,649.6 358.77,649.88 359.2,650.8 C359.63,651.72 359.8,653.65 360.1,654.8 C360.4,655.95 360.63,656.78 361,657.7 C361.37,658.62 361.88,659.58 362.3,660.3 C362.72,661.02 363.08,661.83 363.5,662 C363.92,662.17 364.37,661.45 364.8,661.3 C365.23,661.15 365.6,660.35 366.1,661.1 C366.6,661.85 367.22,664.35 367.8,665.8 C368.38,667.25 368.9,668.63 369.6,669.8 C370.3,670.97 371.13,671.93 372,672.8 C372.87,673.67 373.8,674.17 374.8,675 C375.8,675.83 376.85,676.93 378,677.8 C379.15,678.67 380.22,679.23 381.7,680.2 C383.18,681.17 385.27,682.83 386.9,683.6 C388.53,684.37 390.07,684.5 391.5,684.8 C392.93,685.1 393.33,685.2 395.5,685.4 C397.67,685.6 400,685.85 404.5,686 C409,686.15 419.5,686.25 422.5,686.3 L422.3,687.3 L319.5,687.3 Z" fill="#bababa" stroke="none"/>
<path d="M319.5,686.3 C320.17,686.18 322.17,685.93 323.5,685.6 C324.83,685.27 326.17,684.85 327.5,684.3 C328.83,683.75 330.25,683.28 331.5,682.3 C332.75,681.32 334.13,679.9 335,678.4 C335.87,676.9 336.2,675.57 336.7,673.3 C337.2,671.03 337.57,667.68 338,664.8 C338.43,661.92 338.92,658.83 339.3,656 C339.68,653.17 340,650.4 340.3,647.8 C340.6,645.2 340.87,642.27 341.1,640.4 C341.33,638.53 341.47,638.37 341.7,636.6 C341.93,634.83 342.23,632.05 342.5,629.8 C342.77,627.55 342.98,625.33 343.3,623.1 C343.62,620.87 344.1,618.95 344.4,616.4 C344.7,613.85 344.87,610.72 345.1,607.8 C345.33,604.88 345.57,602.23 345.8,598.9 C346.03,595.57 346.28,590.93 346.5,587.8 C346.72,584.67 346.88,579.93 347.1,580.1 C347.32,580.27 347.57,585.67 347.8,588.8 C348.03,591.93 348.28,596.07 348.5,598.9 C348.72,601.73 348.88,603.55 349.1,605.8 C349.32,608.05 349.55,610.82 349.8,612.4 C350.05,613.98 350.33,614.63 350.6,615.3 C350.87,615.97 351.17,615.15 351.4,616.4 C351.63,617.65 351.82,620.78 352,622.8 C352.18,624.82 352.33,626.67 352.5,628.5 C352.67,630.33 352.88,631.82 353,633.8 C353.12,635.78 352.95,638.57 353.2,640.4 C353.45,642.23 354.07,643.37 354.5,644.8 C354.93,646.23 355.3,648.25 355.8,649 C356.3,649.75 356.93,649 357.5,649.3 C358.07,649.6 358.77,649.88 359.2,650.8 C359.63,651.72 359.8,653.65 360.1,654.8 C360.4,655.95 360.63,656.78 361,657.7 C361.37,658.62 361.88,659.58 362.3,660.3 C362.72,661.02 363.08,661.83 363.5,662 C363.92,662.17 364.37,661.45 364.8,661.3 C365.23,661.15 365.6,660.35 366.1,661.1 C366.6,661.85 367.22,664.35 367.8,665.8 C368.38,667.25 368.9,668.63 369.6,669.8 C370.3,670.97 371.13,671.93 372,672.8 C372.87,673.67 373.8,674.17 374.8,675 C375.8,675.83 376.85,676.93 378,677.8 C379.15,678.67 380.22,679.23 381.7,680.2 C383.18,681.17 385.27,682.83 386.9,683.6 C388.53,684.37 390.07,684.5 391.5,684.8 C392.93,685.1 393.33,685.2 395.5,685.4 C397.67,685.6 400,685.85 404.5,686 C409,686.15 419.5,686.25 422.5,686.3" fill="none" stroke="#262626" stroke-width="0.65"/>
<path d="M331.5,686.3 C332.17,686.25 334.33,686.15 335.5,686 C336.67,685.85 337.58,686.27 338.5,685.4 C339.42,684.53 340.13,682.53 341,680.8 C341.87,679.07 342.82,677.08 343.7,675 C344.58,672.92 345.45,670.62 346.3,668.3 C347.15,665.98 348.1,663.52 348.8,661.1 C349.5,658.68 349.92,656.38 350.5,653.8 C351.08,651.22 351.85,648.12 352.3,645.6 C352.75,643.08 352.87,640.67 353.2,638.7 C353.53,636.73 353.85,635.5 354.3,633.8 C354.75,632.1 355.47,630.75 355.9,628.5 C356.33,626.25 356.57,622.98 356.9,620.3 C357.23,617.62 357.57,614.82 357.9,612.4 C358.23,609.98 358.57,608.05 358.9,605.8 C359.23,603.55 359.6,601.57 359.9,598.9 C360.2,596.23 360.42,592.72 360.7,589.8 C360.98,586.88 361.37,582.07 361.6,581.4 C361.83,580.73 361.93,584 362.1,585.8 C362.27,587.6 362.45,590.03 362.6,592.2 C362.75,594.37 362.85,596.57 363,598.8 C363.15,601.03 363.33,603.02 363.5,605.6 C363.67,608.18 363.82,611.38 364,614.3 C364.18,617.22 364.37,620.48 364.6,623.1 C364.83,625.72 365.13,627.75 365.4,630 C365.67,632.25 365.93,633.72 366.2,636.6 C366.47,639.48 366.73,644.1 367,647.3 C367.27,650.5 367.52,653.22 367.8,655.8 C368.08,658.38 368.33,660.72 368.7,662.8 C369.07,664.88 369.57,666.85 370,668.3 C370.43,669.75 370.72,670.58 371.3,671.5 C371.88,672.42 372.63,673.22 373.5,673.8 C374.37,674.38 375.58,674.42 376.5,675 C377.42,675.58 378.13,676.43 379,677.3 C379.87,678.17 380.38,679.15 381.7,680.2 C383.02,681.25 385.27,682.78 386.9,683.6 C388.53,684.42 389.4,684.7 391.5,685.1 C393.6,685.5 394.33,685.8 399.5,686 C404.67,686.2 418.67,686.25 422.5,686.3" fill="none" stroke="#1e1e1e" stroke-width="0.7" stroke-dasharray="2.2,1.6"/>
<path d="M319.5,686.3 C322,686.27 330.33,686.18 334.5,686.1 C338.67,686.02 341.53,685.92 344.5,685.8 C347.47,685.68 350.3,685.82 352.3,685.4 C354.3,684.98 355.05,684.17 356.5,683.3 C357.95,682.43 359.83,681.87 361,680.2 C362.17,678.53 362.78,675.9 363.5,673.3 C364.22,670.7 364.72,666.63 365.3,664.6 C365.88,662.57 366.58,662.73 367,661.1 C367.42,659.47 367.52,657.1 367.8,654.8 C368.08,652.5 368.4,649.3 368.7,647.3 C369,645.3 369.25,644.22 369.6,642.8 C369.95,641.38 370.4,640.72 370.8,638.8 C371.2,636.88 371.63,633.63 372,631.3 C372.37,628.97 372.67,626.83 373,624.8 C373.33,622.77 373.67,620.52 374,619.1 C374.33,617.68 374.67,617.2 375,616.3 C375.33,615.4 375.65,615.12 376,613.7 C376.35,612.28 376.75,609.82 377.1,607.8 C377.45,605.78 377.82,603.77 378.1,601.6 C378.38,599.43 378.58,597.03 378.8,594.8 C379.02,592.57 379.17,589.78 379.4,588.2 C379.63,586.62 379.93,586.1 380.2,585.3 C380.47,584.5 380.75,583.65 381,583.4 C381.25,583.15 381.48,583.9 381.7,583.8 C381.92,583.7 382.05,583.42 382.3,582.8 C382.55,582.18 382.92,579.6 383.2,580.1 C383.48,580.6 383.73,583.78 384,585.8 C384.27,587.82 384.55,590.12 384.8,592.2 C385.05,594.28 385.28,596.28 385.5,598.3 C385.72,600.32 385.83,602.3 386.1,604.3 C386.37,606.3 386.75,608.5 387.1,610.3 C387.45,612.1 387.85,613.6 388.2,615.1 C388.55,616.6 388.87,617.97 389.2,619.3 C389.53,620.63 389.92,621.85 390.2,623.1 C390.48,624.35 390.68,625.67 390.9,626.8 C391.12,627.93 391.28,628.57 391.5,629.9 C391.72,631.23 391.97,633.23 392.2,634.8 C392.43,636.37 392.63,637.13 392.9,639.3 C393.17,641.47 393.5,645.02 393.8,647.8 C394.1,650.58 394.33,654.25 394.7,656 C395.07,657.75 395.57,657.73 396,658.3 C396.43,658.87 396.88,658.4 397.3,659.4 C397.72,660.4 398.07,662.57 398.5,664.3 C398.93,666.03 399.4,668.13 399.9,669.8 C400.4,671.47 400.93,672.87 401.5,674.3 C402.07,675.73 402.63,677.23 403.3,678.4 C403.97,679.57 404.77,680.43 405.5,681.3 C406.23,682.17 406.77,682.92 407.7,683.6 C408.63,684.28 409.8,685 411.1,685.4 C412.4,685.8 413.6,685.85 415.5,686 C417.4,686.15 421.33,686.25 422.5,686.3" fill="none" stroke="#1e1e1e" stroke-width="0.65"/>
<line x1="319.5" y1="572.8" x2="319.5" y2="687.3" stroke="#8a8a8a" stroke-width="1"/>
<line x1="319.5" y1="687.3" x2="422.3" y2="687.3" stroke="#8a8a8a" stroke-width="1"/>
<line x1="317" y1="687.3" x2="319.5" y2="687.3" stroke="#4a4a4a" stroke-width="0.7"/>
<line x1="318.3" y1="681.57" x2="319.5" y2="681.57" stroke="#4a4a4a" stroke-width="0.7"/>
<line x1="318.3" y1="675.85" x2="319.5" y2="675.85" stroke="#4a4a4a" stroke-width="0.7"/>
<line x1="318.3" y1="670.12" x2="319.5" y2="670.12" stroke="#4a4a4a" stroke-width="0.7"/>
<line x1="317" y1="664.4" x2="319.5" y2="664.4" stroke="#4a4a4a" stroke-width="0.7"/>
<line x1="318.3" y1="658.67" x2="319.5" y2="658.67" stroke="#4a4a4a" stroke-width="0.7"/>
<line x1="318.3" y1="652.95" x2="319.5" y2="652.95" stroke="#4a4a4a" stroke-width="0.7"/>
<line x1="318.3" y1="647.22" x2="319.5" y2="647.22" stroke="#4a4a4a" stroke-width="0.7"/>
<line x1="317" y1="641.5" x2="319.5" y2="641.5" stroke="#4a4a4a" stroke-width="0.7"/>
<line x1="318.3" y1="635.77" x2="319.5" y2="635.77" stroke="#4a4a4a" stroke-width="0.7"/>
<line x1="318.3" y1="630.05" x2="319.5" y2="630.05" stroke="#4a4a4a" stroke-width="0.7"/>
<line x1="318.3" y1="624.32" x2="319.5" y2="624.32" stroke="#4a4a4a" stroke-width="0.7"/>
<line x1="317" y1="618.6" x2="319.5" y2="618.6" stroke="#4a4a4a" stroke-width="0.7"/>
<line x1="318.3" y1="612.88" x2="319.5" y2="612.88" stroke="#4a4a4a" stroke-width="0.7"/>
<line x1="318.3" y1="607.15" x2="319.5" y2="607.15" stroke="#4a4a4a" stroke-width="0.7"/>
<line x1="318.3" y1="601.42" x2="319.5" y2="601.42" stroke="#4a4a4a" stroke-width="0.7"/>
<line x1="317" y1="595.7" x2="319.5" y2="595.7" stroke="#4a4a4a" stroke-width="0.7"/>
<line x1="318.3" y1="589.97" x2="319.5" y2="589.97" stroke="#4a4a4a" stroke-width="0.7"/>
<line x1="318.3" y1="584.25" x2="319.5" y2="584.25" stroke="#4a4a4a" stroke-width="0.7"/>
<line x1="318.3" y1="578.52" x2="319.5" y2="578.52" stroke="#4a4a4a" stroke-width="0.7"/>
<line x1="317" y1="572.8" x2="319.5" y2="572.8" stroke="#4a4a4a" stroke-width="0.7"/>
<line x1="319.5" y1="687.3" x2="319.5" y2="689.8" stroke="#4a4a4a" stroke-width="0.7"/>
<line x1="327.24" y1="687.3" x2="327.24" y2="688.6" stroke="#4a4a4a" stroke-width="0.7"/>
<line x1="331.76" y1="687.3" x2="331.76" y2="688.6" stroke="#4a4a4a" stroke-width="0.7"/>
<line x1="334.97" y1="687.3" x2="334.97" y2="688.6" stroke="#4a4a4a" stroke-width="0.7"/>
<line x1="337.46" y1="687.3" x2="337.46" y2="688.6" stroke="#4a4a4a" stroke-width="0.7"/>
<line x1="339.5" y1="687.3" x2="339.5" y2="688.6" stroke="#4a4a4a" stroke-width="0.7"/>
<line x1="341.22" y1="687.3" x2="341.22" y2="688.6" stroke="#4a4a4a" stroke-width="0.7"/>
<line x1="342.71" y1="687.3" x2="342.71" y2="688.6" stroke="#4a4a4a" stroke-width="0.7"/>
<line x1="344.02" y1="687.3" x2="344.02" y2="688.6" stroke="#4a4a4a" stroke-width="0.7"/>
<line x1="345.2" y1="687.3" x2="345.2" y2="689.8" stroke="#4a4a4a" stroke-width="0.7"/>
<line x1="352.94" y1="687.3" x2="352.94" y2="688.6" stroke="#4a4a4a" stroke-width="0.7"/>
<line x1="357.46" y1="687.3" x2="357.46" y2="688.6" stroke="#4a4a4a" stroke-width="0.7"/>
<line x1="360.67" y1="687.3" x2="360.67" y2="688.6" stroke="#4a4a4a" stroke-width="0.7"/>
<line x1="363.16" y1="687.3" x2="363.16" y2="688.6" stroke="#4a4a4a" stroke-width="0.7"/>
<line x1="365.2" y1="687.3" x2="365.2" y2="688.6" stroke="#4a4a4a" stroke-width="0.7"/>
<line x1="366.92" y1="687.3" x2="366.92" y2="688.6" stroke="#4a4a4a" stroke-width="0.7"/>
<line x1="368.41" y1="687.3" x2="368.41" y2="688.6" stroke="#4a4a4a" stroke-width="0.7"/>
<line x1="369.72" y1="687.3" x2="369.72" y2="688.6" stroke="#4a4a4a" stroke-width="0.7"/>
<line x1="370.9" y1="687.3" x2="370.9" y2="689.8" stroke="#4a4a4a" stroke-width="0.7"/>
<line x1="378.64" y1="687.3" x2="378.64" y2="688.6" stroke="#4a4a4a" stroke-width="0.7"/>
<line x1="383.16" y1="687.3" x2="383.16" y2="688.6" stroke="#4a4a4a" stroke-width="0.7"/>
<line x1="386.37" y1="687.3" x2="386.37" y2="688.6" stroke="#4a4a4a" stroke-width="0.7"/>
<line x1="388.86" y1="687.3" x2="388.86" y2="688.6" stroke="#4a4a4a" stroke-width="0.7"/>
<line x1="390.9" y1="687.3" x2="390.9" y2="688.6" stroke="#4a4a4a" stroke-width="0.7"/>
<line x1="392.62" y1="687.3" x2="392.62" y2="688.6" stroke="#4a4a4a" stroke-width="0.7"/>
<line x1="394.11" y1="687.3" x2="394.11" y2="688.6" stroke="#4a4a4a" stroke-width="0.7"/>
<line x1="395.42" y1="687.3" x2="395.42" y2="688.6" stroke="#4a4a4a" stroke-width="0.7"/>
<line x1="396.6" y1="687.3" x2="396.6" y2="689.8" stroke="#4a4a4a" stroke-width="0.7"/>
<line x1="404.34" y1="687.3" x2="404.34" y2="688.6" stroke="#4a4a4a" stroke-width="0.7"/>
<line x1="408.86" y1="687.3" x2="408.86" y2="688.6" stroke="#4a4a4a" stroke-width="0.7"/>
<line x1="412.07" y1="687.3" x2="412.07" y2="688.6" stroke="#4a4a4a" stroke-width="0.7"/>
<line x1="414.56" y1="687.3" x2="414.56" y2="688.6" stroke="#4a4a4a" stroke-width="0.7"/>
<line x1="416.6" y1="687.3" x2="416.6" y2="688.6" stroke="#4a4a4a" stroke-width="0.7"/>
<line x1="418.32" y1="687.3" x2="418.32" y2="688.6" stroke="#4a4a4a" stroke-width="0.7"/>
<line x1="419.81" y1="687.3" x2="419.81" y2="688.6" stroke="#4a4a4a" stroke-width="0.7"/>
<line x1="421.12" y1="687.3" x2="421.12" y2="688.6" stroke="#4a4a4a" stroke-width="0.7"/>
<line x1="422.3" y1="687.3" x2="422.3" y2="689.8" stroke="#4a4a4a" stroke-width="0.7"/>
<text x="319.5" y="698.3" font-size="6.4" text-anchor="middle" fill="#444">10<tspan font-size="4.48" dy="-2.6">0</tspan></text>
<text x="345.2" y="698.3" font-size="6.4" text-anchor="middle" fill="#444">10<tspan font-size="4.48" dy="-2.6">1</tspan></text>
<text x="370.9" y="698.3" font-size="6.4" text-anchor="middle" fill="#444">10<tspan font-size="4.48" dy="-2.6">2</tspan></text>
<text x="396.6" y="698.3" font-size="6.4" text-anchor="middle" fill="#444">10<tspan font-size="4.48" dy="-2.6">3</tspan></text>
<text x="422.3" y="698.3" font-size="6.4" text-anchor="middle" fill="#444">10<tspan font-size="4.48" dy="-2.6">4</tspan></text>
<text x="0" y="0" font-size="13.8" font-weight="normal" text-anchor="middle" fill="#000" transform="translate(305.8,633) rotate(-90)">% of Maximum</text>
</svg>
</body></html>
